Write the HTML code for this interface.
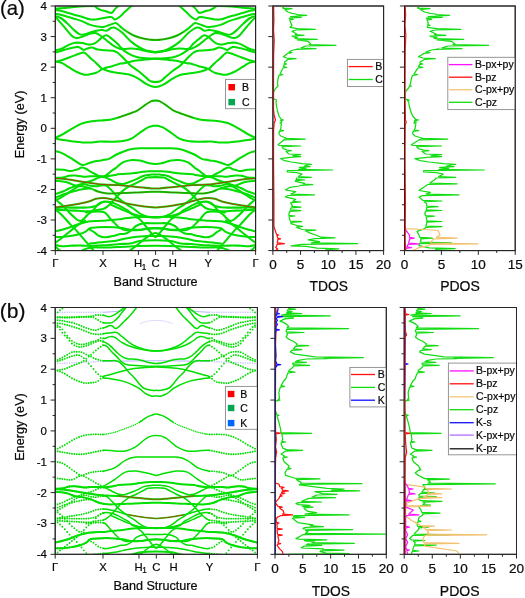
<!DOCTYPE html>
<html><head><meta charset="utf-8"><style>
html,body{margin:0;padding:0;background:#fff;width:525px;height:598px;overflow:hidden}
svg text{font-family:"Liberation Sans", sans-serif}
svg{filter:blur(0.35px)}
</style></head><body>
<svg width="525" height="598" viewBox="0 0 525 598" style="position:absolute;left:0;top:0">
<g font-family="Liberation Sans" fill="#0a0a0a">
<defs><clipPath id="cba"><rect x="55.3" y="6.0" width="200.3" height="244.6"/></clipPath></defs>
<g clip-path="url(#cba)" fill="none" stroke-linecap="round" stroke-linejoin="round">
<path d="M55.70,8.70C56.53,8.63 58.75,8.47 60.70,8.30C62.65,8.13 65.17,7.92 67.40,7.70C69.63,7.48 71.33,7.23 74.10,7.00C76.87,6.77 80.85,6.47 84.00,6.30C87.15,6.13 91.08,5.95 93.00,6.00C94.92,6.05 94.80,6.23 95.50,6.60C96.20,6.97 96.28,7.62 97.20,8.20C98.12,8.78 99.72,9.65 101.00,10.10C102.28,10.55 103.37,10.45 104.90,10.90C106.43,11.35 108.93,12.55 110.20,12.80C111.47,13.05 111.73,12.98 112.50,12.40C113.27,11.82 113.92,10.32 114.80,9.30C115.68,8.28 117.13,7.02 117.80,6.30C118.47,5.58 118.63,5.22 118.80,5.00" stroke="#00df00" stroke-width="2.05"/>
<path d="M192.10,5.00C192.27,5.22 192.43,5.58 193.10,6.30C193.77,7.02 195.22,8.28 196.10,9.30C196.98,10.32 197.63,11.82 198.40,12.40C199.17,12.98 199.43,13.05 200.70,12.80C201.97,12.55 204.47,11.35 206.00,10.90C207.53,10.45 208.62,10.55 209.90,10.10C211.18,9.65 212.78,8.78 213.70,8.20C214.62,7.62 214.70,6.97 215.40,6.60C216.10,6.23 215.98,6.05 217.90,6.00C219.82,5.95 223.75,6.13 226.90,6.30C230.05,6.47 234.03,6.77 236.80,7.00C239.57,7.23 241.27,7.48 243.50,7.70C245.73,7.92 248.25,8.13 250.20,8.30C252.15,8.47 254.37,8.63 255.20,8.70" stroke="#00df00" stroke-width="2.05"/>
<path d="M55.70,10.00C56.53,10.12 58.75,10.25 60.70,10.70C62.65,11.15 65.17,12.03 67.40,12.70C69.63,13.37 71.33,13.92 74.10,14.70C76.87,15.48 81.67,16.70 84.00,17.40C86.33,18.10 86.40,18.53 88.10,18.90C89.80,19.27 92.05,19.67 94.20,19.60C96.35,19.53 98.33,18.93 101.00,18.50C103.67,18.07 108.28,17.15 110.20,17.00C112.12,16.85 111.73,17.17 112.50,17.60C113.27,18.03 113.78,19.58 114.80,19.60C115.82,19.62 117.40,18.52 118.60,17.70C119.80,16.88 121.08,15.58 122.00,14.70C122.92,13.82 122.60,13.80 124.10,12.40C125.60,11.00 129.68,7.53 131.00,6.30C132.32,5.07 131.83,5.22 132.00,5.00" stroke="#00df00" stroke-width="2.05"/>
<path d="M178.90,5.00C179.07,5.22 178.58,5.07 179.90,6.30C181.22,7.53 185.30,11.00 186.80,12.40C188.30,13.80 187.98,13.82 188.90,14.70C189.82,15.58 191.10,16.88 192.30,17.70C193.50,18.52 195.08,19.62 196.10,19.60C197.12,19.58 197.63,18.03 198.40,17.60C199.17,17.17 198.78,16.85 200.70,17.00C202.62,17.15 207.23,18.07 209.90,18.50C212.57,18.93 214.55,19.53 216.70,19.60C218.85,19.67 221.10,19.27 222.80,18.90C224.50,18.53 224.57,18.10 226.90,17.40C229.23,16.70 234.03,15.48 236.80,14.70C239.57,13.92 241.27,13.37 243.50,12.70C245.73,12.03 248.25,11.15 250.20,10.70C252.15,10.25 254.37,10.12 255.20,10.00" stroke="#00df00" stroke-width="2.05"/>
<path d="M55.70,14.00C56.53,14.12 58.75,14.25 60.70,14.70C62.65,15.15 65.17,16.03 67.40,16.70C69.63,17.37 71.67,17.97 74.10,18.70C76.53,19.43 79.42,20.12 82.00,21.10C84.58,22.08 87.07,23.70 89.60,24.60C92.13,25.50 94.92,26.12 97.20,26.50C99.48,26.88 101.38,27.10 103.30,26.90C105.22,26.70 106.67,25.95 108.70,25.30C110.73,24.65 113.85,23.05 115.50,23.00C117.15,22.95 117.52,24.17 118.60,25.00C119.68,25.83 120.83,27.05 122.00,28.00C123.17,28.95 123.73,29.50 125.60,30.70C127.47,31.90 130.65,34.00 133.20,35.20C135.75,36.40 138.35,37.20 140.90,37.90C143.45,38.60 146.07,39.07 148.50,39.40C150.93,39.73 153.13,39.90 155.45,39.90C157.77,39.90 159.97,39.73 162.40,39.40C164.82,39.07 167.45,38.60 170.00,37.90C172.55,37.20 175.15,36.40 177.70,35.20C180.25,34.00 183.43,31.90 185.30,30.70C187.17,29.50 187.73,28.95 188.90,28.00C190.07,27.05 191.22,25.83 192.30,25.00C193.38,24.17 193.75,22.95 195.40,23.00C197.05,23.05 200.17,24.65 202.20,25.30C204.23,25.95 205.68,26.70 207.60,26.90C209.52,27.10 211.42,26.88 213.70,26.50C215.98,26.12 218.77,25.50 221.30,24.60C223.83,23.70 226.32,22.08 228.90,21.10C231.48,20.12 234.37,19.43 236.80,18.70C239.23,17.97 241.27,17.37 243.50,16.70C245.73,16.03 248.25,15.15 250.20,14.70C252.15,14.25 254.37,14.12 255.20,14.00" stroke="#00df00" stroke-width="2.05"/>
<path d="M55.70,16.40C56.53,16.67 58.75,16.83 60.70,18.00C62.65,19.17 65.17,21.38 67.40,23.40C69.63,25.42 72.10,28.32 74.10,30.10C76.10,31.88 77.75,33.35 79.40,34.10C81.05,34.85 81.67,35.05 84.00,34.60C86.33,34.15 90.57,32.18 93.40,31.40C96.23,30.62 98.83,30.02 101.00,29.90C103.17,29.78 104.73,31.02 106.40,30.70C108.07,30.38 109.73,28.52 111.00,28.00C112.27,27.48 112.83,27.35 114.00,27.60C115.17,27.85 116.67,28.68 118.00,29.50C119.33,30.32 120.73,31.42 122.00,32.50C123.27,33.58 124.03,34.43 125.60,36.00C127.17,37.57 129.22,40.07 131.40,41.90C133.58,43.73 136.25,45.58 138.70,47.00C141.15,48.42 143.63,49.60 146.10,50.40C148.57,51.20 151.94,51.55 153.50,51.80C155.06,52.05 154.80,51.90 155.45,51.90C156.10,51.90 155.84,52.05 157.40,51.80C158.96,51.55 162.33,51.20 164.80,50.40C167.27,49.60 169.75,48.42 172.20,47.00C174.65,45.58 177.32,43.73 179.50,41.90C181.68,40.07 183.73,37.57 185.30,36.00C186.87,34.43 187.63,33.58 188.90,32.50C190.17,31.42 191.57,30.32 192.90,29.50C194.23,28.68 195.73,27.85 196.90,27.60C198.07,27.35 198.63,27.48 199.90,28.00C201.17,28.52 202.83,30.38 204.50,30.70C206.17,31.02 207.73,29.78 209.90,29.90C212.07,30.02 214.67,30.62 217.50,31.40C220.33,32.18 224.57,34.15 226.90,34.60C229.23,35.05 229.85,34.85 231.50,34.10C233.15,33.35 234.80,31.88 236.80,30.10C238.80,28.32 241.27,25.42 243.50,23.40C245.73,21.38 248.25,19.17 250.20,18.00C252.15,16.83 254.37,16.67 255.20,16.40" stroke="#00df00" stroke-width="2.05"/>
<path d="M55.70,17.40C56.32,18.07 58.02,19.85 59.40,21.40C60.78,22.95 62.67,25.13 64.00,26.70C65.33,28.27 66.28,29.45 67.40,30.80C68.52,32.15 69.58,33.70 70.70,34.80C71.82,35.90 72.98,36.85 74.10,37.40C75.22,37.95 76.08,38.20 77.40,38.10C78.72,38.00 79.97,37.53 82.00,36.80C84.03,36.07 87.32,34.33 89.60,33.70C91.88,33.07 93.80,32.62 95.70,33.00C97.60,33.38 99.47,35.00 101.00,36.00C102.53,37.00 103.62,37.98 104.90,39.00C106.18,40.02 107.37,41.05 108.70,42.10C110.03,43.15 111.18,44.25 112.90,45.30C114.62,46.35 117.15,47.80 119.00,48.40C120.85,49.00 121.93,48.88 124.00,48.90C126.07,48.92 128.95,48.43 131.40,48.50C133.85,48.57 136.50,48.93 138.70,49.30C140.90,49.67 142.13,50.22 144.60,50.70C147.07,51.18 151.69,51.92 153.50,52.20C155.31,52.48 154.80,52.40 155.45,52.40C156.10,52.40 155.59,52.48 157.40,52.20C159.21,51.92 163.83,51.18 166.30,50.70C168.77,50.22 170.00,49.67 172.20,49.30C174.40,48.93 177.05,48.57 179.50,48.50C181.95,48.43 184.83,48.92 186.90,48.90C188.97,48.88 190.05,49.00 191.90,48.40C193.75,47.80 196.28,46.35 198.00,45.30C199.72,44.25 200.87,43.15 202.20,42.10C203.53,41.05 204.72,40.02 206.00,39.00C207.28,37.98 208.37,37.00 209.90,36.00C211.43,35.00 213.30,33.38 215.20,33.00C217.10,32.62 219.02,33.07 221.30,33.70C223.58,34.33 226.87,36.07 228.90,36.80C230.93,37.53 232.18,38.00 233.50,38.10C234.82,38.20 235.68,37.95 236.80,37.40C237.92,36.85 239.08,35.90 240.20,34.80C241.32,33.70 242.38,32.15 243.50,30.80C244.62,29.45 245.57,28.27 246.90,26.70C248.23,25.13 250.12,22.95 251.50,21.40C252.88,19.85 254.58,18.07 255.20,17.40" stroke="#00df00" stroke-width="2.05"/>
<path d="M55.50,50.30C56.52,50.05 59.32,49.75 61.60,48.80C63.88,47.85 66.92,45.62 69.20,44.60C71.48,43.58 73.13,42.97 75.30,42.70C77.47,42.43 80.28,42.75 82.20,43.00C84.12,43.25 85.50,43.93 86.80,44.20C88.10,44.47 88.70,44.73 90.00,44.60C91.30,44.47 93.08,44.17 94.60,43.40C96.12,42.63 97.77,41.10 99.10,40.00C100.43,38.90 101.38,37.60 102.60,36.80C103.82,36.00 105.27,35.20 106.40,35.20C107.53,35.20 108.13,35.90 109.40,36.80C110.67,37.70 112.60,39.40 114.00,40.60C115.40,41.80 116.63,42.83 117.80,44.00C118.97,45.17 119.92,46.45 121.00,47.60C122.08,48.75 122.57,49.65 124.30,50.90C126.03,52.15 129.00,54.02 131.40,55.10C133.80,56.18 135.63,56.83 138.70,57.40C141.77,57.97 147.01,58.32 149.80,58.50C152.59,58.68 153.57,58.50 155.45,58.50C157.33,58.50 158.31,58.68 161.10,58.50C163.89,58.32 169.13,57.97 172.20,57.40C175.27,56.83 177.10,56.18 179.50,55.10C181.90,54.02 184.87,52.15 186.60,50.90C188.33,49.65 188.82,48.75 189.90,47.60C190.98,46.45 191.93,45.17 193.10,44.00C194.27,42.83 195.50,41.80 196.90,40.60C198.30,39.40 200.23,37.70 201.50,36.80C202.77,35.90 203.37,35.20 204.50,35.20C205.63,35.20 207.08,36.00 208.30,36.80C209.52,37.60 210.47,38.90 211.80,40.00C213.13,41.10 214.78,42.63 216.30,43.40C217.82,44.17 219.60,44.47 220.90,44.60C222.20,44.73 222.80,44.47 224.10,44.20C225.40,43.93 226.78,43.25 228.70,43.00C230.62,42.75 233.43,42.43 235.60,42.70C237.77,42.97 239.42,43.58 241.70,44.60C243.98,45.62 247.02,47.85 249.30,48.80C251.58,49.75 254.38,50.05 255.40,50.30" stroke="#00df00" stroke-width="2.05"/>
<path d="M55.50,52.60C56.52,52.28 59.32,51.40 61.60,50.70C63.88,50.00 66.65,49.03 69.20,48.40C71.75,47.77 75.12,47.03 76.90,46.90C78.68,46.77 78.77,47.10 79.90,47.60C81.03,48.10 82.43,49.77 83.70,49.90C84.97,50.03 86.10,48.78 87.50,48.40C88.90,48.02 90.42,47.42 92.10,47.60C93.78,47.78 95.42,49.05 97.60,49.50C99.78,49.95 102.65,50.10 105.20,50.30C107.75,50.50 110.98,50.38 112.90,50.70C114.82,51.02 115.43,51.45 116.70,52.20C117.97,52.95 119.23,54.07 120.50,55.20C121.77,56.33 123.03,57.72 124.30,59.00C125.57,60.28 126.92,61.70 128.10,62.90C129.28,64.10 129.63,64.80 131.40,66.20C133.17,67.60 136.25,69.40 138.70,71.30C141.15,73.20 144.38,76.12 146.10,77.60C147.82,79.08 148.12,79.55 149.00,80.20C149.88,80.85 150.33,81.20 151.40,81.50C152.47,81.80 154.10,82.00 155.45,82.00C156.80,82.00 158.42,81.80 159.50,81.50C160.57,81.20 161.02,80.85 161.90,80.20C162.78,79.55 163.08,79.08 164.80,77.60C166.52,76.12 169.75,73.20 172.20,71.30C174.65,69.40 177.73,67.60 179.50,66.20C181.27,64.80 181.62,64.10 182.80,62.90C183.98,61.70 185.33,60.28 186.60,59.00C187.87,57.72 189.13,56.33 190.40,55.20C191.67,54.07 192.93,52.95 194.20,52.20C195.47,51.45 196.08,51.02 198.00,50.70C199.92,50.38 203.15,50.50 205.70,50.30C208.25,50.10 211.12,49.95 213.30,49.50C215.48,49.05 217.12,47.78 218.80,47.60C220.48,47.42 222.00,48.02 223.40,48.40C224.80,48.78 225.93,50.03 227.20,49.90C228.47,49.77 229.87,48.10 231.00,47.60C232.13,47.10 232.22,46.77 234.00,46.90C235.78,47.03 239.15,47.77 241.70,48.40C244.25,49.03 247.02,50.00 249.30,50.70C251.58,51.40 254.38,52.28 255.40,52.60" stroke="#00df00" stroke-width="2.05"/>
<path d="M55.50,61.70C56.52,61.45 59.32,60.90 61.60,60.20C63.88,59.50 66.65,58.45 69.20,57.50C71.75,56.55 74.60,55.32 76.90,54.50C79.20,53.68 81.48,52.73 83.00,52.60C84.52,52.47 84.73,52.75 86.00,53.70C87.27,54.65 88.92,56.77 90.60,58.30C92.28,59.83 94.30,61.25 96.10,62.90C97.90,64.55 100.25,67.18 101.40,68.20C102.55,69.22 101.73,68.50 103.00,69.00C104.27,69.50 106.72,70.57 109.00,71.20C111.28,71.83 114.20,72.37 116.70,72.80C119.20,73.23 121.55,73.40 124.00,73.80C126.45,74.20 128.95,74.37 131.40,75.20C133.85,76.03 136.32,77.40 138.70,78.80C141.08,80.20 143.58,82.35 145.70,83.60C147.82,84.85 149.78,85.73 151.40,86.30C153.03,86.87 154.10,87.00 155.45,87.00C156.80,87.00 157.87,86.87 159.50,86.30C161.12,85.73 163.08,84.85 165.20,83.60C167.32,82.35 169.82,80.20 172.20,78.80C174.58,77.40 177.05,76.03 179.50,75.20C181.95,74.37 184.45,74.20 186.90,73.80C189.35,73.40 191.70,73.23 194.20,72.80C196.70,72.37 199.62,71.83 201.90,71.20C204.18,70.57 206.63,69.50 207.90,69.00C209.17,68.50 208.35,69.22 209.50,68.20C210.65,67.18 213.00,64.55 214.80,62.90C216.60,61.25 218.62,59.83 220.30,58.30C221.98,56.77 223.63,54.65 224.90,53.70C226.17,52.75 226.38,52.47 227.90,52.60C229.42,52.73 231.70,53.68 234.00,54.50C236.30,55.32 239.15,56.55 241.70,57.50C244.25,58.45 247.02,59.50 249.30,60.20C251.58,60.90 254.38,61.45 255.40,61.70" stroke="#00df00" stroke-width="2.05"/>
<path d="M55.50,61.70C56.52,61.90 59.32,61.95 61.60,62.90C63.88,63.85 66.65,65.88 69.20,67.40C71.75,68.92 74.35,70.78 76.90,72.00C79.45,73.22 82.32,74.32 84.50,74.70C86.68,75.08 88.07,74.62 90.00,74.30C91.93,73.98 94.20,73.57 96.10,72.80C98.00,72.03 100.25,70.37 101.40,69.70C102.55,69.03 101.08,69.43 103.00,68.80C104.92,68.17 109.98,66.77 112.90,65.90C115.82,65.03 118.65,64.05 120.50,63.60C122.35,63.15 122.18,63.57 124.00,63.20C125.82,62.83 128.95,61.88 131.40,61.40C133.85,60.92 135.63,60.67 138.70,60.30C141.77,59.93 147.01,59.45 149.80,59.20C152.59,58.95 153.57,58.80 155.45,58.80C157.33,58.80 158.31,58.95 161.10,59.20C163.89,59.45 169.13,59.93 172.20,60.30C175.27,60.67 177.05,60.92 179.50,61.40C181.95,61.88 185.08,62.83 186.90,63.20C188.72,63.57 188.55,63.15 190.40,63.60C192.25,64.05 195.08,65.03 198.00,65.90C200.92,66.77 205.98,68.17 207.90,68.80C209.82,69.43 208.35,69.03 209.50,69.70C210.65,70.37 212.90,72.03 214.80,72.80C216.70,73.57 218.97,73.98 220.90,74.30C222.83,74.62 224.22,75.08 226.40,74.70C228.58,74.32 231.45,73.22 234.00,72.00C236.55,70.78 239.15,68.92 241.70,67.40C244.25,65.88 247.02,63.85 249.30,62.90C251.58,61.95 254.38,61.90 255.40,61.70" stroke="#00df00" stroke-width="2.05"/>
<path d="M55.90,137.60C57.17,136.97 60.65,135.38 63.50,133.80C66.35,132.22 69.82,129.85 73.00,128.10C76.18,126.35 79.42,124.45 82.60,123.30C85.78,122.15 89.20,121.65 92.10,121.20C95.00,120.75 96.78,120.90 100.00,120.60C103.22,120.30 107.58,120.17 111.40,119.40C115.22,118.63 119.80,116.98 122.90,116.00C126.00,115.02 127.53,114.45 130.00,113.50C132.47,112.55 135.08,111.78 137.70,110.30C140.32,108.82 143.42,106.13 145.70,104.60C147.98,103.07 149.87,101.77 151.40,101.10C152.93,100.43 154.23,100.68 154.90,100.60C155.57,100.52 155.27,100.60 155.45,100.60C155.63,100.60 155.32,100.52 156.00,100.60C156.67,100.68 157.97,100.43 159.50,101.10C161.03,101.77 162.92,103.07 165.20,104.60C167.48,106.13 170.58,108.82 173.20,110.30C175.82,111.78 178.43,112.55 180.90,113.50C183.37,114.45 184.90,115.02 188.00,116.00C191.10,116.98 195.68,118.63 199.50,119.40C203.32,120.17 207.68,120.30 210.90,120.60C214.12,120.90 215.90,120.75 218.80,121.20C221.70,121.65 225.12,122.15 228.30,123.30C231.48,124.45 234.72,126.35 237.90,128.10C241.08,129.85 244.55,132.22 247.40,133.80C250.25,135.38 253.73,136.97 255.00,137.60" stroke="#00df00" stroke-width="2.05"/>
<path d="M55.90,138.60C57.17,138.83 60.65,139.53 63.50,140.00C66.35,140.47 69.82,141.00 73.00,141.40C76.18,141.80 79.42,142.23 82.60,142.40C85.78,142.57 89.20,142.53 92.10,142.40C95.00,142.27 96.78,141.72 100.00,141.60C103.22,141.48 107.58,141.78 111.40,141.70C115.22,141.62 119.47,141.67 122.90,141.10C126.33,140.53 129.15,139.72 132.00,138.30C134.85,136.88 137.33,134.42 140.00,132.60C142.67,130.78 145.83,128.53 148.00,127.40C150.17,126.27 151.76,126.08 153.00,125.80C154.24,125.52 154.63,125.70 155.45,125.70C156.27,125.70 156.66,125.52 157.90,125.80C159.14,126.08 160.73,126.27 162.90,127.40C165.07,128.53 168.23,130.78 170.90,132.60C173.57,134.42 176.05,136.88 178.90,138.30C181.75,139.72 184.57,140.53 188.00,141.10C191.43,141.67 195.68,141.62 199.50,141.70C203.32,141.78 207.68,141.48 210.90,141.60C214.12,141.72 215.90,142.27 218.80,142.40C221.70,142.53 225.12,142.57 228.30,142.40C231.48,142.23 234.72,141.80 237.90,141.40C241.08,141.00 244.55,140.47 247.40,140.00C250.25,139.53 253.73,138.83 255.00,138.60" stroke="#00df00" stroke-width="2.05"/>
<path d="M55.90,151.20C57.17,151.63 60.65,152.42 63.50,153.80C66.35,155.18 69.98,157.67 73.00,159.50C76.02,161.33 79.22,164.08 81.60,164.80C83.98,165.52 85.23,164.37 87.30,163.80C89.37,163.23 92.10,161.90 94.00,161.40C95.90,160.90 97.03,161.07 98.70,160.80C100.37,160.53 102.27,160.12 104.00,159.80C105.73,159.48 106.92,159.82 109.10,158.90C111.28,157.98 113.85,155.83 117.10,154.30C120.35,152.77 124.78,150.70 128.60,149.70C132.42,148.70 135.53,148.53 140.00,148.30C144.47,148.07 150.30,148.30 155.45,148.30C160.60,148.30 166.42,148.07 170.90,148.30C175.37,148.53 178.48,148.70 182.30,149.70C186.12,150.70 190.55,152.77 193.80,154.30C197.05,155.83 199.62,157.98 201.80,158.90C203.98,159.82 205.17,159.48 206.90,159.80C208.63,160.12 210.53,160.53 212.20,160.80C213.87,161.07 215.00,160.90 216.90,161.40C218.80,161.90 221.53,163.23 223.60,163.80C225.67,164.37 226.92,165.52 229.30,164.80C231.68,164.08 234.88,161.33 237.90,159.50C240.92,157.67 244.55,155.18 247.40,153.80C250.25,152.42 253.73,151.63 255.00,151.20" stroke="#00df00" stroke-width="2.05"/>
<path d="M55.90,169.50C57.17,169.55 61.00,169.55 63.50,169.80C66.00,170.05 68.98,170.97 70.90,171.00C72.82,171.03 73.80,170.30 75.00,170.00C76.20,169.70 77.00,169.60 78.10,169.20C79.20,168.80 80.22,167.63 81.60,167.60C82.98,167.57 84.93,168.32 86.40,169.00C87.87,169.68 88.65,170.73 90.40,171.70C92.15,172.67 95.52,174.10 96.90,174.80C98.28,175.50 97.57,175.58 98.70,175.90C99.83,176.22 101.88,177.27 103.70,176.70C105.52,176.13 108.12,173.62 109.60,172.50C111.08,171.38 111.63,170.68 112.60,170.00C113.57,169.32 113.68,169.68 115.40,168.40C117.12,167.12 120.13,163.70 122.90,162.30C125.67,160.90 129.15,160.28 132.00,160.00C134.85,159.72 137.33,160.12 140.00,160.60C142.67,161.08 145.43,162.33 148.00,162.90C150.57,163.47 152.97,164.00 155.45,164.00C157.93,164.00 160.32,163.47 162.90,162.90C165.47,162.33 168.23,161.08 170.90,160.60C173.57,160.12 176.05,159.72 178.90,160.00C181.75,160.28 185.23,160.90 188.00,162.30C190.77,163.70 193.78,167.12 195.50,168.40C197.22,169.68 197.33,169.32 198.30,170.00C199.27,170.68 199.82,171.38 201.30,172.50C202.78,173.62 205.38,176.13 207.20,176.70C209.02,177.27 211.07,176.22 212.20,175.90C213.33,175.58 212.62,175.50 214.00,174.80C215.38,174.10 218.75,172.67 220.50,171.70C222.25,170.73 223.03,169.68 224.50,169.00C225.97,168.32 227.92,167.57 229.30,167.60C230.68,167.63 231.70,168.80 232.80,169.20C233.90,169.60 234.70,169.70 235.90,170.00C237.10,170.30 238.08,171.03 240.00,171.00C241.92,170.97 244.90,170.05 247.40,169.80C249.90,169.55 253.73,169.55 255.00,169.50" stroke="#00df00" stroke-width="2.05"/>
<path d="M55.80,177.90C57.00,177.85 60.80,177.95 63.00,177.60C65.20,177.25 66.98,176.15 69.00,175.80C71.02,175.45 72.60,175.35 75.10,175.50C77.60,175.65 81.45,176.57 84.00,176.70C86.55,176.83 87.95,176.37 90.40,176.30C92.85,176.23 95.92,176.30 98.70,176.30C101.48,176.30 104.32,176.52 107.10,176.30C109.88,176.08 113.58,175.35 115.40,175.00C117.22,174.65 116.17,174.40 118.00,174.20C119.83,174.00 123.62,174.00 126.40,173.80C129.18,173.60 131.92,173.35 134.70,173.00C137.48,172.65 140.32,171.98 143.10,171.70C145.88,171.42 149.34,171.37 151.40,171.30C153.46,171.23 154.10,171.30 155.45,171.30C156.80,171.30 157.44,171.23 159.50,171.30C161.56,171.37 165.02,171.42 167.80,171.70C170.58,171.98 173.42,172.65 176.20,173.00C178.98,173.35 181.72,173.60 184.50,173.80C187.28,174.00 191.07,174.00 192.90,174.20C194.73,174.40 193.68,174.65 195.50,175.00C197.32,175.35 201.02,176.08 203.80,176.30C206.58,176.52 209.42,176.30 212.20,176.30C214.98,176.30 218.05,176.23 220.50,176.30C222.95,176.37 224.35,176.83 226.90,176.70C229.45,176.57 233.30,175.65 235.80,175.50C238.30,175.35 239.88,175.45 241.90,175.80C243.92,176.15 245.70,177.25 247.90,177.60C250.10,177.95 253.90,177.85 255.10,177.90" stroke="#00df00" stroke-width="2.05"/>
<path d="M55.80,178.50C57.00,178.55 60.28,178.55 63.00,178.80C65.72,179.05 68.93,179.52 72.10,180.00C75.27,180.48 78.95,181.20 82.00,181.70C85.05,182.20 87.62,182.58 90.40,183.00C93.18,183.42 95.92,183.92 98.70,184.20C101.48,184.48 104.32,184.55 107.10,184.70C109.88,184.85 113.58,185.03 115.40,185.10C117.22,185.17 116.17,184.97 118.00,185.10C119.83,185.23 123.62,185.62 126.40,185.90C129.18,186.18 131.92,186.52 134.70,186.80C137.48,187.08 140.32,187.33 143.10,187.60C145.88,187.87 149.34,188.27 151.40,188.40C153.46,188.53 154.10,188.40 155.45,188.40C156.80,188.40 157.44,188.53 159.50,188.40C161.56,188.27 165.02,187.87 167.80,187.60C170.58,187.33 173.42,187.08 176.20,186.80C178.98,186.52 181.72,186.18 184.50,185.90C187.28,185.62 191.07,185.23 192.90,185.10C194.73,184.97 193.68,185.17 195.50,185.10C197.32,185.03 201.02,184.85 203.80,184.70C206.58,184.55 209.42,184.48 212.20,184.20C214.98,183.92 217.72,183.42 220.50,183.00C223.28,182.58 225.85,182.20 228.90,181.70C231.95,181.20 235.63,180.48 238.80,180.00C241.97,179.52 245.18,179.05 247.90,178.80C250.62,178.55 253.90,178.55 255.10,178.50" stroke="#00df00" stroke-width="2.05"/>
<path d="M55.80,181.00C57.00,181.10 60.80,181.25 63.00,181.60C65.20,181.95 66.98,182.45 69.00,183.10C71.02,183.75 72.93,184.97 75.10,185.50C77.27,186.03 79.45,185.82 82.00,186.30C84.55,186.78 87.62,187.48 90.40,188.40C93.18,189.32 95.92,190.97 98.70,191.80C101.48,192.63 104.32,193.13 107.10,193.40C109.88,193.67 113.58,193.43 115.40,193.40C117.22,193.37 116.17,193.28 118.00,193.20C119.83,193.12 123.62,193.00 126.40,192.90C129.18,192.80 131.92,192.72 134.70,192.60C137.48,192.48 140.32,192.33 143.10,192.20C145.88,192.07 149.34,191.87 151.40,191.80C153.46,191.73 154.10,191.80 155.45,191.80C156.80,191.80 157.44,191.73 159.50,191.80C161.56,191.87 165.02,192.07 167.80,192.20C170.58,192.33 173.42,192.48 176.20,192.60C178.98,192.72 181.72,192.80 184.50,192.90C187.28,193.00 191.07,193.12 192.90,193.20C194.73,193.28 193.68,193.37 195.50,193.40C197.32,193.43 201.02,193.67 203.80,193.40C206.58,193.13 209.42,192.63 212.20,191.80C214.98,190.97 217.72,189.32 220.50,188.40C223.28,187.48 226.35,186.78 228.90,186.30C231.45,185.82 233.63,186.03 235.80,185.50C237.97,184.97 239.88,183.75 241.90,183.10C243.92,182.45 245.70,181.95 247.90,181.60C250.10,181.25 253.90,181.10 255.10,181.00" stroke="#00df00" stroke-width="2.05"/>
<path d="M55.80,193.90C57.00,193.50 60.80,192.40 63.00,191.50C65.20,190.60 66.98,189.40 69.00,188.50C71.02,187.60 72.60,187.00 75.10,186.10C77.60,185.20 81.17,184.03 84.00,183.10C86.83,182.17 89.65,181.42 92.10,180.50C94.55,179.58 96.77,178.23 98.70,177.60C100.63,176.97 102.50,176.70 103.70,176.70C104.90,176.70 104.65,177.02 105.90,177.60C107.15,178.18 109.30,179.27 111.20,180.20C113.10,181.13 115.38,182.57 117.30,183.20C119.22,183.83 120.92,184.12 122.70,184.00C124.48,183.88 125.78,183.27 128.00,182.50C130.22,181.73 133.48,180.50 136.00,179.40C138.52,178.30 140.53,176.70 143.10,175.90C145.67,175.10 149.34,174.82 151.40,174.60C153.46,174.38 154.10,174.60 155.45,174.60C156.80,174.60 157.44,174.38 159.50,174.60C161.56,174.82 165.23,175.10 167.80,175.90C170.37,176.70 172.38,178.30 174.90,179.40C177.42,180.50 180.68,181.73 182.90,182.50C185.12,183.27 186.42,183.88 188.20,184.00C189.98,184.12 191.68,183.83 193.60,183.20C195.52,182.57 197.80,181.13 199.70,180.20C201.60,179.27 203.75,178.18 205.00,177.60C206.25,177.02 206.00,176.70 207.20,176.70C208.40,176.70 210.27,176.97 212.20,177.60C214.13,178.23 216.35,179.58 218.80,180.50C221.25,181.42 224.07,182.17 226.90,183.10C229.73,184.03 233.30,185.20 235.80,186.10C238.30,187.00 239.88,187.60 241.90,188.50C243.92,189.40 245.70,190.60 247.90,191.50C250.10,192.40 253.90,193.50 255.10,193.90" stroke="#00df00" stroke-width="2.05"/>
<path d="M55.80,197.50C57.00,197.00 60.80,195.30 63.00,194.50C65.20,193.70 66.98,193.30 69.00,192.70C71.02,192.10 72.60,191.50 75.10,190.90C77.60,190.30 81.45,189.52 84.00,189.10C86.55,188.68 89.33,188.52 90.40,188.40" stroke="#00df00" stroke-width="2.05"/>
<path d="M220.50,188.40C221.57,188.52 224.35,188.68 226.90,189.10C229.45,189.52 233.30,190.30 235.80,190.90C238.30,191.50 239.88,192.10 241.90,192.70C243.92,193.30 245.70,193.70 247.90,194.50C250.10,195.30 253.90,197.00 255.10,197.50" stroke="#00df00" stroke-width="2.05"/>
<path d="M55.80,200.50C56.50,200.10 58.30,199.10 60.00,198.10C61.70,197.10 63.98,195.80 66.00,194.50C68.02,193.20 70.08,191.60 72.10,190.30C74.12,189.00 76.12,187.70 78.10,186.70C80.08,185.70 81.95,184.45 84.00,184.30C86.05,184.15 88.40,185.47 90.40,185.80C92.40,186.13 94.30,186.35 96.00,186.30C97.70,186.25 98.95,185.63 100.60,185.50C102.25,185.37 104.38,184.98 105.90,185.50C107.42,186.02 108.43,187.45 109.70,188.60C110.97,189.75 112.35,191.13 113.50,192.40C114.65,193.67 115.70,195.18 116.60,196.20C117.50,197.22 117.88,197.62 118.90,198.50C119.92,199.38 121.18,200.37 122.70,201.50C124.22,202.63 126.35,204.22 128.00,205.30C129.65,206.38 131.27,207.13 132.60,208.00C133.93,208.87 134.77,209.58 136.00,210.50C137.23,211.42 138.67,212.67 140.00,213.50C141.33,214.33 142.67,214.95 144.00,215.50C145.33,216.05 146.09,216.52 148.00,216.80C149.91,217.08 152.97,217.20 155.45,217.20C157.93,217.20 160.99,217.08 162.90,216.80C164.81,216.52 165.57,216.05 166.90,215.50C168.23,214.95 169.57,214.33 170.90,213.50C172.23,212.67 173.67,211.42 174.90,210.50C176.13,209.58 176.97,208.87 178.30,208.00C179.63,207.13 181.25,206.38 182.90,205.30C184.55,204.22 186.68,202.63 188.20,201.50C189.72,200.37 190.98,199.38 192.00,198.50C193.02,197.62 193.40,197.22 194.30,196.20C195.20,195.18 196.25,193.67 197.40,192.40C198.55,191.13 199.93,189.75 201.20,188.60C202.47,187.45 203.48,186.02 205.00,185.50C206.52,184.98 208.65,185.37 210.30,185.50C211.95,185.63 213.20,186.25 214.90,186.30C216.60,186.35 218.50,186.13 220.50,185.80C222.50,185.47 224.85,184.15 226.90,184.30C228.95,184.45 230.82,185.70 232.80,186.70C234.78,187.70 236.78,189.00 238.80,190.30C240.82,191.60 242.88,193.20 244.90,194.50C246.92,195.80 249.20,197.10 250.90,198.10C252.60,199.10 254.40,200.10 255.10,200.50" stroke="#00df00" stroke-width="2.05"/>
<path d="M55.60,207.30C56.67,207.17 59.58,206.85 62.00,206.50C64.42,206.15 67.42,205.62 70.10,205.20C72.78,204.78 75.45,204.48 78.10,204.00C80.75,203.52 83.67,202.92 86.00,202.30C88.33,201.68 90.43,200.88 92.10,200.30C93.77,199.72 94.08,199.17 96.00,198.80C97.92,198.43 101.07,198.03 103.60,198.10C106.13,198.17 108.65,198.67 111.20,199.20C113.75,199.73 116.35,200.57 118.90,201.30C121.45,202.03 123.65,202.95 126.50,203.60C129.35,204.25 133.07,204.73 136.00,205.20C138.93,205.67 141.42,206.07 144.10,206.40C146.78,206.73 150.21,207.03 152.10,207.20C153.99,207.37 154.33,207.40 155.45,207.40C156.57,207.40 156.91,207.37 158.80,207.20C160.69,207.03 164.12,206.73 166.80,206.40C169.48,206.07 171.97,205.67 174.90,205.20C177.83,204.73 181.55,204.25 184.40,203.60C187.25,202.95 189.45,202.03 192.00,201.30C194.55,200.57 197.15,199.73 199.70,199.20C202.25,198.67 204.77,198.17 207.30,198.10C209.83,198.03 212.98,198.43 214.90,198.80C216.82,199.17 217.13,199.72 218.80,200.30C220.47,200.88 222.57,201.68 224.90,202.30C227.23,202.92 230.15,203.52 232.80,204.00C235.45,204.48 238.12,204.78 240.80,205.20C243.48,205.62 246.48,206.15 248.90,206.50C251.32,206.85 254.23,207.17 255.30,207.30" stroke="#00df00" stroke-width="2.05"/>
<path d="M55.60,208.00C56.67,207.93 59.58,207.67 62.00,207.60C64.42,207.53 67.42,207.60 70.10,207.60C72.78,207.60 75.43,207.60 78.10,207.60C80.77,207.60 84.12,207.67 86.10,207.60C88.08,207.53 88.68,207.40 90.00,207.20C91.32,207.00 92.67,206.80 94.00,206.40C95.33,206.00 96.40,205.57 98.00,204.80C99.60,204.03 101.40,202.22 103.60,201.80C105.80,201.38 108.92,201.83 111.20,202.30C113.48,202.77 115.38,203.72 117.30,204.60C119.22,205.48 120.92,206.62 122.70,207.60C124.48,208.58 126.45,209.37 128.00,210.50C129.55,211.63 129.98,213.48 132.00,214.40C134.02,215.32 137.42,215.58 140.10,216.00C142.78,216.42 145.54,216.70 148.10,216.90C150.66,217.10 153.00,217.20 155.45,217.20C157.90,217.20 160.24,217.10 162.80,216.90C165.36,216.70 168.12,216.42 170.80,216.00C173.48,215.58 176.88,215.32 178.90,214.40C180.92,213.48 181.35,211.63 182.90,210.50C184.45,209.37 186.42,208.58 188.20,207.60C189.98,206.62 191.68,205.48 193.60,204.60C195.52,203.72 197.42,202.77 199.70,202.30C201.98,201.83 205.10,201.38 207.30,201.80C209.50,202.22 211.30,204.03 212.90,204.80C214.50,205.57 215.57,206.00 216.90,206.40C218.23,206.80 219.58,207.00 220.90,207.20C222.22,207.40 222.82,207.53 224.80,207.60C226.78,207.67 230.13,207.60 232.80,207.60C235.47,207.60 238.12,207.60 240.80,207.60C243.48,207.60 246.48,207.53 248.90,207.60C251.32,207.67 254.23,207.93 255.30,208.00" stroke="#00df00" stroke-width="2.05"/>
<path d="M55.60,209.60C56.67,209.67 59.58,209.87 62.00,210.00C64.42,210.13 67.42,210.27 70.10,210.40C72.78,210.53 75.43,210.67 78.10,210.80C80.77,210.93 83.78,211.17 86.10,211.20C88.42,211.23 90.28,211.20 92.00,211.00C93.72,210.80 94.45,210.37 96.40,210.00C98.35,209.63 101.77,209.47 103.70,208.80C105.63,208.13 106.75,206.97 108.00,206.00C109.25,205.03 109.65,204.63 111.20,203.00C112.75,201.37 115.38,198.22 117.30,196.20C119.22,194.18 120.92,192.43 122.70,190.90C124.48,189.37 125.78,188.28 128.00,187.00C130.22,185.72 133.50,184.45 136.00,183.20C138.50,181.95 141.12,180.43 143.00,179.50C144.88,178.57 145.23,178.00 147.30,177.60C149.38,177.20 152.73,177.10 155.45,177.10C158.17,177.10 161.52,177.20 163.60,177.60C165.67,178.00 166.02,178.57 167.90,179.50C169.78,180.43 172.40,181.95 174.90,183.20C177.40,184.45 180.68,185.72 182.90,187.00C185.12,188.28 186.42,189.37 188.20,190.90C189.98,192.43 191.68,194.18 193.60,196.20C195.52,198.22 198.15,201.37 199.70,203.00C201.25,204.63 201.65,205.03 202.90,206.00C204.15,206.97 205.27,208.13 207.20,208.80C209.13,209.47 212.55,209.63 214.50,210.00C216.45,210.37 217.18,210.80 218.90,211.00C220.62,211.20 222.48,211.23 224.80,211.20C227.12,211.17 230.13,210.93 232.80,210.80C235.47,210.67 238.12,210.53 240.80,210.40C243.48,210.27 246.48,210.13 248.90,210.00C251.32,209.87 254.23,209.67 255.30,209.60" stroke="#00df00" stroke-width="2.05"/>
<path d="M56.40,210.40C57.33,211.20 59.72,212.92 62.00,215.20C64.28,217.48 67.95,221.82 70.10,224.10C72.25,226.38 73.17,227.03 74.90,228.90C76.63,230.77 78.63,233.15 80.50,235.30C82.37,237.45 84.35,239.78 86.10,241.80C87.85,243.82 89.77,245.97 91.00,247.40C92.23,248.83 93.08,249.90 93.50,250.40" stroke="#00df00" stroke-width="2.05"/>
<path d="M217.40,250.40C217.82,249.90 218.67,248.83 219.90,247.40C221.13,245.97 223.05,243.82 224.80,241.80C226.55,239.78 228.53,237.45 230.40,235.30C232.27,233.15 234.27,230.77 236.00,228.90C237.73,227.03 238.65,226.38 240.80,224.10C242.95,221.82 246.62,217.48 248.90,215.20C251.18,212.92 253.57,211.20 254.50,210.40" stroke="#00df00" stroke-width="2.05"/>
<path d="M55.80,199.30C56.30,199.80 57.83,201.43 58.80,202.30C59.77,203.17 60.33,203.32 61.60,204.50C62.87,205.68 64.50,207.47 66.40,209.40C68.30,211.33 70.65,214.18 73.00,216.10C75.35,218.02 78.12,221.07 80.50,220.90C82.88,220.73 85.37,216.70 87.30,215.10C89.23,213.50 90.50,212.88 92.10,211.30C93.70,209.72 95.58,206.98 96.90,205.60C98.22,204.22 98.82,203.63 100.00,203.00C101.18,202.37 103.33,202.00 104.00,201.80" stroke="#00df00" stroke-width="2.05"/>
<path d="M206.90,201.80C207.57,202.00 209.72,202.37 210.90,203.00C212.08,203.63 212.68,204.22 214.00,205.60C215.32,206.98 217.20,209.72 218.80,211.30C220.40,212.88 221.67,213.50 223.60,215.10C225.53,216.70 228.02,220.73 230.40,220.90C232.78,221.07 235.55,218.02 237.90,216.10C240.25,214.18 242.60,211.33 244.50,209.40C246.40,207.47 248.03,205.68 249.30,204.50C250.57,203.32 251.13,203.17 252.10,202.30C253.07,201.43 254.60,199.80 255.10,199.30" stroke="#00df00" stroke-width="2.05"/>
<path d="M55.60,242.60C56.67,241.78 59.58,239.58 62.00,237.70C64.42,235.82 67.95,233.03 70.10,231.30C72.25,229.57 73.17,228.63 74.90,227.30C76.63,225.97 78.82,224.43 80.50,223.30C82.18,222.17 84.25,220.97 85.00,220.50" stroke="#00df00" stroke-width="2.05"/>
<path d="M225.90,220.50C226.65,220.97 228.72,222.17 230.40,223.30C232.08,224.43 234.27,225.97 236.00,227.30C237.73,228.63 238.65,229.57 240.80,231.30C242.95,233.03 246.48,235.82 248.90,237.70C251.32,239.58 254.23,241.78 255.30,242.60" stroke="#00df00" stroke-width="2.05"/>
<path d="M55.60,231.30C56.67,231.03 59.58,230.37 62.00,229.70C64.42,229.03 67.42,228.23 70.10,227.30C72.78,226.37 75.43,224.97 78.10,224.10C80.77,223.23 84.12,222.57 86.10,222.10C88.08,221.63 88.02,221.50 90.00,221.30C91.98,221.10 95.32,221.03 98.00,220.90C100.68,220.77 103.42,220.70 106.10,220.50C108.78,220.30 111.43,219.97 114.10,219.70C116.77,219.43 119.45,219.23 122.10,218.90C124.75,218.57 127.00,218.03 130.00,217.70C133.00,217.37 137.08,217.03 140.10,216.90C143.12,216.77 145.54,216.87 148.10,216.90C150.66,216.93 153.00,217.10 155.45,217.10C157.90,217.10 160.24,216.93 162.80,216.90C165.36,216.87 167.78,216.77 170.80,216.90C173.82,217.03 177.90,217.37 180.90,217.70C183.90,218.03 186.15,218.57 188.80,218.90C191.45,219.23 194.13,219.43 196.80,219.70C199.47,219.97 202.12,220.30 204.80,220.50C207.48,220.70 210.22,220.77 212.90,220.90C215.58,221.03 218.92,221.10 220.90,221.30C222.88,221.50 222.82,221.63 224.80,222.10C226.78,222.57 230.13,223.23 232.80,224.10C235.47,224.97 238.12,226.37 240.80,227.30C243.48,228.23 246.48,229.03 248.90,229.70C251.32,230.37 254.23,231.03 255.30,231.30" stroke="#00df00" stroke-width="2.05"/>
<path d="M55.60,236.90C56.67,236.90 59.58,237.03 62.00,236.90C64.42,236.77 67.42,236.50 70.10,236.10C72.78,235.70 75.43,235.30 78.10,234.50C80.77,233.70 84.12,232.37 86.10,231.30C88.08,230.23 88.02,228.77 90.00,228.10C91.98,227.43 95.32,227.50 98.00,227.30C100.68,227.10 103.42,226.90 106.10,226.90C108.78,226.90 111.43,227.10 114.10,227.30C116.77,227.50 119.45,227.70 122.10,228.10C124.75,228.50 127.00,229.43 130.00,229.70C133.00,229.97 137.08,229.90 140.10,229.70C143.12,229.50 145.54,228.77 148.10,228.50C150.66,228.23 153.00,228.10 155.45,228.10C157.90,228.10 160.24,228.23 162.80,228.50C165.36,228.77 167.78,229.50 170.80,229.70C173.82,229.90 177.90,229.97 180.90,229.70C183.90,229.43 186.15,228.50 188.80,228.10C191.45,227.70 194.13,227.50 196.80,227.30C199.47,227.10 202.12,226.90 204.80,226.90C207.48,226.90 210.22,227.10 212.90,227.30C215.58,227.50 218.92,227.43 220.90,228.10C222.88,228.77 222.82,230.23 224.80,231.30C226.78,232.37 230.13,233.70 232.80,234.50C235.47,235.30 238.12,235.70 240.80,236.10C243.48,236.50 246.48,236.77 248.90,236.90C251.32,237.03 254.23,236.90 255.30,236.90" stroke="#00df00" stroke-width="2.05"/>
<path d="M86.00,212.50C86.67,212.42 87.05,212.08 90.00,212.00C92.95,211.92 100.35,210.92 103.70,212.00C107.05,213.08 108.37,216.75 110.10,218.50C111.83,220.25 112.63,221.03 114.10,222.50C115.57,223.97 117.30,226.10 118.90,227.30C120.50,228.50 121.85,229.20 123.70,229.70C125.55,230.20 127.28,230.27 130.00,230.30C132.72,230.33 137.00,230.18 140.00,229.90C143.00,229.62 145.43,228.87 148.00,228.60C150.57,228.33 152.97,228.30 155.45,228.30C157.93,228.30 160.32,228.33 162.90,228.60C165.47,228.87 167.90,229.62 170.90,229.90C173.90,230.18 178.18,230.33 180.90,230.30C183.62,230.27 185.35,230.20 187.20,229.70C189.05,229.20 190.40,228.50 192.00,227.30C193.60,226.10 195.33,223.97 196.80,222.50C198.27,221.03 199.07,220.25 200.80,218.50C202.53,216.75 203.85,213.08 207.20,212.00C210.55,210.92 217.95,211.92 220.90,212.00C223.85,212.08 224.23,212.42 224.90,212.50" stroke="#00df00" stroke-width="2.05"/>
<path d="M110.10,204.40C111.17,204.87 114.23,206.20 116.50,207.20C118.77,208.20 121.45,209.47 123.70,210.40C125.95,211.33 127.28,211.87 130.00,212.80C132.72,213.73 137.00,215.30 140.00,216.00C143.00,216.70 145.43,216.80 148.00,217.00C150.57,217.20 152.97,217.20 155.45,217.20C157.93,217.20 160.32,217.20 162.90,217.00C165.47,216.80 167.90,216.70 170.90,216.00C173.90,215.30 178.18,213.73 180.90,212.80C183.62,211.87 184.95,211.33 187.20,210.40C189.45,209.47 192.13,208.20 194.40,207.20C196.67,206.20 199.73,204.87 200.80,204.40" stroke="#00df00" stroke-width="2.05"/>
<path d="M90.00,229.70C90.67,230.10 92.67,231.17 94.00,232.10C95.33,233.03 96.67,234.50 98.00,235.30C99.33,236.10 100.65,236.57 102.00,236.90C103.35,237.23 104.08,237.50 106.10,237.30C108.12,237.10 111.70,236.23 114.10,235.70C116.50,235.17 118.50,234.47 120.50,234.10C122.50,233.73 124.18,234.18 126.10,233.50C128.02,232.82 130.35,231.25 132.00,230.00C133.65,228.75 133.98,227.12 136.00,226.00C138.02,224.88 141.42,223.75 144.10,223.30C146.78,222.85 150.21,223.30 152.10,223.30C153.99,223.30 154.33,223.30 155.45,223.30C156.57,223.30 156.91,223.30 158.80,223.30C160.69,223.30 164.12,222.85 166.80,223.30C169.48,223.75 172.88,224.88 174.90,226.00C176.92,227.12 177.25,228.75 178.90,230.00C180.55,231.25 182.88,232.82 184.80,233.50C186.72,234.18 188.40,233.73 190.40,234.10C192.40,234.47 194.40,235.17 196.80,235.70C199.20,236.23 202.78,237.10 204.80,237.30C206.82,237.50 207.55,237.23 208.90,236.90C210.25,236.57 211.57,236.10 212.90,235.30C214.23,234.50 215.57,233.03 216.90,232.10C218.23,231.17 220.23,230.10 220.90,229.70" stroke="#00df00" stroke-width="2.05"/>
<path d="M90.00,243.40C91.33,243.27 95.32,242.87 98.00,242.60C100.68,242.33 103.42,242.07 106.10,241.80C108.78,241.53 111.43,241.42 114.10,241.00C116.77,240.58 119.45,239.85 122.10,239.30C124.75,238.75 127.02,238.17 130.00,237.70C132.98,237.23 137.00,236.78 140.00,236.50C143.00,236.22 145.43,236.08 148.00,236.00C150.57,235.92 152.97,236.00 155.45,236.00C157.93,236.00 160.32,235.92 162.90,236.00C165.47,236.08 167.90,236.22 170.90,236.50C173.90,236.78 177.92,237.23 180.90,237.70C183.88,238.17 186.15,238.75 188.80,239.30C191.45,239.85 194.13,240.58 196.80,241.00C199.47,241.42 202.12,241.53 204.80,241.80C207.48,242.07 210.22,242.33 212.90,242.60C215.58,242.87 219.57,243.27 220.90,243.40" stroke="#00df00" stroke-width="2.05"/>
<path d="M55.60,245.00C56.67,245.20 59.58,246.07 62.00,246.20C64.42,246.33 67.42,245.93 70.10,245.80C72.78,245.67 75.43,245.40 78.10,245.40C80.77,245.40 83.45,245.73 86.10,245.80C88.75,245.87 91.68,245.85 94.00,245.80C96.32,245.75 97.33,245.63 100.00,245.50C102.67,245.37 106.67,245.25 110.00,245.00C113.33,244.75 116.67,244.25 120.00,244.00C123.33,243.75 126.67,244.00 130.00,243.50C133.33,243.00 135.76,241.55 140.00,241.00C144.24,240.45 150.30,240.20 155.45,240.20C160.60,240.20 166.66,240.45 170.90,241.00C175.14,241.55 177.57,243.00 180.90,243.50C184.23,244.00 187.57,243.75 190.90,244.00C194.23,244.25 197.57,244.75 200.90,245.00C204.23,245.25 208.23,245.37 210.90,245.50C213.57,245.63 214.58,245.75 216.90,245.80C219.22,245.85 222.15,245.87 224.80,245.80C227.45,245.73 230.13,245.40 232.80,245.40C235.47,245.40 238.12,245.67 240.80,245.80C243.48,245.93 246.48,246.33 248.90,246.20C251.32,246.07 254.23,245.20 255.30,245.00" stroke="#00df00" stroke-width="2.05"/>
<path d="M82.10,250.40C83.03,250.03 85.72,248.70 87.70,248.20C89.68,247.70 91.95,247.53 94.00,247.40C96.05,247.27 97.33,247.40 100.00,247.40C102.67,247.40 106.67,247.47 110.00,247.40C113.33,247.33 116.67,247.15 120.00,247.00C123.33,246.85 126.67,246.67 130.00,246.50C133.33,246.33 135.76,246.12 140.00,246.00C144.24,245.88 150.30,245.80 155.45,245.80C160.60,245.80 166.66,245.88 170.90,246.00C175.14,246.12 177.57,246.33 180.90,246.50C184.23,246.67 187.57,246.85 190.90,247.00C194.23,247.15 197.57,247.33 200.90,247.40C204.23,247.47 208.23,247.40 210.90,247.40C213.57,247.40 214.85,247.27 216.90,247.40C218.95,247.53 221.22,247.70 223.20,248.20C225.18,248.70 227.87,250.03 228.80,250.40" stroke="#00df00" stroke-width="2.05"/>
<path d="M136.00,217.00C136.67,217.42 138.67,218.33 140.00,219.50C141.33,220.67 142.67,222.42 144.00,224.00C145.33,225.58 146.67,227.33 148.00,229.00C149.33,230.67 150.76,232.67 152.00,234.00C153.24,235.33 154.30,237.00 155.45,237.00C156.60,237.00 157.66,235.33 158.90,234.00C160.14,232.67 161.57,230.67 162.90,229.00C164.23,227.33 165.57,225.58 166.90,224.00C168.23,222.42 169.57,220.67 170.90,219.50C172.23,218.33 174.23,217.42 174.90,217.00" stroke="#00df00" stroke-width="2.05"/>
<path d="M130.00,250.40C131.00,249.67 134.00,247.57 136.00,246.00C138.00,244.43 140.00,242.58 142.00,241.00C144.00,239.42 145.76,237.83 148.00,236.50C150.24,235.17 152.97,233.00 155.45,233.00C157.93,233.00 160.66,235.17 162.90,236.50C165.14,237.83 166.90,239.42 168.90,241.00C170.90,242.58 172.90,244.43 174.90,246.00C176.90,247.57 179.90,249.67 180.90,250.40" stroke="#00df00" stroke-width="2.05"/>
<path d="M55.60,246.60C56.13,247.13 58.07,249.17 58.80,249.80C59.53,250.43 59.80,250.30 60.00,250.40" stroke="#00df00" stroke-width="2.05"/>
<path d="M250.90,250.40C251.10,250.30 251.37,250.43 252.10,249.80C252.83,249.17 254.77,247.13 255.30,246.60" stroke="#00df00" stroke-width="2.05"/>
<clipPath id="ovcba0"><rect x="128.0" y="6.0" width="54.9" height="244.6"/></clipPath>
<path d="M55.70,14.00C56.53,14.12 58.75,14.25 60.70,14.70C62.65,15.15 65.17,16.03 67.40,16.70C69.63,17.37 71.67,17.97 74.10,18.70C76.53,19.43 79.42,20.12 82.00,21.10C84.58,22.08 87.07,23.70 89.60,24.60C92.13,25.50 94.92,26.12 97.20,26.50C99.48,26.88 101.38,27.10 103.30,26.90C105.22,26.70 106.67,25.95 108.70,25.30C110.73,24.65 113.85,23.05 115.50,23.00C117.15,22.95 117.52,24.17 118.60,25.00C119.68,25.83 120.83,27.05 122.00,28.00C123.17,28.95 123.73,29.50 125.60,30.70C127.47,31.90 130.65,34.00 133.20,35.20C135.75,36.40 138.35,37.20 140.90,37.90C143.45,38.60 146.07,39.07 148.50,39.40C150.93,39.73 153.13,39.90 155.45,39.90C157.77,39.90 159.97,39.73 162.40,39.40C164.82,39.07 167.45,38.60 170.00,37.90C172.55,37.20 175.15,36.40 177.70,35.20C180.25,34.00 183.43,31.90 185.30,30.70C187.17,29.50 187.73,28.95 188.90,28.00C190.07,27.05 191.22,25.83 192.30,25.00C193.38,24.17 193.75,22.95 195.40,23.00C197.05,23.05 200.17,24.65 202.20,25.30C204.23,25.95 205.68,26.70 207.60,26.90C209.52,27.10 211.42,26.88 213.70,26.50C215.98,26.12 218.77,25.50 221.30,24.60C223.83,23.70 226.32,22.08 228.90,21.10C231.48,20.12 234.37,19.43 236.80,18.70C239.23,17.97 241.27,17.37 243.50,16.70C245.73,16.03 248.25,15.15 250.20,14.70C252.15,14.25 254.37,14.12 255.20,14.00" stroke="#3f8500" stroke-width="1.0" clip-path="url(#ovcba0)"/>
<clipPath id="ovcba1"><rect x="118.0" y="6.0" width="74.9" height="244.6"/></clipPath>
<path d="M55.90,137.60C57.17,136.97 60.65,135.38 63.50,133.80C66.35,132.22 69.82,129.85 73.00,128.10C76.18,126.35 79.42,124.45 82.60,123.30C85.78,122.15 89.20,121.65 92.10,121.20C95.00,120.75 96.78,120.90 100.00,120.60C103.22,120.30 107.58,120.17 111.40,119.40C115.22,118.63 119.80,116.98 122.90,116.00C126.00,115.02 127.53,114.45 130.00,113.50C132.47,112.55 135.08,111.78 137.70,110.30C140.32,108.82 143.42,106.13 145.70,104.60C147.98,103.07 149.87,101.77 151.40,101.10C152.93,100.43 154.23,100.68 154.90,100.60C155.57,100.52 155.27,100.60 155.45,100.60C155.63,100.60 155.32,100.52 156.00,100.60C156.67,100.68 157.97,100.43 159.50,101.10C161.03,101.77 162.92,103.07 165.20,104.60C167.48,106.13 170.58,108.82 173.20,110.30C175.82,111.78 178.43,112.55 180.90,113.50C183.37,114.45 184.90,115.02 188.00,116.00C191.10,116.98 195.68,118.63 199.50,119.40C203.32,120.17 207.68,120.30 210.90,120.60C214.12,120.90 215.90,120.75 218.80,121.20C221.70,121.65 225.12,122.15 228.30,123.30C231.48,124.45 234.72,126.35 237.90,128.10C241.08,129.85 244.55,132.22 247.40,133.80C250.25,135.38 253.73,136.97 255.00,137.60" stroke="#3f8500" stroke-width="1.0" clip-path="url(#ovcba1)"/>
<clipPath id="ovcba2"><rect x="55.0" y="6.0" width="200.9" height="244.6"/></clipPath>
<path d="M55.80,178.50C57.00,178.55 60.28,178.55 63.00,178.80C65.72,179.05 68.93,179.52 72.10,180.00C75.27,180.48 78.95,181.20 82.00,181.70C85.05,182.20 87.62,182.58 90.40,183.00C93.18,183.42 95.92,183.92 98.70,184.20C101.48,184.48 104.32,184.55 107.10,184.70C109.88,184.85 113.58,185.03 115.40,185.10C117.22,185.17 116.17,184.97 118.00,185.10C119.83,185.23 123.62,185.62 126.40,185.90C129.18,186.18 131.92,186.52 134.70,186.80C137.48,187.08 140.32,187.33 143.10,187.60C145.88,187.87 149.34,188.27 151.40,188.40C153.46,188.53 154.10,188.40 155.45,188.40C156.80,188.40 157.44,188.53 159.50,188.40C161.56,188.27 165.02,187.87 167.80,187.60C170.58,187.33 173.42,187.08 176.20,186.80C178.98,186.52 181.72,186.18 184.50,185.90C187.28,185.62 191.07,185.23 192.90,185.10C194.73,184.97 193.68,185.17 195.50,185.10C197.32,185.03 201.02,184.85 203.80,184.70C206.58,184.55 209.42,184.48 212.20,184.20C214.98,183.92 217.72,183.42 220.50,183.00C223.28,182.58 225.85,182.20 228.90,181.70C231.95,181.20 235.63,180.48 238.80,180.00C241.97,179.52 245.18,179.05 247.90,178.80C250.62,178.55 253.90,178.55 255.10,178.50" stroke="#b03c00" stroke-width="1.0" clip-path="url(#ovcba2)"/>
<clipPath id="ovcba3"><rect x="95.0" y="6.0" width="120.9" height="244.6"/></clipPath>
<path d="M55.80,181.00C57.00,181.10 60.80,181.25 63.00,181.60C65.20,181.95 66.98,182.45 69.00,183.10C71.02,183.75 72.93,184.97 75.10,185.50C77.27,186.03 79.45,185.82 82.00,186.30C84.55,186.78 87.62,187.48 90.40,188.40C93.18,189.32 95.92,190.97 98.70,191.80C101.48,192.63 104.32,193.13 107.10,193.40C109.88,193.67 113.58,193.43 115.40,193.40C117.22,193.37 116.17,193.28 118.00,193.20C119.83,193.12 123.62,193.00 126.40,192.90C129.18,192.80 131.92,192.72 134.70,192.60C137.48,192.48 140.32,192.33 143.10,192.20C145.88,192.07 149.34,191.87 151.40,191.80C153.46,191.73 154.10,191.80 155.45,191.80C156.80,191.80 157.44,191.73 159.50,191.80C161.56,191.87 165.02,192.07 167.80,192.20C170.58,192.33 173.42,192.48 176.20,192.60C178.98,192.72 181.72,192.80 184.50,192.90C187.28,193.00 191.07,193.12 192.90,193.20C194.73,193.28 193.68,193.37 195.50,193.40C197.32,193.43 201.02,193.67 203.80,193.40C206.58,193.13 209.42,192.63 212.20,191.80C214.98,190.97 217.72,189.32 220.50,188.40C223.28,187.48 226.35,186.78 228.90,186.30C231.45,185.82 233.63,186.03 235.80,185.50C237.97,184.97 239.88,183.75 241.90,183.10C243.92,182.45 245.70,181.95 247.90,181.60C250.10,181.25 253.90,181.10 255.10,181.00" stroke="#3f8500" stroke-width="1.0" clip-path="url(#ovcba3)"/>
<clipPath id="ovcba4"><rect x="55.0" y="6.0" width="200.9" height="244.6"/></clipPath>
<path d="M55.60,207.30C56.67,207.17 59.58,206.85 62.00,206.50C64.42,206.15 67.42,205.62 70.10,205.20C72.78,204.78 75.45,204.48 78.10,204.00C80.75,203.52 83.67,202.92 86.00,202.30C88.33,201.68 90.43,200.88 92.10,200.30C93.77,199.72 94.08,199.17 96.00,198.80C97.92,198.43 101.07,198.03 103.60,198.10C106.13,198.17 108.65,198.67 111.20,199.20C113.75,199.73 116.35,200.57 118.90,201.30C121.45,202.03 123.65,202.95 126.50,203.60C129.35,204.25 133.07,204.73 136.00,205.20C138.93,205.67 141.42,206.07 144.10,206.40C146.78,206.73 150.21,207.03 152.10,207.20C153.99,207.37 154.33,207.40 155.45,207.40C156.57,207.40 156.91,207.37 158.80,207.20C160.69,207.03 164.12,206.73 166.80,206.40C169.48,206.07 171.97,205.67 174.90,205.20C177.83,204.73 181.55,204.25 184.40,203.60C187.25,202.95 189.45,202.03 192.00,201.30C194.55,200.57 197.15,199.73 199.70,199.20C202.25,198.67 204.77,198.17 207.30,198.10C209.83,198.03 212.98,198.43 214.90,198.80C216.82,199.17 217.13,199.72 218.80,200.30C220.47,200.88 222.57,201.68 224.90,202.30C227.23,202.92 230.15,203.52 232.80,204.00C235.45,204.48 238.12,204.78 240.80,205.20C243.48,205.62 246.48,206.15 248.90,206.50C251.32,206.85 254.23,207.17 255.30,207.30" stroke="#b03c00" stroke-width="1.0" clip-path="url(#ovcba4)"/>
</g>
<rect x="55.30" y="6.00" width="200.30" height="244.60" fill="none" stroke="#262626" stroke-width="1"/>
<line x1="50.70" y1="250.60" x2="55.30" y2="250.60" stroke="#262626" stroke-width="1"/>
<line x1="52.70" y1="235.31" x2="55.30" y2="235.31" stroke="#262626" stroke-width="1"/>
<line x1="50.70" y1="220.03" x2="55.30" y2="220.03" stroke="#262626" stroke-width="1"/>
<line x1="52.70" y1="204.74" x2="55.30" y2="204.74" stroke="#262626" stroke-width="1"/>
<line x1="50.70" y1="189.45" x2="55.30" y2="189.45" stroke="#262626" stroke-width="1"/>
<line x1="52.70" y1="174.16" x2="55.30" y2="174.16" stroke="#262626" stroke-width="1"/>
<line x1="50.70" y1="158.88" x2="55.30" y2="158.88" stroke="#262626" stroke-width="1"/>
<line x1="52.70" y1="143.59" x2="55.30" y2="143.59" stroke="#262626" stroke-width="1"/>
<line x1="50.70" y1="128.30" x2="55.30" y2="128.30" stroke="#262626" stroke-width="1"/>
<line x1="52.70" y1="113.01" x2="55.30" y2="113.01" stroke="#262626" stroke-width="1"/>
<line x1="50.70" y1="97.72" x2="55.30" y2="97.72" stroke="#262626" stroke-width="1"/>
<line x1="52.70" y1="82.44" x2="55.30" y2="82.44" stroke="#262626" stroke-width="1"/>
<line x1="50.70" y1="67.15" x2="55.30" y2="67.15" stroke="#262626" stroke-width="1"/>
<line x1="52.70" y1="51.86" x2="55.30" y2="51.86" stroke="#262626" stroke-width="1"/>
<line x1="50.70" y1="36.58" x2="55.30" y2="36.58" stroke="#262626" stroke-width="1"/>
<line x1="52.70" y1="21.29" x2="55.30" y2="21.29" stroke="#262626" stroke-width="1"/>
<line x1="50.70" y1="6.00" x2="55.30" y2="6.00" stroke="#262626" stroke-width="1"/>
<text x="47.00" y="254.60" font-size="11.5" text-anchor="end" stroke="#0a0a0a" stroke-width="0.22" >-4</text>
<text x="47.00" y="224.03" font-size="11.5" text-anchor="end" stroke="#0a0a0a" stroke-width="0.22" >-3</text>
<text x="47.00" y="193.45" font-size="11.5" text-anchor="end" stroke="#0a0a0a" stroke-width="0.22" >-2</text>
<text x="47.00" y="162.88" font-size="11.5" text-anchor="end" stroke="#0a0a0a" stroke-width="0.22" >-1</text>
<text x="47.00" y="132.30" font-size="11.5" text-anchor="end" stroke="#0a0a0a" stroke-width="0.22" >0</text>
<text x="47.00" y="101.72" font-size="11.5" text-anchor="end" stroke="#0a0a0a" stroke-width="0.22" >1</text>
<text x="47.00" y="71.15" font-size="11.5" text-anchor="end" stroke="#0a0a0a" stroke-width="0.22" >2</text>
<text x="47.00" y="40.58" font-size="11.5" text-anchor="end" stroke="#0a0a0a" stroke-width="0.22" >3</text>
<text x="47.00" y="10.00" font-size="11.5" text-anchor="end" stroke="#0a0a0a" stroke-width="0.22" >4</text>
<line x1="55.30" y1="250.60" x2="55.30" y2="254.90" stroke="#262626" stroke-width="1"/>
<line x1="103.00" y1="250.60" x2="103.00" y2="254.90" stroke="#262626" stroke-width="1"/>
<line x1="138.40" y1="250.60" x2="138.40" y2="254.90" stroke="#262626" stroke-width="1"/>
<line x1="155.60" y1="250.60" x2="155.60" y2="254.90" stroke="#262626" stroke-width="1"/>
<line x1="172.80" y1="250.60" x2="172.80" y2="254.90" stroke="#262626" stroke-width="1"/>
<line x1="208.20" y1="250.60" x2="208.20" y2="254.90" stroke="#262626" stroke-width="1"/>
<line x1="255.60" y1="250.60" x2="255.60" y2="254.90" stroke="#262626" stroke-width="1"/>
<text x="55.30" y="267.00" font-size="11.3" text-anchor="middle" stroke="#0a0a0a" stroke-width="0.22" >Γ</text>
<text x="103.00" y="267.00" font-size="11.3" text-anchor="middle" stroke="#0a0a0a" stroke-width="0.22" >X</text>
<text x="138.10" y="267.00" font-size="11.3" text-anchor="middle" stroke="#0a0a0a" stroke-width="0.22" >H</text>
<text x="144.00" y="269.70" font-size="8.2" text-anchor="middle" stroke="#0a0a0a" stroke-width="0.22" >1</text>
<text x="155.60" y="267.00" font-size="11.3" text-anchor="middle" stroke="#0a0a0a" stroke-width="0.22" >C</text>
<text x="172.80" y="267.00" font-size="11.3" text-anchor="middle" stroke="#0a0a0a" stroke-width="0.22" >H</text>
<text x="208.20" y="267.00" font-size="11.3" text-anchor="middle" stroke="#0a0a0a" stroke-width="0.22" >Y</text>
<text x="255.60" y="267.00" font-size="11.3" text-anchor="middle" stroke="#0a0a0a" stroke-width="0.22" >Γ</text>
<text x="155.60" y="286.40" font-size="12.6" text-anchor="middle" stroke="#0a0a0a" stroke-width="0.22" >Band Structure</text>
<rect x="272.90" y="6.00" width="110.70" height="244.60" fill="none" stroke="#262626" stroke-width="1"/>
<line x1="268.30" y1="250.60" x2="272.90" y2="250.60" stroke="#262626" stroke-width="1"/>
<line x1="268.30" y1="220.03" x2="272.90" y2="220.03" stroke="#262626" stroke-width="1"/>
<line x1="268.30" y1="189.45" x2="272.90" y2="189.45" stroke="#262626" stroke-width="1"/>
<line x1="268.30" y1="158.88" x2="272.90" y2="158.88" stroke="#262626" stroke-width="1"/>
<line x1="268.30" y1="128.30" x2="272.90" y2="128.30" stroke="#262626" stroke-width="1"/>
<line x1="268.30" y1="97.72" x2="272.90" y2="97.72" stroke="#262626" stroke-width="1"/>
<line x1="268.30" y1="67.15" x2="272.90" y2="67.15" stroke="#262626" stroke-width="1"/>
<line x1="268.30" y1="36.58" x2="272.90" y2="36.58" stroke="#262626" stroke-width="1"/>
<line x1="268.30" y1="6.00" x2="272.90" y2="6.00" stroke="#262626" stroke-width="1"/>
<line x1="272.90" y1="250.60" x2="272.90" y2="254.90" stroke="#262626" stroke-width="1"/>
<text x="272.90" y="268.70" font-size="13.5" text-anchor="middle" stroke="#0a0a0a" stroke-width="0.22" >0</text>
<line x1="300.57" y1="250.60" x2="300.57" y2="254.90" stroke="#262626" stroke-width="1"/>
<text x="300.57" y="268.70" font-size="13.5" text-anchor="middle" stroke="#0a0a0a" stroke-width="0.22" >5</text>
<line x1="328.25" y1="250.60" x2="328.25" y2="254.90" stroke="#262626" stroke-width="1"/>
<text x="328.25" y="268.70" font-size="13.5" text-anchor="middle" stroke="#0a0a0a" stroke-width="0.22" >10</text>
<line x1="355.93" y1="250.60" x2="355.93" y2="254.90" stroke="#262626" stroke-width="1"/>
<text x="355.93" y="268.70" font-size="13.5" text-anchor="middle" stroke="#0a0a0a" stroke-width="0.22" >15</text>
<line x1="383.60" y1="250.60" x2="383.60" y2="254.90" stroke="#262626" stroke-width="1"/>
<text x="383.60" y="268.70" font-size="13.5" text-anchor="middle" stroke="#0a0a0a" stroke-width="0.22" >20</text>
<line x1="286.74" y1="250.60" x2="286.74" y2="253.00" stroke="#262626" stroke-width="1"/>
<line x1="314.41" y1="250.60" x2="314.41" y2="253.00" stroke="#262626" stroke-width="1"/>
<line x1="342.09" y1="250.60" x2="342.09" y2="253.00" stroke="#262626" stroke-width="1"/>
<line x1="369.76" y1="250.60" x2="369.76" y2="253.00" stroke="#262626" stroke-width="1"/>
<text x="328.70" y="290.50" font-size="13.8" text-anchor="middle" stroke="#0a0a0a" stroke-width="0.22" >TDOS</text>
<rect x="404.50" y="6.00" width="110.70" height="244.60" fill="none" stroke="#262626" stroke-width="1"/>
<line x1="399.90" y1="250.60" x2="404.50" y2="250.60" stroke="#262626" stroke-width="1"/>
<line x1="401.90" y1="235.31" x2="404.50" y2="235.31" stroke="#262626" stroke-width="1"/>
<line x1="399.90" y1="220.03" x2="404.50" y2="220.03" stroke="#262626" stroke-width="1"/>
<line x1="401.90" y1="204.74" x2="404.50" y2="204.74" stroke="#262626" stroke-width="1"/>
<line x1="399.90" y1="189.45" x2="404.50" y2="189.45" stroke="#262626" stroke-width="1"/>
<line x1="401.90" y1="174.16" x2="404.50" y2="174.16" stroke="#262626" stroke-width="1"/>
<line x1="399.90" y1="158.88" x2="404.50" y2="158.88" stroke="#262626" stroke-width="1"/>
<line x1="401.90" y1="143.59" x2="404.50" y2="143.59" stroke="#262626" stroke-width="1"/>
<line x1="399.90" y1="128.30" x2="404.50" y2="128.30" stroke="#262626" stroke-width="1"/>
<line x1="401.90" y1="113.01" x2="404.50" y2="113.01" stroke="#262626" stroke-width="1"/>
<line x1="399.90" y1="97.72" x2="404.50" y2="97.72" stroke="#262626" stroke-width="1"/>
<line x1="401.90" y1="82.44" x2="404.50" y2="82.44" stroke="#262626" stroke-width="1"/>
<line x1="399.90" y1="67.15" x2="404.50" y2="67.15" stroke="#262626" stroke-width="1"/>
<line x1="401.90" y1="51.86" x2="404.50" y2="51.86" stroke="#262626" stroke-width="1"/>
<line x1="399.90" y1="36.58" x2="404.50" y2="36.58" stroke="#262626" stroke-width="1"/>
<line x1="401.90" y1="21.29" x2="404.50" y2="21.29" stroke="#262626" stroke-width="1"/>
<line x1="399.90" y1="6.00" x2="404.50" y2="6.00" stroke="#262626" stroke-width="1"/>
<line x1="404.50" y1="250.60" x2="404.50" y2="254.90" stroke="#262626" stroke-width="1"/>
<text x="404.50" y="268.70" font-size="13.5" text-anchor="middle" stroke="#0a0a0a" stroke-width="0.22" >0</text>
<line x1="441.40" y1="250.60" x2="441.40" y2="254.90" stroke="#262626" stroke-width="1"/>
<text x="441.40" y="268.70" font-size="13.5" text-anchor="middle" stroke="#0a0a0a" stroke-width="0.22" >5</text>
<line x1="478.30" y1="250.60" x2="478.30" y2="254.90" stroke="#262626" stroke-width="1"/>
<text x="478.30" y="268.70" font-size="13.5" text-anchor="middle" stroke="#0a0a0a" stroke-width="0.22" >10</text>
<line x1="515.20" y1="250.60" x2="515.20" y2="254.90" stroke="#262626" stroke-width="1"/>
<text x="515.20" y="268.70" font-size="13.5" text-anchor="middle" stroke="#0a0a0a" stroke-width="0.22" >15</text>
<line x1="422.95" y1="250.60" x2="422.95" y2="253.00" stroke="#262626" stroke-width="1"/>
<line x1="459.85" y1="250.60" x2="459.85" y2="253.00" stroke="#262626" stroke-width="1"/>
<line x1="496.75" y1="250.60" x2="496.75" y2="253.00" stroke="#262626" stroke-width="1"/>
<text x="460.00" y="291.00" font-size="14.0" text-anchor="middle" stroke="#0a0a0a" stroke-width="0.22" >PDOS</text>
<text x="0" y="0" font-size="12.7" text-anchor="middle" stroke="#0a0a0a" stroke-width="0.22" transform="translate(24.0,124.40) rotate(-90)">Energy (eV)</text>
<defs><clipPath id="cbb"><rect x="55.2" y="307.5" width="202.2" height="246.79999999999995"/></clipPath></defs>
<defs><clipPath id="midcbb"><rect x="103.0" y="307.5" width="106.5" height="246.79999999999995"/></clipPath></defs>
<defs><clipPath id="innercbb"><rect x="139.0" y="307.5" width="34.5" height="246.79999999999995"/></clipPath></defs>
<g clip-path="url(#cbb)" fill="none">
<path d="M55.90,312.40C59.92,312.37 71.98,312.23 80.00,312.20C88.02,312.17 98.17,312.32 104.00,312.20C109.83,312.08 111.50,311.78 115.00,311.50C118.50,311.22 123.33,310.67 125.00,310.50" stroke="#b8b8ff" stroke-width="1.1" clip-path="url(#midcbb)"/>
<path d="M187.60,310.50C189.27,310.67 194.10,311.22 197.60,311.50C201.10,311.78 202.77,312.08 208.60,312.20C214.43,312.32 224.58,312.17 232.60,312.20C240.62,312.23 252.68,312.37 256.70,312.40" stroke="#b8b8ff" stroke-width="1.1" clip-path="url(#midcbb)"/>
<path d="M55.90,363.50C59.92,363.33 71.98,362.83 80.00,362.50C88.02,362.17 95.67,361.75 104.00,361.50C112.33,361.25 121.28,361.12 130.00,361.00C138.72,360.88 147.53,360.80 156.30,360.80C165.07,360.80 173.88,360.88 182.60,361.00C191.32,361.12 200.27,361.25 208.60,361.50C216.93,361.75 224.58,362.17 232.60,362.50C240.62,362.83 252.68,363.33 256.70,363.50" stroke="#b8b8ff" stroke-width="1.1" clip-path="url(#midcbb)"/>
</g>
<g fill="#c4c4ff"><circle cx="57.59" cy="312.38" r="0.8"/><circle cx="59.98" cy="312.36" r="0.8"/><circle cx="62.37" cy="312.34" r="0.8"/><circle cx="64.76" cy="312.32" r="0.8"/><circle cx="67.15" cy="312.29" r="0.8"/><circle cx="69.54" cy="312.27" r="0.8"/><circle cx="71.93" cy="312.25" r="0.8"/><circle cx="74.32" cy="312.23" r="0.8"/><circle cx="76.71" cy="312.22" r="0.8"/><circle cx="79.10" cy="312.20" r="0.8"/><circle cx="81.49" cy="312.20" r="0.8"/><circle cx="83.88" cy="312.20" r="0.8"/><circle cx="86.27" cy="312.20" r="0.8"/><circle cx="88.66" cy="312.21" r="0.8"/><circle cx="91.05" cy="312.22" r="0.8"/><circle cx="93.44" cy="312.23" r="0.8"/><circle cx="95.83" cy="312.24" r="0.8"/><circle cx="98.22" cy="312.25" r="0.8"/><circle cx="100.61" cy="312.24" r="0.8"/><circle cx="103.00" cy="312.22" r="0.8"/><circle cx="255.01" cy="312.38" r="0.8"/><circle cx="252.62" cy="312.36" r="0.8"/><circle cx="250.23" cy="312.34" r="0.8"/><circle cx="247.84" cy="312.32" r="0.8"/><circle cx="245.45" cy="312.29" r="0.8"/><circle cx="243.06" cy="312.27" r="0.8"/><circle cx="240.67" cy="312.25" r="0.8"/><circle cx="238.28" cy="312.23" r="0.8"/><circle cx="235.89" cy="312.22" r="0.8"/><circle cx="233.50" cy="312.20" r="0.8"/><circle cx="231.11" cy="312.20" r="0.8"/><circle cx="228.72" cy="312.20" r="0.8"/><circle cx="226.33" cy="312.20" r="0.8"/><circle cx="223.94" cy="312.21" r="0.8"/><circle cx="221.55" cy="312.22" r="0.8"/><circle cx="219.16" cy="312.23" r="0.8"/><circle cx="216.77" cy="312.24" r="0.8"/><circle cx="214.38" cy="312.25" r="0.8"/><circle cx="211.99" cy="312.24" r="0.8"/><circle cx="209.60" cy="312.22" r="0.8"/><circle cx="57.59" cy="363.43" r="0.8"/><circle cx="59.98" cy="363.33" r="0.8"/><circle cx="62.37" cy="363.23" r="0.8"/><circle cx="64.76" cy="363.13" r="0.8"/><circle cx="67.15" cy="363.03" r="0.8"/><circle cx="69.54" cy="362.93" r="0.8"/><circle cx="71.93" cy="362.84" r="0.8"/><circle cx="74.32" cy="362.74" r="0.8"/><circle cx="76.71" cy="362.64" r="0.8"/><circle cx="79.10" cy="362.54" r="0.8"/><circle cx="81.49" cy="362.44" r="0.8"/><circle cx="83.88" cy="362.33" r="0.8"/><circle cx="86.27" cy="362.22" r="0.8"/><circle cx="88.66" cy="362.11" r="0.8"/><circle cx="91.05" cy="362.01" r="0.8"/><circle cx="93.44" cy="361.90" r="0.8"/><circle cx="95.83" cy="361.80" r="0.8"/><circle cx="98.22" cy="361.70" r="0.8"/><circle cx="100.61" cy="361.61" r="0.8"/><circle cx="103.00" cy="361.53" r="0.8"/><circle cx="255.01" cy="363.43" r="0.8"/><circle cx="252.62" cy="363.33" r="0.8"/><circle cx="250.23" cy="363.23" r="0.8"/><circle cx="247.84" cy="363.13" r="0.8"/><circle cx="245.45" cy="363.03" r="0.8"/><circle cx="243.06" cy="362.93" r="0.8"/><circle cx="240.67" cy="362.84" r="0.8"/><circle cx="238.28" cy="362.74" r="0.8"/><circle cx="235.89" cy="362.64" r="0.8"/><circle cx="233.50" cy="362.54" r="0.8"/><circle cx="231.11" cy="362.44" r="0.8"/><circle cx="228.72" cy="362.33" r="0.8"/><circle cx="226.33" cy="362.22" r="0.8"/><circle cx="223.94" cy="362.11" r="0.8"/><circle cx="221.55" cy="362.01" r="0.8"/><circle cx="219.16" cy="361.90" r="0.8"/><circle cx="216.77" cy="361.80" r="0.8"/><circle cx="214.38" cy="361.70" r="0.8"/><circle cx="211.99" cy="361.61" r="0.8"/><circle cx="209.60" cy="361.53" r="0.8"/></g>
<g clip-path="url(#cbb)" fill="none" stroke-linecap="round" stroke-linejoin="round">
<path d="M55.80,314.50C56.07,314.18 56.43,313.52 57.40,312.60C58.37,311.68 60.33,309.93 61.60,309.00C62.87,308.07 64.43,307.33 65.00,307.00" stroke="#00df00" stroke-width="1.5" clip-path="url(#midcbb)"/>
<path d="M247.60,307.00C248.17,307.33 249.73,308.07 251.00,309.00C252.27,309.93 254.23,311.68 255.20,312.60C256.17,313.52 256.53,314.18 256.80,314.50" stroke="#00df00" stroke-width="1.5" clip-path="url(#midcbb)"/>
<path d="M55.80,316.80C56.77,316.87 59.37,317.13 61.60,317.20C63.83,317.27 66.65,317.25 69.20,317.20C71.75,317.15 74.35,317.00 76.90,316.90C79.45,316.80 81.83,316.75 84.50,316.60C87.17,316.45 90.98,316.27 92.90,316.00C94.82,315.73 94.75,315.15 96.00,315.00C97.25,314.85 98.97,315.02 100.40,315.10C101.83,315.18 103.20,315.23 104.60,315.50C106.00,315.77 107.55,316.63 108.80,316.70C110.05,316.77 110.98,316.32 112.10,315.90C113.22,315.48 114.38,314.90 115.50,314.20C116.62,313.50 117.68,312.53 118.80,311.70C119.92,310.87 121.22,309.83 122.20,309.20C123.18,308.57 123.98,308.35 124.70,307.90C125.42,307.45 126.20,306.73 126.50,306.50" stroke="#00df00" stroke-width="1.5" clip-path="url(#midcbb)"/>
<path d="M186.10,306.50C186.40,306.73 187.18,307.45 187.90,307.90C188.62,308.35 189.42,308.57 190.40,309.20C191.38,309.83 192.68,310.87 193.80,311.70C194.92,312.53 195.98,313.50 197.10,314.20C198.22,314.90 199.38,315.48 200.50,315.90C201.62,316.32 202.55,316.77 203.80,316.70C205.05,316.63 206.60,315.77 208.00,315.50C209.40,315.23 210.77,315.18 212.20,315.10C213.63,315.02 215.35,314.85 216.60,315.00C217.85,315.15 217.78,315.73 219.70,316.00C221.62,316.27 225.43,316.45 228.10,316.60C230.77,316.75 233.15,316.80 235.70,316.90C238.25,317.00 240.85,317.15 243.40,317.20C245.95,317.25 248.77,317.27 251.00,317.20C253.23,317.13 255.83,316.87 256.80,316.80" stroke="#00df00" stroke-width="1.5" clip-path="url(#midcbb)"/>
<path d="M55.80,317.40C56.77,317.43 59.37,317.57 61.60,317.60C63.83,317.63 66.65,317.65 69.20,317.60C71.75,317.55 74.35,317.38 76.90,317.30C79.45,317.22 81.83,317.12 84.50,317.10C87.17,317.08 91.03,316.95 92.90,317.20C94.77,317.45 94.75,318.08 95.70,318.60C96.65,319.12 97.73,319.77 98.60,320.30C99.47,320.83 99.90,321.35 100.90,321.80C101.90,322.25 103.28,322.80 104.60,323.00C105.92,323.20 107.55,323.07 108.80,323.00C110.05,322.93 110.98,323.08 112.10,322.60C113.22,322.12 114.38,321.08 115.50,320.10C116.62,319.12 117.83,317.82 118.80,316.70C119.77,315.58 120.45,314.52 121.30,313.40C122.15,312.28 123.12,310.98 123.90,310.00C124.68,309.02 125.48,308.08 126.00,307.50C126.52,306.92 126.83,306.67 127.00,306.50" stroke="#00df00" stroke-width="1.5" clip-path="url(#midcbb)"/>
<path d="M185.60,306.50C185.77,306.67 186.08,306.92 186.60,307.50C187.12,308.08 187.92,309.02 188.70,310.00C189.48,310.98 190.45,312.28 191.30,313.40C192.15,314.52 192.83,315.58 193.80,316.70C194.77,317.82 195.98,319.12 197.10,320.10C198.22,321.08 199.38,322.12 200.50,322.60C201.62,323.08 202.55,322.93 203.80,323.00C205.05,323.07 206.68,323.20 208.00,323.00C209.32,322.80 210.70,322.25 211.70,321.80C212.70,321.35 213.13,320.83 214.00,320.30C214.87,319.77 215.95,319.12 216.90,318.60C217.85,318.08 217.83,317.45 219.70,317.20C221.57,316.95 225.43,317.08 228.10,317.10C230.77,317.12 233.15,317.22 235.70,317.30C238.25,317.38 240.85,317.55 243.40,317.60C245.95,317.65 248.77,317.63 251.00,317.60C253.23,317.57 255.83,317.43 256.80,317.40" stroke="#00df00" stroke-width="1.5" clip-path="url(#midcbb)"/>
<path d="M55.80,320.20C56.77,320.27 59.37,320.28 61.60,320.60C63.83,320.92 67.13,321.68 69.20,322.10C71.27,322.52 71.97,322.45 74.00,323.10C76.03,323.75 78.92,325.03 81.40,326.00C83.88,326.97 86.98,328.23 88.90,328.90C90.82,329.57 91.57,329.82 92.90,330.00C94.23,330.18 95.57,330.28 96.90,330.00C98.23,329.72 99.62,328.70 100.90,328.30C102.18,327.90 103.02,328.07 104.60,327.60C106.18,327.13 109.00,325.68 110.40,325.50C111.80,325.32 112.15,326.00 113.00,326.50C113.85,327.00 114.53,328.45 115.50,328.50C116.47,328.55 117.68,327.65 118.80,326.80C119.92,325.95 121.08,324.52 122.20,323.40C123.32,322.28 124.25,321.35 125.50,320.10C126.75,318.85 128.30,317.43 129.70,315.90C131.10,314.37 132.60,312.47 133.90,310.90C135.20,309.33 136.90,307.23 137.50,306.50" stroke="#00df00" stroke-width="1.5" clip-path="url(#midcbb)"/>
<path d="M175.10,306.50C175.70,307.23 177.40,309.33 178.70,310.90C180.00,312.47 181.50,314.37 182.90,315.90C184.30,317.43 185.85,318.85 187.10,320.10C188.35,321.35 189.28,322.28 190.40,323.40C191.52,324.52 192.68,325.95 193.80,326.80C194.92,327.65 196.13,328.55 197.10,328.50C198.07,328.45 198.75,327.00 199.60,326.50C200.45,326.00 200.80,325.32 202.20,325.50C203.60,325.68 206.42,327.13 208.00,327.60C209.58,328.07 210.42,327.90 211.70,328.30C212.98,328.70 214.37,329.72 215.70,330.00C217.03,330.28 218.37,330.18 219.70,330.00C221.03,329.82 221.78,329.57 223.70,328.90C225.62,328.23 228.72,326.97 231.20,326.00C233.68,325.03 236.57,323.75 238.60,323.10C240.63,322.45 241.33,322.52 243.40,322.10C245.47,321.68 248.77,320.92 251.00,320.60C253.23,320.28 255.83,320.27 256.80,320.20" stroke="#00df00" stroke-width="1.5" clip-path="url(#midcbb)"/>
<path d="M55.80,322.90C56.77,323.03 59.37,323.25 61.60,323.70C63.83,324.15 67.13,325.03 69.20,325.60C71.27,326.17 72.25,326.55 74.00,327.10C75.75,327.65 77.80,328.23 79.70,328.90C81.60,329.57 83.50,330.35 85.40,331.10C87.30,331.85 89.18,332.87 91.10,333.40C93.02,333.93 95.35,334.15 96.90,334.30C98.45,334.45 99.12,334.43 100.40,334.30C101.68,334.17 103.20,333.70 104.60,333.50C106.00,333.30 107.13,333.32 108.80,333.10C110.47,332.88 113.22,332.27 114.60,332.20C115.98,332.13 115.98,332.07 117.10,332.70C118.22,333.33 119.90,334.88 121.30,336.00C122.70,337.12 124.38,338.48 125.50,339.40C126.62,340.32 126.42,340.40 128.00,341.50C129.58,342.60 132.17,344.67 135.00,346.00C137.83,347.33 142.33,348.73 145.00,349.50C147.67,350.27 149.12,350.37 151.00,350.60C152.88,350.83 154.53,350.90 156.30,350.90C158.07,350.90 159.72,350.83 161.60,350.60C163.48,350.37 164.93,350.27 167.60,349.50C170.27,348.73 174.77,347.33 177.60,346.00C180.43,344.67 183.02,342.60 184.60,341.50C186.18,340.40 185.98,340.32 187.10,339.40C188.22,338.48 189.90,337.12 191.30,336.00C192.70,334.88 194.38,333.33 195.50,332.70C196.62,332.07 196.62,332.13 198.00,332.20C199.38,332.27 202.13,332.88 203.80,333.10C205.47,333.32 206.60,333.30 208.00,333.50C209.40,333.70 210.92,334.17 212.20,334.30C213.48,334.43 214.15,334.45 215.70,334.30C217.25,334.15 219.58,333.93 221.50,333.40C223.42,332.87 225.30,331.85 227.20,331.10C229.10,330.35 231.00,329.57 232.90,328.90C234.80,328.23 236.85,327.65 238.60,327.10C240.35,326.55 241.33,326.17 243.40,325.60C245.47,325.03 248.77,324.15 251.00,323.70C253.23,323.25 255.83,323.03 256.80,322.90" stroke="#00df00" stroke-width="1.5" clip-path="url(#midcbb)"/>
<path d="M55.80,324.00C56.52,324.52 59.00,326.20 60.10,327.10C61.20,328.00 61.63,328.52 62.40,329.40C63.17,330.28 63.93,331.38 64.70,332.40C65.47,333.42 66.25,334.58 67.00,335.50C67.75,336.42 68.35,336.98 69.20,337.90C70.05,338.82 70.82,340.05 72.10,341.00C73.38,341.95 75.47,343.02 76.90,343.60C78.33,344.18 79.28,344.43 80.70,344.50C82.12,344.57 83.50,344.47 85.40,344.00C87.30,343.53 90.18,342.25 92.10,341.70C94.02,341.15 95.52,341.30 96.90,340.70C98.28,340.10 99.12,338.47 100.40,338.10C101.68,337.73 103.20,338.70 104.60,338.50C106.00,338.30 107.55,337.25 108.80,336.90C110.05,336.55 110.98,336.27 112.10,336.40C113.22,336.53 114.47,337.10 115.50,337.70C116.53,338.30 117.05,339.12 118.30,340.00C119.55,340.88 121.28,342.05 123.00,343.00C124.72,343.95 125.77,344.68 128.60,345.70C131.43,346.72 136.20,348.23 140.00,349.10C143.80,349.97 148.68,350.58 151.40,350.90C154.12,351.22 154.67,351.00 156.30,351.00C157.93,351.00 158.48,351.22 161.20,350.90C163.92,350.58 168.80,349.97 172.60,349.10C176.40,348.23 181.17,346.72 184.00,345.70C186.83,344.68 187.88,343.95 189.60,343.00C191.32,342.05 193.05,340.88 194.30,340.00C195.55,339.12 196.07,338.30 197.10,337.70C198.13,337.10 199.38,336.53 200.50,336.40C201.62,336.27 202.55,336.55 203.80,336.90C205.05,337.25 206.60,338.30 208.00,338.50C209.40,338.70 210.92,337.73 212.20,338.10C213.48,338.47 214.32,340.10 215.70,340.70C217.08,341.30 218.58,341.15 220.50,341.70C222.42,342.25 225.30,343.53 227.20,344.00C229.10,344.47 230.48,344.57 231.90,344.50C233.32,344.43 234.27,344.18 235.70,343.60C237.13,343.02 239.22,341.95 240.50,341.00C241.78,340.05 242.55,338.82 243.40,337.90C244.25,336.98 244.85,336.42 245.60,335.50C246.35,334.58 247.13,333.42 247.90,332.40C248.67,331.38 249.43,330.28 250.20,329.40C250.97,328.52 251.40,328.00 252.50,327.10C253.60,326.20 256.08,324.52 256.80,324.00" stroke="#00df00" stroke-width="1.5" clip-path="url(#midcbb)"/>
<path d="M56.50,326.00C56.85,326.32 57.75,326.95 58.60,327.90C59.45,328.85 60.58,330.43 61.60,331.70C62.62,332.97 63.75,334.47 64.70,335.50C65.65,336.53 66.07,336.55 67.30,337.90C68.53,339.25 70.50,342.18 72.10,343.60C73.70,345.02 75.32,345.85 76.90,346.40C78.48,346.95 79.87,347.05 81.60,346.90C83.33,346.75 85.23,346.22 87.30,345.50C89.37,344.78 91.93,343.40 94.00,342.60C96.07,341.80 98.20,340.88 99.70,340.70C101.20,340.52 101.80,341.05 103.00,341.50C104.20,341.95 105.50,342.50 106.90,343.40C108.30,344.30 109.70,345.37 111.40,346.90C113.10,348.43 115.18,350.90 117.10,352.60C119.02,354.30 120.98,356.05 122.90,357.10C124.82,358.15 126.13,358.52 128.60,358.90C131.07,359.28 134.85,358.93 137.70,359.40C140.55,359.87 143.42,361.12 145.70,361.70C147.98,362.28 149.63,362.62 151.40,362.90C153.17,363.18 154.67,363.40 156.30,363.40C157.93,363.40 159.43,363.18 161.20,362.90C162.97,362.62 164.62,362.28 166.90,361.70C169.18,361.12 172.05,359.87 174.90,359.40C177.75,358.93 181.53,359.28 184.00,358.90C186.47,358.52 187.78,358.15 189.70,357.10C191.62,356.05 193.58,354.30 195.50,352.60C197.42,350.90 199.50,348.43 201.20,346.90C202.90,345.37 204.30,344.30 205.70,343.40C207.10,342.50 208.40,341.95 209.60,341.50C210.80,341.05 211.40,340.52 212.90,340.70C214.40,340.88 216.53,341.80 218.60,342.60C220.67,343.40 223.23,344.78 225.30,345.50C227.37,346.22 229.27,346.75 231.00,346.90C232.73,347.05 234.12,346.95 235.70,346.40C237.28,345.85 238.90,345.02 240.50,343.60C242.10,342.18 244.07,339.25 245.30,337.90C246.53,336.55 246.95,336.53 247.90,335.50C248.85,334.47 249.98,332.97 251.00,331.70C252.02,330.43 253.15,328.85 254.00,327.90C254.85,326.95 255.75,326.32 256.10,326.00" stroke="#00df00" stroke-width="1.5" clip-path="url(#midcbb)"/>
<path d="M55.90,370.20C57.17,370.05 60.65,370.08 63.50,369.30C66.35,368.52 69.82,366.77 73.00,365.50C76.18,364.23 80.05,363.13 82.60,361.70C85.15,360.27 86.40,358.50 88.30,356.90C90.20,355.30 92.10,353.68 94.00,352.10C95.90,350.52 98.13,348.55 99.70,347.40C101.27,346.25 102.18,345.35 103.40,345.20C104.62,345.05 105.67,345.47 107.00,346.50C108.33,347.53 109.72,349.63 111.40,351.40C113.08,353.17 115.18,355.18 117.10,357.10C119.02,359.02 120.98,361.57 122.90,362.90C124.82,364.23 125.75,364.63 128.60,365.10C131.45,365.57 136.20,365.50 140.00,365.70C143.80,365.90 148.68,366.20 151.40,366.30C154.12,366.40 154.67,366.30 156.30,366.30C157.93,366.30 158.48,366.40 161.20,366.30C163.92,366.20 168.80,365.90 172.60,365.70C176.40,365.50 181.15,365.57 184.00,365.10C186.85,364.63 187.78,364.23 189.70,362.90C191.62,361.57 193.58,359.02 195.50,357.10C197.42,355.18 199.52,353.17 201.20,351.40C202.88,349.63 204.27,347.53 205.60,346.50C206.93,345.47 207.98,345.05 209.20,345.20C210.42,345.35 211.33,346.25 212.90,347.40C214.47,348.55 216.70,350.52 218.60,352.10C220.50,353.68 222.40,355.30 224.30,356.90C226.20,358.50 227.45,360.27 230.00,361.70C232.55,363.13 236.42,364.23 239.60,365.50C242.78,366.77 246.25,368.52 249.10,369.30C251.95,370.08 255.43,370.05 256.70,370.20" stroke="#00df00" stroke-width="1.5" clip-path="url(#midcbb)"/>
<path d="M55.90,360.70C57.17,360.07 60.97,358.25 63.50,356.90C66.03,355.55 68.87,353.47 71.10,352.60C73.33,351.73 74.98,351.70 76.90,351.70C78.82,351.70 80.87,352.05 82.60,352.60C84.33,353.15 86.03,354.43 87.30,355.00C88.57,355.57 89.08,355.45 90.20,356.00C91.32,356.55 92.42,357.60 94.00,358.30C95.58,359.00 98.03,359.80 99.70,360.20C101.37,360.60 102.28,360.62 104.00,360.70C105.72,360.78 107.82,360.65 110.00,360.70C112.18,360.75 114.95,360.27 117.10,361.00C119.25,361.73 120.98,363.27 122.90,365.10C124.82,366.93 126.70,369.90 128.60,372.00C130.50,374.10 132.58,375.80 134.30,377.70C136.02,379.60 137.38,381.68 138.90,383.40C140.42,385.12 141.32,386.85 143.40,388.00C145.48,389.15 149.25,389.92 151.40,390.30C153.55,390.68 154.67,390.30 156.30,390.30C157.93,390.30 159.05,390.68 161.20,390.30C163.35,389.92 167.12,389.15 169.20,388.00C171.28,386.85 172.18,385.12 173.70,383.40C175.22,381.68 176.58,379.60 178.30,377.70C180.02,375.80 182.10,374.10 184.00,372.00C185.90,369.90 187.78,366.93 189.70,365.10C191.62,363.27 193.35,361.73 195.50,361.00C197.65,360.27 200.42,360.75 202.60,360.70C204.78,360.65 206.88,360.78 208.60,360.70C210.32,360.62 211.23,360.60 212.90,360.20C214.57,359.80 217.02,359.00 218.60,358.30C220.18,357.60 221.28,356.55 222.40,356.00C223.52,355.45 224.03,355.57 225.30,355.00C226.57,354.43 228.27,353.15 230.00,352.60C231.73,352.05 233.78,351.70 235.70,351.70C237.62,351.70 239.27,351.73 241.50,352.60C243.73,353.47 246.57,355.55 249.10,356.90C251.63,358.25 255.43,360.07 256.70,360.70" stroke="#00df00" stroke-width="1.5" clip-path="url(#midcbb)"/>
<path d="M55.90,361.70C57.17,361.30 60.97,360.18 63.50,359.30C66.03,358.42 68.72,357.12 71.10,356.40C73.48,355.68 76.05,355.00 77.80,355.00C79.55,355.00 80.48,355.77 81.60,356.40C82.72,357.03 83.55,357.85 84.50,358.80C85.45,359.75 86.03,360.67 87.30,362.10C88.57,363.53 90.50,365.57 92.10,367.40C93.70,369.23 95.32,371.52 96.90,373.10C98.48,374.68 100.42,376.10 101.60,376.90C102.78,377.70 102.37,377.57 104.00,377.90C105.63,378.23 108.25,378.37 111.40,378.90C114.55,379.43 119.08,379.97 122.90,381.10C126.72,382.23 131.45,384.37 134.30,385.70C137.15,387.03 138.10,387.77 140.00,389.10C141.90,390.43 143.80,392.55 145.70,393.70C147.60,394.85 149.63,395.62 151.40,396.00C153.17,396.38 154.67,396.00 156.30,396.00C157.93,396.00 159.43,396.38 161.20,396.00C162.97,395.62 165.00,394.85 166.90,393.70C168.80,392.55 170.70,390.43 172.60,389.10C174.50,387.77 175.45,387.03 178.30,385.70C181.15,384.37 185.88,382.23 189.70,381.10C193.52,379.97 198.05,379.43 201.20,378.90C204.35,378.37 206.97,378.23 208.60,377.90C210.23,377.57 209.82,377.70 211.00,376.90C212.18,376.10 214.12,374.68 215.70,373.10C217.28,371.52 218.90,369.23 220.50,367.40C222.10,365.57 224.03,363.53 225.30,362.10C226.57,360.67 227.15,359.75 228.10,358.80C229.05,357.85 229.88,357.03 231.00,356.40C232.12,355.77 233.05,355.00 234.80,355.00C236.55,355.00 239.12,355.68 241.50,356.40C243.88,357.12 246.57,358.42 249.10,359.30C251.63,360.18 255.43,361.30 256.70,361.70" stroke="#00df00" stroke-width="1.5" clip-path="url(#midcbb)"/>
<path d="M55.90,370.20C57.17,370.68 60.65,371.67 63.50,373.10C66.35,374.53 69.82,377.22 73.00,378.80C76.18,380.38 80.22,381.88 82.60,382.60C84.98,383.32 85.72,383.10 87.30,383.10C88.88,383.10 90.50,382.83 92.10,382.60C93.70,382.37 95.32,382.48 96.90,381.70C98.48,380.92 100.42,378.82 101.60,377.90C102.78,376.98 102.37,376.80 104.00,376.20C105.63,375.60 108.25,375.18 111.40,374.30C114.55,373.42 119.08,371.85 122.90,370.90C126.72,369.95 130.50,369.18 134.30,368.60C138.10,368.02 142.03,367.68 145.70,367.40C149.37,367.12 152.77,366.90 156.30,366.90C159.83,366.90 163.23,367.12 166.90,367.40C170.57,367.68 174.50,368.02 178.30,368.60C182.10,369.18 185.88,369.95 189.70,370.90C193.52,371.85 198.05,373.42 201.20,374.30C204.35,375.18 206.97,375.60 208.60,376.20C210.23,376.80 209.82,376.98 211.00,377.90C212.18,378.82 214.12,380.92 215.70,381.70C217.28,382.48 218.90,382.37 220.50,382.60C222.10,382.83 223.72,383.10 225.30,383.10C226.88,383.10 227.62,383.32 230.00,382.60C232.38,381.88 236.42,380.38 239.60,378.80C242.78,377.22 246.25,374.53 249.10,373.10C251.95,371.67 255.43,370.68 256.70,370.20" stroke="#00df00" stroke-width="1.5" clip-path="url(#midcbb)"/>
<path d="M56.00,449.40C57.35,448.73 61.07,447.08 64.10,445.40C67.13,443.72 70.83,440.98 74.20,439.30C77.57,437.62 80.93,436.13 84.30,435.30C87.67,434.47 91.12,434.47 94.40,434.30C97.68,434.13 100.62,434.65 104.00,434.30C107.38,433.95 111.15,433.17 114.70,432.20C118.25,431.23 121.75,429.83 125.30,428.50C128.85,427.17 133.33,425.45 136.00,424.20C138.67,422.95 139.52,422.15 141.30,421.00C143.08,419.85 144.92,418.28 146.70,417.30C148.48,416.32 150.40,415.63 152.00,415.10C153.60,414.57 154.87,414.10 156.30,414.10C157.73,414.10 159.00,414.57 160.60,415.10C162.20,415.63 164.12,416.32 165.90,417.30C167.68,418.28 169.52,419.85 171.30,421.00C173.08,422.15 173.93,422.95 176.60,424.20C179.27,425.45 183.75,427.17 187.30,428.50C190.85,429.83 194.35,431.23 197.90,432.20C201.45,433.17 205.22,433.95 208.60,434.30C211.98,434.65 214.92,434.13 218.20,434.30C221.48,434.47 224.93,434.47 228.30,435.30C231.67,436.13 235.03,437.62 238.40,439.30C241.77,440.98 245.47,443.72 248.50,445.40C251.53,447.08 255.25,448.73 256.60,449.40" stroke="#00df00" stroke-width="1.5" clip-path="url(#innercbb)"/>
<g fill="#00df00" stroke="none"><circle cx="103.00" cy="434.38" r="0.75"/><circle cx="104.80" cy="434.21" r="0.75"/><circle cx="106.60" cy="433.96" r="0.75"/><circle cx="108.40" cy="433.65" r="0.75"/><circle cx="110.20" cy="433.29" r="0.75"/><circle cx="112.00" cy="432.89" r="0.75"/><circle cx="113.80" cy="432.44" r="0.75"/><circle cx="115.60" cy="431.95" r="0.75"/><circle cx="117.40" cy="431.39" r="0.75"/><circle cx="119.20" cy="430.77" r="0.75"/><circle cx="121.00" cy="430.12" r="0.75"/><circle cx="122.80" cy="429.45" r="0.75"/><circle cx="124.60" cy="428.76" r="0.75"/><circle cx="126.40" cy="428.09" r="0.75"/><circle cx="128.20" cy="427.40" r="0.75"/><circle cx="130.00" cy="426.70" r="0.75"/><circle cx="131.80" cy="425.99" r="0.75"/><circle cx="133.60" cy="425.25" r="0.75"/><circle cx="135.40" cy="424.48" r="0.75"/><circle cx="137.20" cy="423.61" r="0.75"/><circle cx="139.00" cy="422.55" r="0.75"/><circle cx="209.60" cy="434.38" r="0.75"/><circle cx="207.80" cy="434.21" r="0.75"/><circle cx="206.00" cy="433.96" r="0.75"/><circle cx="206.00" cy="433.96" r="0.75"/><circle cx="204.20" cy="433.65" r="0.75"/><circle cx="202.40" cy="433.29" r="0.75"/><circle cx="200.60" cy="432.89" r="0.75"/><circle cx="198.80" cy="432.44" r="0.75"/><circle cx="197.00" cy="431.95" r="0.75"/><circle cx="195.20" cy="431.39" r="0.75"/><circle cx="193.40" cy="430.77" r="0.75"/><circle cx="191.60" cy="430.12" r="0.75"/><circle cx="189.80" cy="429.45" r="0.75"/><circle cx="188.00" cy="428.76" r="0.75"/><circle cx="186.20" cy="428.09" r="0.75"/><circle cx="184.40" cy="427.40" r="0.75"/><circle cx="182.60" cy="426.70" r="0.75"/><circle cx="180.80" cy="425.99" r="0.75"/><circle cx="179.00" cy="425.25" r="0.75"/><circle cx="177.20" cy="424.48" r="0.75"/><circle cx="175.40" cy="423.61" r="0.75"/><circle cx="173.60" cy="422.55" r="0.75"/></g>
<path d="M56.00,451.00C57.35,451.25 61.07,452.00 64.10,452.50C67.13,453.00 70.83,453.75 74.20,454.00C77.57,454.25 80.93,454.33 84.30,454.00C87.67,453.67 91.12,452.62 94.40,452.00C97.68,451.38 100.62,450.48 104.00,450.30C107.38,450.12 111.15,450.77 114.70,450.90C118.25,451.03 121.75,451.82 125.30,451.10C128.85,450.38 133.33,448.07 136.00,446.60C138.67,445.13 139.52,443.72 141.30,442.30C143.08,440.88 144.92,439.17 146.70,438.10C148.48,437.03 150.40,436.35 152.00,435.90C153.60,435.45 154.87,435.40 156.30,435.40C157.73,435.40 159.00,435.45 160.60,435.90C162.20,436.35 164.12,437.03 165.90,438.10C167.68,439.17 169.52,440.88 171.30,442.30C173.08,443.72 173.93,445.13 176.60,446.60C179.27,448.07 183.75,450.38 187.30,451.10C190.85,451.82 194.35,451.03 197.90,450.90C201.45,450.77 205.22,450.12 208.60,450.30C211.98,450.48 214.92,451.38 218.20,452.00C221.48,452.62 224.93,453.67 228.30,454.00C231.67,454.33 235.03,454.25 238.40,454.00C241.77,453.75 245.47,453.00 248.50,452.50C251.53,452.00 255.25,451.25 256.60,451.00" stroke="#00df00" stroke-width="1.5" clip-path="url(#midcbb)"/>
<path d="M56.00,461.60C57.35,462.02 61.07,462.50 64.10,464.10C67.13,465.70 71.33,469.32 74.20,471.20C77.07,473.08 78.77,475.15 81.30,475.40C83.83,475.65 86.37,473.40 89.40,472.70C92.43,472.00 97.07,471.48 99.50,471.20C101.93,470.92 101.47,471.57 104.00,471.00C106.53,470.43 111.15,469.58 114.70,467.80C118.25,466.02 121.75,462.08 125.30,460.30C128.85,458.52 130.83,457.63 136.00,457.10C141.17,456.57 149.53,457.10 156.30,457.10C163.07,457.10 171.43,456.57 176.60,457.10C181.77,457.63 183.75,458.52 187.30,460.30C190.85,462.08 194.35,466.02 197.90,467.80C201.45,469.58 206.07,470.43 208.60,471.00C211.13,471.57 210.67,470.92 213.10,471.20C215.53,471.48 220.17,472.00 223.20,472.70C226.23,473.40 228.77,475.65 231.30,475.40C233.83,475.15 235.53,473.08 238.40,471.20C241.27,469.32 245.47,465.70 248.50,464.10C251.53,462.50 255.25,462.02 256.60,461.60" stroke="#00df00" stroke-width="1.5" clip-path="url(#midcbb)"/>
<path d="M56.00,478.20C57.35,478.37 61.40,478.95 64.10,479.20C66.80,479.45 69.33,480.30 72.20,479.70C75.07,479.10 78.43,475.68 81.30,475.60C84.17,475.52 86.88,477.92 89.40,479.20C91.92,480.48 94.55,482.28 96.40,483.30C98.25,484.32 99.23,484.87 100.50,485.30C101.77,485.73 101.63,486.87 104.00,485.90C106.37,484.93 111.15,481.80 114.70,479.50C118.25,477.20 121.75,473.52 125.30,472.10C128.85,470.68 132.43,470.83 136.00,471.00C139.57,471.17 143.50,472.38 146.70,473.10C149.90,473.82 153.60,474.93 155.20,475.30C156.80,475.67 155.93,475.30 156.30,475.30C156.67,475.30 155.80,475.67 157.40,475.30C159.00,474.93 162.70,473.82 165.90,473.10C169.10,472.38 173.03,471.17 176.60,471.00C180.17,470.83 183.75,470.68 187.30,472.10C190.85,473.52 194.35,477.20 197.90,479.50C201.45,481.80 206.23,484.93 208.60,485.90C210.97,486.87 210.83,485.73 212.10,485.30C213.37,484.87 214.35,484.32 216.20,483.30C218.05,482.28 220.68,480.48 223.20,479.20C225.72,477.92 228.43,475.52 231.30,475.60C234.17,475.68 237.53,479.10 240.40,479.70C243.27,480.30 245.80,479.45 248.50,479.20C251.20,478.95 255.25,478.37 256.60,478.20" stroke="#00df00" stroke-width="1.5" clip-path="url(#midcbb)"/>
<path d="M55.70,488.66C56.92,488.61 60.75,488.71 62.97,488.36C65.19,488.00 66.99,486.89 69.03,486.54C71.07,486.19 72.66,486.09 75.19,486.24C77.71,486.39 81.60,487.31 84.17,487.45C86.75,487.58 88.16,487.11 90.63,487.04C93.11,486.98 96.20,487.04 99.01,487.04C101.82,487.04 104.68,487.26 107.49,487.04C110.30,486.83 114.04,486.09 115.87,485.73C117.70,485.38 116.64,485.13 118.49,484.93C120.35,484.72 124.16,484.72 126.97,484.52C129.78,484.32 132.54,484.07 135.35,483.71C138.16,483.36 141.02,482.69 143.83,482.40C146.64,482.12 150.13,482.07 152.21,482.00C154.29,481.93 154.94,482.00 156.30,482.00C157.66,482.00 158.31,481.93 160.39,482.00C162.47,482.07 165.96,482.12 168.77,482.40C171.58,482.69 174.44,483.36 177.25,483.71C180.06,484.07 182.82,484.32 185.63,484.52C188.44,484.72 192.25,484.72 194.11,484.93C195.96,485.13 194.90,485.38 196.73,485.73C198.56,486.09 202.30,486.83 205.11,487.04C207.92,487.26 210.78,487.04 213.59,487.04C216.40,487.04 219.49,486.98 221.97,487.04C224.44,487.11 225.85,487.58 228.43,487.45C231.00,487.31 234.89,486.39 237.41,486.24C239.94,486.09 241.53,486.19 243.57,486.54C245.61,486.89 247.41,488.00 249.63,488.36C251.85,488.71 255.68,488.61 256.90,488.66" stroke="#00df00" stroke-width="2.0"/>
<path d="M55.70,489.26C56.92,489.31 60.23,489.31 62.97,489.57C65.72,489.82 68.96,490.29 72.16,490.78C75.36,491.27 79.07,491.99 82.15,492.49C85.23,493.00 87.82,493.38 90.63,493.80C93.44,494.22 96.20,494.73 99.01,495.02C101.82,495.30 104.68,495.37 107.49,495.52C110.30,495.67 114.04,495.86 115.87,495.92C117.70,495.99 116.64,495.79 118.49,495.92C120.35,496.06 124.16,496.44 126.97,496.73C129.78,497.02 132.54,497.35 135.35,497.64C138.16,497.92 141.02,498.18 143.83,498.45C146.64,498.71 150.13,499.12 152.21,499.25C154.29,499.39 154.94,499.25 156.30,499.25C157.66,499.25 158.31,499.39 160.39,499.25C162.47,499.12 165.96,498.71 168.77,498.45C171.58,498.18 174.44,497.92 177.25,497.64C180.06,497.35 182.82,497.02 185.63,496.73C188.44,496.44 192.25,496.06 194.11,495.92C195.96,495.79 194.90,495.99 196.73,495.92C198.56,495.86 202.30,495.67 205.11,495.52C207.92,495.37 210.78,495.30 213.59,495.02C216.40,494.73 219.16,494.22 221.97,493.80C224.78,493.38 227.37,493.00 230.45,492.49C233.53,491.99 237.24,491.27 240.44,490.78C243.64,490.29 246.88,489.82 249.63,489.57C252.37,489.31 255.68,489.31 256.90,489.26" stroke="#00df00" stroke-width="2.0"/>
<path d="M55.70,491.79C56.92,491.89 60.75,492.04 62.97,492.39C65.19,492.75 66.99,493.25 69.03,493.91C71.07,494.56 73.00,495.79 75.19,496.33C77.38,496.87 79.58,496.65 82.15,497.13C84.73,497.62 87.82,498.33 90.63,499.25C93.44,500.18 96.20,501.84 99.01,502.68C101.82,503.52 104.68,504.03 107.49,504.30C110.30,504.57 114.04,504.33 115.87,504.30C117.70,504.26 116.64,504.18 118.49,504.10C120.35,504.01 124.16,503.89 126.97,503.79C129.78,503.69 132.54,503.61 135.35,503.49C138.16,503.37 141.02,503.22 143.83,503.09C146.64,502.95 150.13,502.75 152.21,502.68C154.29,502.62 154.94,502.68 156.30,502.68C157.66,502.68 158.31,502.62 160.39,502.68C162.47,502.75 165.96,502.95 168.77,503.09C171.58,503.22 174.44,503.37 177.25,503.49C180.06,503.61 182.82,503.69 185.63,503.79C188.44,503.89 192.25,504.01 194.11,504.10C195.96,504.18 194.90,504.26 196.73,504.30C198.56,504.33 202.30,504.57 205.11,504.30C207.92,504.03 210.78,503.52 213.59,502.68C216.40,501.84 219.16,500.18 221.97,499.25C224.78,498.33 227.87,497.62 230.45,497.13C233.02,496.65 235.22,496.87 237.41,496.33C239.60,495.79 241.53,494.56 243.57,493.91C245.61,493.25 247.41,492.75 249.63,492.39C251.85,492.04 255.68,491.89 256.90,491.79" stroke="#00df00" stroke-width="2.0"/>
<path d="M55.70,504.80C56.92,504.40 60.75,503.29 62.97,502.38C65.19,501.47 66.99,500.26 69.03,499.35C71.07,498.45 72.66,497.84 75.19,496.93C77.71,496.02 81.31,494.85 84.17,493.91C87.03,492.96 89.88,492.21 92.35,491.28C94.82,490.36 97.06,488.99 99.01,488.36C100.96,487.72 102.85,487.45 104.06,487.45C105.27,487.45 105.02,487.77 106.28,488.36C107.54,488.94 109.71,490.04 111.63,490.98C113.55,491.92 115.85,493.37 117.79,494.01C119.72,494.65 121.44,494.93 123.24,494.81C125.04,494.70 126.35,494.07 128.59,493.30C130.83,492.53 134.12,491.28 136.67,490.17C139.21,489.06 141.24,487.45 143.83,486.64C146.42,485.83 150.13,485.55 152.21,485.33C154.29,485.11 154.94,485.33 156.30,485.33C157.66,485.33 158.31,485.11 160.39,485.33C162.47,485.55 166.18,485.83 168.77,486.64C171.36,487.45 173.39,489.06 175.93,490.17C178.48,491.28 181.77,492.53 184.01,493.30C186.25,494.07 187.56,494.70 189.36,494.81C191.16,494.93 192.88,494.65 194.81,494.01C196.75,493.37 199.05,491.92 200.97,490.98C202.89,490.04 205.06,488.94 206.32,488.36C207.58,487.77 207.33,487.45 208.54,487.45C209.75,487.45 211.64,487.72 213.59,488.36C215.54,488.99 217.78,490.36 220.25,491.28C222.72,492.21 225.57,492.96 228.43,493.91C231.29,494.85 234.89,496.02 237.41,496.93C239.94,497.84 241.53,498.45 243.57,499.35C245.61,500.26 247.41,501.47 249.63,502.38C251.85,503.29 255.68,504.40 256.90,504.80" stroke="#00df00" stroke-width="1.5" clip-path="url(#midcbb)"/>
<path d="M55.70,508.43C56.92,507.93 60.75,506.22 62.97,505.41C65.19,504.60 66.99,504.20 69.03,503.59C71.07,502.99 72.66,502.38 75.19,501.78C77.71,501.17 81.60,500.38 84.17,499.96C86.75,499.54 89.56,499.37 90.63,499.25" stroke="#00df00" stroke-width="1.5" clip-path="url(#midcbb)"/>
<path d="M221.97,499.25C223.04,499.37 225.85,499.54 228.43,499.96C231.00,500.38 234.89,501.17 237.41,501.78C239.94,502.38 241.53,502.99 243.57,503.59C245.61,504.20 247.41,504.60 249.63,505.41C251.85,506.22 255.68,507.93 256.90,508.43" stroke="#00df00" stroke-width="1.5" clip-path="url(#midcbb)"/>
<path d="M55.70,511.46C56.41,511.06 58.23,510.05 59.94,509.04C61.66,508.03 63.97,506.72 66.00,505.41C68.04,504.10 70.12,502.48 72.16,501.17C74.20,499.86 76.21,498.55 78.22,497.54C80.22,496.53 82.10,495.27 84.17,495.12C86.24,494.96 88.61,496.29 90.63,496.63C92.65,496.97 94.57,497.18 96.29,497.13C98.00,497.08 99.26,496.46 100.93,496.33C102.60,496.19 104.75,495.81 106.28,496.33C107.81,496.85 108.84,498.29 110.12,499.45C111.39,500.62 112.79,502.01 113.95,503.29C115.11,504.57 116.17,506.10 117.08,507.12C117.99,508.15 118.38,508.55 119.40,509.44C120.43,510.34 121.71,511.33 123.24,512.47C124.77,513.61 126.92,515.21 128.59,516.31C130.26,517.40 131.89,518.15 133.23,519.03C134.58,519.90 135.42,520.63 136.67,521.55C137.91,522.48 139.36,523.74 140.70,524.58C142.05,525.42 143.40,526.04 144.74,526.60C146.09,527.15 146.85,527.62 148.78,527.91C150.71,528.19 153.79,528.31 156.30,528.31C158.81,528.31 161.89,528.19 163.82,527.91C165.75,527.62 166.51,527.15 167.86,526.60C169.20,526.04 170.55,525.42 171.90,524.58C173.24,523.74 174.69,522.48 175.93,521.55C177.18,520.63 178.02,519.90 179.37,519.03C180.71,518.15 182.34,517.40 184.01,516.31C185.68,515.21 187.83,513.61 189.36,512.47C190.89,511.33 192.17,510.34 193.20,509.44C194.22,508.55 194.61,508.15 195.52,507.12C196.43,506.10 197.49,504.57 198.65,503.29C199.81,502.01 201.21,500.62 202.48,499.45C203.76,498.29 204.79,496.85 206.32,496.33C207.85,495.81 210.00,496.19 211.67,496.33C213.34,496.46 214.60,497.08 216.31,497.13C218.03,497.18 219.95,496.97 221.97,496.63C223.99,496.29 226.36,494.96 228.43,495.12C230.50,495.27 232.38,496.53 234.38,497.54C236.39,498.55 238.40,499.86 240.44,501.17C242.48,502.48 244.56,504.10 246.60,505.41C248.63,506.72 250.94,508.03 252.66,509.04C254.37,510.05 256.19,511.06 256.90,511.46" stroke="#00df00" stroke-width="1.5" clip-path="url(#midcbb)"/>
<path d="M55.50,518.32C56.58,518.19 59.52,517.87 61.96,517.52C64.40,517.16 67.43,516.62 70.14,516.20C72.85,515.78 75.54,515.48 78.22,514.99C80.89,514.51 83.84,513.90 86.19,513.28C88.55,512.66 90.67,511.85 92.35,511.26C94.03,510.67 94.35,510.12 96.29,509.75C98.22,509.38 101.40,508.97 103.96,509.04C106.52,509.11 109.06,509.61 111.63,510.15C114.20,510.69 116.83,511.53 119.40,512.27C121.98,513.01 124.20,513.93 127.08,514.59C129.95,515.25 133.70,515.73 136.67,516.20C139.63,516.68 142.13,517.08 144.84,517.41C147.55,517.75 151.01,518.05 152.92,518.22C154.83,518.39 155.17,518.42 156.30,518.42C157.43,518.42 157.77,518.39 159.68,518.22C161.59,518.05 165.05,517.75 167.76,517.41C170.47,517.08 172.97,516.68 175.93,516.20C178.90,515.73 182.65,515.25 185.52,514.59C188.40,513.93 190.62,513.01 193.20,512.27C195.77,511.53 198.40,510.69 200.97,510.15C203.54,509.61 206.08,509.11 208.64,509.04C211.20,508.97 214.38,509.38 216.31,509.75C218.25,510.12 218.57,510.67 220.25,511.26C221.93,511.85 224.05,512.66 226.41,513.28C228.76,513.90 231.71,514.51 234.38,514.99C237.06,515.48 239.75,515.78 242.46,516.20C245.17,516.62 248.20,517.16 250.64,517.52C253.08,517.87 256.02,518.19 257.10,518.32" stroke="#00df00" stroke-width="1.5" clip-path="url(#midcbb)"/>
<path d="M55.50,519.03C56.58,518.96 59.52,518.69 61.96,518.63C64.40,518.56 67.43,518.63 70.14,518.63C72.85,518.63 75.52,518.63 78.22,518.63C80.91,518.63 84.29,518.69 86.29,518.63C88.29,518.56 88.90,518.42 90.23,518.22C91.56,518.02 92.92,517.82 94.27,517.41C95.61,517.01 96.69,516.57 98.31,515.80C99.92,515.03 101.74,513.19 103.96,512.77C106.18,512.35 109.33,512.81 111.63,513.28C113.94,513.75 115.85,514.71 117.79,515.60C119.72,516.49 121.44,517.63 123.24,518.63C125.04,519.62 127.02,520.41 128.59,521.55C130.15,522.70 130.59,524.56 132.63,525.49C134.66,526.41 138.10,526.68 140.80,527.10C143.51,527.52 146.30,527.81 148.88,528.01C151.46,528.21 153.83,528.31 156.30,528.31C158.77,528.31 161.14,528.21 163.72,528.01C166.30,527.81 169.09,527.52 171.80,527.10C174.50,526.68 177.94,526.41 179.97,525.49C182.01,524.56 182.45,522.70 184.01,521.55C185.58,520.41 187.56,519.62 189.36,518.63C191.16,517.63 192.88,516.49 194.81,515.60C196.75,514.71 198.66,513.75 200.97,513.28C203.27,512.81 206.42,512.35 208.64,512.77C210.86,513.19 212.68,515.03 214.29,515.80C215.91,516.57 216.99,517.01 218.33,517.41C219.68,517.82 221.04,518.02 222.37,518.22C223.70,518.42 224.31,518.56 226.31,518.63C228.31,518.69 231.69,518.63 234.38,518.63C237.08,518.63 239.75,518.63 242.46,518.63C245.17,518.63 248.20,518.56 250.64,518.63C253.08,518.69 256.02,518.96 257.10,519.03" stroke="#00df00" stroke-width="1.5" clip-path="url(#midcbb)"/>
<path d="M55.50,520.64C56.58,520.71 59.52,520.91 61.96,521.05C64.40,521.18 67.43,521.32 70.14,521.45C72.85,521.59 75.52,521.72 78.22,521.85C80.91,521.99 83.95,522.22 86.29,522.26C88.63,522.29 90.52,522.26 92.25,522.06C93.98,521.85 94.72,521.42 96.69,521.05C98.66,520.68 102.11,520.51 104.06,519.84C106.01,519.16 107.14,517.99 108.40,517.01C109.66,516.04 110.07,515.63 111.63,513.98C113.19,512.34 115.85,509.16 117.79,507.12C119.72,505.09 121.44,503.32 123.24,501.78C125.04,500.23 126.35,499.14 128.59,497.84C130.83,496.55 134.14,495.27 136.67,494.01C139.19,492.75 141.83,491.21 143.73,490.27C145.63,489.33 145.98,488.76 148.07,488.36C150.17,487.95 153.56,487.85 156.30,487.85C159.04,487.85 162.43,487.95 164.53,488.36C166.62,488.76 166.97,489.33 168.87,490.27C170.77,491.21 173.41,492.75 175.93,494.01C178.46,495.27 181.77,496.55 184.01,497.84C186.25,499.14 187.56,500.23 189.36,501.78C191.16,503.32 192.88,505.09 194.81,507.12C196.75,509.16 199.41,512.34 200.97,513.98C202.53,515.63 202.94,516.04 204.20,517.01C205.46,517.99 206.59,519.16 208.54,519.84C210.49,520.51 213.94,520.68 215.91,521.05C217.88,521.42 218.62,521.85 220.35,522.06C222.08,522.26 223.97,522.29 226.31,522.26C228.65,522.22 231.69,521.99 234.38,521.85C237.08,521.72 239.75,521.59 242.46,521.45C245.17,521.32 248.20,521.18 250.64,521.05C253.08,520.91 256.02,520.71 257.10,520.64" stroke="#00df00" stroke-width="1.5" clip-path="url(#midcbb)"/>
<path d="M56.31,521.45C57.25,522.26 59.66,523.99 61.96,526.29C64.27,528.60 67.97,532.97 70.14,535.27C72.31,537.58 73.24,538.23 74.99,540.12C76.74,542.00 78.75,544.41 80.64,546.57C82.52,548.74 84.53,551.10 86.29,553.13C88.06,555.17 89.99,557.34 91.24,558.78C92.48,560.23 93.34,561.31 93.76,561.81" stroke="#00df00" stroke-width="1.5" clip-path="url(#midcbb)"/>
<path d="M218.84,561.81C219.26,561.31 220.12,560.23 221.36,558.78C222.61,557.34 224.54,555.17 226.31,553.13C228.07,551.10 230.08,548.74 231.96,546.57C233.85,544.41 235.86,542.00 237.61,540.12C239.36,538.23 240.29,537.58 242.46,535.27C244.63,532.97 248.33,528.60 250.64,526.29C252.94,523.99 255.35,522.26 256.29,521.45" stroke="#00df00" stroke-width="1.5" clip-path="url(#midcbb)"/>
<path d="M55.70,510.25C56.21,510.76 57.76,512.40 58.73,513.28C59.71,514.15 60.28,514.30 61.56,515.50C62.84,516.69 64.49,518.49 66.41,520.44C68.32,522.39 70.70,525.27 73.07,527.20C75.44,529.14 78.23,532.21 80.64,532.05C83.04,531.88 85.55,527.81 87.50,526.19C89.46,524.58 90.73,523.96 92.35,522.36C93.96,520.76 95.87,518.00 97.19,516.61C98.52,515.21 99.13,514.62 100.32,513.98C101.52,513.35 103.69,512.98 104.36,512.77" stroke="#00df00" stroke-width="1.5" clip-path="url(#midcbb)"/>
<path d="M208.24,512.77C208.91,512.98 211.08,513.35 212.28,513.98C213.47,514.62 214.08,515.21 215.41,516.61C216.73,518.00 218.64,520.76 220.25,522.36C221.87,523.96 223.14,524.58 225.10,526.19C227.05,527.81 229.56,531.88 231.96,532.05C234.37,532.21 237.16,529.14 239.53,527.20C241.90,525.27 244.28,522.39 246.19,520.44C248.11,518.49 249.76,516.69 251.04,515.50C252.32,514.30 252.89,514.15 253.87,513.28C254.84,512.40 256.39,510.76 256.90,510.25" stroke="#00df00" stroke-width="1.5" clip-path="url(#midcbb)"/>
<path d="M55.50,553.94C56.58,553.12 59.52,550.90 61.96,549.00C64.40,547.10 67.97,544.29 70.14,542.54C72.31,540.79 73.24,539.85 74.99,538.50C76.74,537.16 78.94,535.61 80.64,534.47C82.34,533.32 84.42,532.11 85.18,531.64" stroke="#00df00" stroke-width="1.5" clip-path="url(#midcbb)"/>
<path d="M227.42,531.64C228.18,532.11 230.26,533.32 231.96,534.47C233.66,535.61 235.86,537.16 237.61,538.50C239.36,539.85 240.29,540.79 242.46,542.54C244.63,544.29 248.20,547.10 250.64,549.00C253.08,550.90 256.02,553.12 257.10,553.94" stroke="#00df00" stroke-width="1.5" clip-path="url(#midcbb)"/>
<path d="M55.50,542.54C56.58,542.27 59.52,541.60 61.96,540.92C64.40,540.25 67.43,539.44 70.14,538.50C72.85,537.56 75.52,536.15 78.22,535.27C80.91,534.40 84.29,533.73 86.29,533.26C88.29,532.79 88.23,532.65 90.23,532.45C92.23,532.25 95.60,532.18 98.31,532.05C101.01,531.91 103.77,531.84 106.48,531.64C109.19,531.44 111.87,531.10 114.56,530.83C117.25,530.57 119.96,530.36 122.63,530.03C125.31,529.69 127.58,529.15 130.61,528.82C133.64,528.48 137.76,528.14 140.80,528.01C143.85,527.87 146.30,527.98 148.88,528.01C151.46,528.04 153.83,528.21 156.30,528.21C158.77,528.21 161.14,528.04 163.72,528.01C166.30,527.98 168.75,527.87 171.80,528.01C174.84,528.14 178.96,528.48 181.99,528.82C185.02,529.15 187.29,529.69 189.97,530.03C192.64,530.36 195.35,530.57 198.04,530.83C200.73,531.10 203.41,531.44 206.12,531.64C208.83,531.84 211.59,531.91 214.29,532.05C217.00,532.18 220.37,532.25 222.37,532.45C224.37,532.65 224.31,532.79 226.31,533.26C228.31,533.73 231.69,534.40 234.38,535.27C237.08,536.15 239.75,537.56 242.46,538.50C245.17,539.44 248.20,540.25 250.64,540.92C253.08,541.60 256.02,542.27 257.10,542.54" stroke="#00df00" stroke-width="2.0"/>
<path d="M55.50,548.19C56.58,548.19 59.52,548.32 61.96,548.19C64.40,548.05 67.43,547.79 70.14,547.38C72.85,546.98 75.52,546.57 78.22,545.77C80.91,544.96 84.29,543.62 86.29,542.54C88.29,541.46 88.23,539.98 90.23,539.31C92.23,538.64 95.60,538.70 98.31,538.50C101.01,538.30 103.77,538.10 106.48,538.10C109.19,538.10 111.87,538.30 114.56,538.50C117.25,538.70 119.96,538.91 122.63,539.31C125.31,539.71 127.58,540.66 130.61,540.92C133.64,541.19 137.76,541.13 140.80,540.92C143.85,540.72 146.30,539.98 148.88,539.71C151.46,539.44 153.83,539.31 156.30,539.31C158.77,539.31 161.14,539.44 163.72,539.71C166.30,539.98 168.75,540.72 171.80,540.92C174.84,541.13 178.96,541.19 181.99,540.92C185.02,540.66 187.29,539.71 189.97,539.31C192.64,538.91 195.35,538.70 198.04,538.50C200.73,538.30 203.41,538.10 206.12,538.10C208.83,538.10 211.59,538.30 214.29,538.50C217.00,538.70 220.37,538.64 222.37,539.31C224.37,539.98 224.31,541.46 226.31,542.54C228.31,543.62 231.69,544.96 234.38,545.77C237.08,546.57 239.75,546.98 242.46,547.38C245.17,547.79 248.20,548.05 250.64,548.19C253.08,548.32 256.02,548.19 257.10,548.19" stroke="#00df00" stroke-width="2.0"/>
<path d="M86.19,523.57C86.86,523.49 87.25,523.15 90.23,523.07C93.21,522.98 100.68,521.97 104.06,523.07C107.44,524.16 108.77,527.86 110.52,529.62C112.27,531.39 113.08,532.18 114.56,533.66C116.04,535.14 117.79,537.29 119.40,538.50C121.02,539.71 122.38,540.42 124.25,540.92C126.12,541.43 127.87,541.50 130.61,541.53C133.35,541.56 137.67,541.41 140.70,541.13C143.73,540.84 146.18,540.08 148.78,539.81C151.38,539.55 153.79,539.51 156.30,539.51C158.81,539.51 161.22,539.55 163.82,539.81C166.42,540.08 168.87,540.84 171.90,541.13C174.93,541.41 179.25,541.56 181.99,541.53C184.73,541.50 186.48,541.43 188.35,540.92C190.22,540.42 191.58,539.71 193.20,538.50C194.81,537.29 196.56,535.14 198.04,533.66C199.52,532.18 200.33,531.39 202.08,529.62C203.83,527.86 205.16,524.16 208.54,523.07C211.92,521.97 219.39,522.98 222.37,523.07C225.35,523.15 225.74,523.49 226.41,523.57" stroke="#00df00" stroke-width="1.5" clip-path="url(#midcbb)"/>
<path d="M110.52,515.40C111.60,515.87 114.69,517.21 116.98,518.22C119.27,519.23 121.98,520.51 124.25,521.45C126.52,522.39 127.87,522.93 130.61,523.87C133.35,524.81 137.67,526.40 140.70,527.10C143.73,527.81 146.18,527.91 148.78,528.11C151.38,528.31 153.79,528.31 156.30,528.31C158.81,528.31 161.22,528.31 163.82,528.11C166.42,527.91 168.87,527.81 171.90,527.10C174.93,526.40 179.25,524.81 181.99,523.87C184.73,522.93 186.08,522.39 188.35,521.45C190.62,520.51 193.33,519.23 195.62,518.22C197.91,517.21 201.00,515.87 202.08,515.40" stroke="#00df00" stroke-width="1.5" clip-path="url(#midcbb)"/>
<path d="M90.23,540.92C90.90,541.33 92.92,542.40 94.27,543.35C95.61,544.29 96.96,545.77 98.31,546.57C99.65,547.38 100.98,547.85 102.34,548.19C103.71,548.53 104.45,548.79 106.48,548.59C108.52,548.39 112.13,547.52 114.56,546.98C116.98,546.44 119.00,545.73 121.02,545.36C123.04,544.99 124.74,545.45 126.67,544.76C128.61,544.07 130.96,542.49 132.63,541.23C134.29,539.97 134.63,538.32 136.67,537.19C138.70,536.06 142.13,534.92 144.84,534.47C147.55,534.01 151.01,534.47 152.92,534.47C154.83,534.47 155.17,534.47 156.30,534.47C157.43,534.47 157.77,534.47 159.68,534.47C161.59,534.47 165.05,534.01 167.76,534.47C170.47,534.92 173.90,536.06 175.93,537.19C177.97,538.32 178.31,539.97 179.97,541.23C181.64,542.49 183.99,544.07 185.93,544.76C187.86,545.45 189.56,544.99 191.58,545.36C193.60,545.73 195.62,546.44 198.04,546.98C200.47,547.52 204.08,548.39 206.12,548.59C208.15,548.79 208.89,548.53 210.26,548.19C211.62,547.85 212.95,547.38 214.29,546.57C215.64,545.77 216.99,544.29 218.33,543.35C219.68,542.40 221.70,541.33 222.37,540.92" stroke="#00df00" stroke-width="1.5" clip-path="url(#midcbb)"/>
<path d="M90.23,554.75C91.58,554.61 95.60,554.21 98.31,553.94C101.01,553.67 103.77,553.40 106.48,553.13C109.19,552.86 111.87,552.75 114.56,552.33C117.25,551.91 119.96,551.17 122.63,550.61C125.31,550.06 127.60,549.47 130.61,549.00C133.62,548.53 137.67,548.07 140.70,547.79C143.73,547.50 146.18,547.37 148.78,547.28C151.38,547.20 153.79,547.28 156.30,547.28C158.81,547.28 161.22,547.20 163.82,547.28C166.42,547.37 168.87,547.50 171.90,547.79C174.93,548.07 178.98,548.53 181.99,549.00C185.00,549.47 187.29,550.06 189.97,550.61C192.64,551.17 195.35,551.91 198.04,552.33C200.73,552.75 203.41,552.86 206.12,553.13C208.83,553.40 211.59,553.67 214.29,553.94C217.00,554.21 221.02,554.61 222.37,554.75" stroke="#00df00" stroke-width="1.5" clip-path="url(#midcbb)"/>
<path d="M55.50,556.36C56.58,556.56 59.52,557.44 61.96,557.57C64.40,557.71 67.43,557.30 70.14,557.17C72.85,557.03 75.52,556.77 78.22,556.77C80.91,556.77 83.62,557.10 86.29,557.17C88.97,557.24 91.93,557.22 94.27,557.17C96.61,557.12 97.63,557.00 100.32,556.87C103.02,556.73 107.05,556.61 110.42,556.36C113.78,556.11 117.15,555.61 120.51,555.35C123.88,555.10 127.24,555.35 130.61,554.85C133.97,554.34 136.42,552.88 140.70,552.33C144.99,551.77 151.10,551.52 156.30,551.52C161.50,551.52 167.61,551.77 171.90,552.33C176.18,552.88 178.63,554.34 181.99,554.85C185.36,555.35 188.72,555.10 192.09,555.35C195.45,555.61 198.82,556.11 202.18,556.36C205.55,556.61 209.58,556.73 212.28,556.87C214.97,557.00 215.99,557.12 218.33,557.17C220.67,557.22 223.63,557.24 226.31,557.17C228.98,557.10 231.69,556.77 234.38,556.77C237.08,556.77 239.75,557.03 242.46,557.17C245.17,557.30 248.20,557.71 250.64,557.57C253.08,557.44 256.02,556.56 257.10,556.36" stroke="#00df00" stroke-width="2.0"/>
<path d="M82.25,561.81C83.20,561.44 85.91,560.10 87.91,559.59C89.91,559.09 92.20,558.92 94.27,558.78C96.34,558.65 97.63,558.78 100.32,558.78C103.02,558.78 107.05,558.85 110.42,558.78C113.78,558.72 117.15,558.53 120.51,558.38C123.88,558.23 127.24,558.04 130.61,557.88C133.97,557.71 136.42,557.49 140.70,557.37C144.99,557.25 151.10,557.17 156.30,557.17C161.50,557.17 167.61,557.25 171.90,557.37C176.18,557.49 178.63,557.71 181.99,557.88C185.36,558.04 188.72,558.23 192.09,558.38C195.45,558.53 198.82,558.72 202.18,558.78C205.55,558.85 209.58,558.78 212.28,558.78C214.97,558.78 216.26,558.65 218.33,558.78C220.40,558.92 222.69,559.09 224.69,559.59C226.69,560.10 229.40,561.44 230.35,561.81" stroke="#00df00" stroke-width="1.5" clip-path="url(#midcbb)"/>
<path d="M136.67,528.11C137.34,528.53 139.36,529.46 140.70,530.63C142.05,531.81 143.40,533.58 144.74,535.17C146.09,536.77 147.43,538.54 148.78,540.22C150.13,541.90 151.56,543.92 152.82,545.26C154.07,546.61 155.14,548.29 156.30,548.29C157.46,548.29 158.53,546.61 159.78,545.26C161.04,543.92 162.47,541.90 163.82,540.22C165.17,538.54 166.51,536.77 167.86,535.17C169.20,533.58 170.55,531.81 171.90,530.63C173.24,529.46 175.26,528.53 175.93,528.11" stroke="#00df00" stroke-width="1.5" clip-path="url(#midcbb)"/>
<path d="M130.61,561.81C131.62,561.07 134.65,558.95 136.67,557.37C138.68,555.79 140.70,553.92 142.72,552.33C144.74,550.73 146.52,549.13 148.78,547.79C151.04,546.44 153.79,544.25 156.30,544.25C158.81,544.25 161.56,546.44 163.82,547.79C166.08,549.13 167.86,550.73 169.88,552.33C171.90,553.92 173.92,555.79 175.93,557.37C177.95,558.95 180.98,561.07 181.99,561.81" stroke="#00df00" stroke-width="1.5" clip-path="url(#midcbb)"/>
<path d="M55.50,557.98C56.04,558.51 57.99,560.57 58.73,561.21C59.47,561.84 59.74,561.71 59.94,561.81" stroke="#00df00" stroke-width="1.5" clip-path="url(#midcbb)"/>
<path d="M252.66,561.81C252.86,561.71 253.13,561.84 253.87,561.21C254.61,560.57 256.56,558.51 257.10,557.98" stroke="#00df00" stroke-width="1.5" clip-path="url(#midcbb)"/>
<clipPath id="ovb0"><rect x="156.3" y="307.5" width="0.0" height="246.79999999999995"/></clipPath>
<path d="M56.00,449.40C57.35,448.73 61.07,447.08 64.10,445.40C67.13,443.72 70.83,440.98 74.20,439.30C77.57,437.62 80.93,436.13 84.30,435.30C87.67,434.47 91.12,434.47 94.40,434.30C97.68,434.13 100.62,434.65 104.00,434.30C107.38,433.95 111.15,433.17 114.70,432.20C118.25,431.23 121.75,429.83 125.30,428.50C128.85,427.17 133.33,425.45 136.00,424.20C138.67,422.95 139.52,422.15 141.30,421.00C143.08,419.85 144.92,418.28 146.70,417.30C148.48,416.32 150.40,415.63 152.00,415.10C153.60,414.57 154.87,414.10 156.30,414.10C157.73,414.10 159.00,414.57 160.60,415.10C162.20,415.63 164.12,416.32 165.90,417.30C167.68,418.28 169.52,419.85 171.30,421.00C173.08,422.15 173.93,422.95 176.60,424.20C179.27,425.45 183.75,427.17 187.30,428.50C190.85,429.83 194.35,431.23 197.90,432.20C201.45,433.17 205.22,433.95 208.60,434.30C211.98,434.65 214.92,434.13 218.20,434.30C221.48,434.47 224.93,434.47 228.30,435.30C231.67,436.13 235.03,437.62 238.40,439.30C241.77,440.98 245.47,443.72 248.50,445.40C251.53,447.08 255.25,448.73 256.60,449.40" stroke="#3f8500" stroke-width="0.9" clip-path="url(#ovb0)"/>
<clipPath id="ovb1"><rect x="118.3" y="307.5" width="76.0" height="246.79999999999995"/></clipPath>
<path d="M55.70,489.26C56.92,489.31 60.23,489.31 62.97,489.57C65.72,489.82 68.96,490.29 72.16,490.78C75.36,491.27 79.07,491.99 82.15,492.49C85.23,493.00 87.82,493.38 90.63,493.80C93.44,494.22 96.20,494.73 99.01,495.02C101.82,495.30 104.68,495.37 107.49,495.52C110.30,495.67 114.04,495.86 115.87,495.92C117.70,495.99 116.64,495.79 118.49,495.92C120.35,496.06 124.16,496.44 126.97,496.73C129.78,497.02 132.54,497.35 135.35,497.64C138.16,497.92 141.02,498.18 143.83,498.45C146.64,498.71 150.13,499.12 152.21,499.25C154.29,499.39 154.94,499.25 156.30,499.25C157.66,499.25 158.31,499.39 160.39,499.25C162.47,499.12 165.96,498.71 168.77,498.45C171.58,498.18 174.44,497.92 177.25,497.64C180.06,497.35 182.82,497.02 185.63,496.73C188.44,496.44 192.25,496.06 194.11,495.92C195.96,495.79 194.90,495.99 196.73,495.92C198.56,495.86 202.30,495.67 205.11,495.52C207.92,495.37 210.78,495.30 213.59,495.02C216.40,494.73 219.16,494.22 221.97,493.80C224.78,493.38 227.37,493.00 230.45,492.49C233.53,491.99 237.24,491.27 240.44,490.78C243.64,490.29 246.88,489.82 249.63,489.57C252.37,489.31 255.68,489.31 256.90,489.26" stroke="#b03c00" stroke-width="0.9" clip-path="url(#ovb1)"/>
<clipPath id="ovb2"><rect x="156.3" y="307.5" width="0.0" height="246.79999999999995"/></clipPath>
<path d="M55.70,491.79C56.92,491.89 60.75,492.04 62.97,492.39C65.19,492.75 66.99,493.25 69.03,493.91C71.07,494.56 73.00,495.79 75.19,496.33C77.38,496.87 79.58,496.65 82.15,497.13C84.73,497.62 87.82,498.33 90.63,499.25C93.44,500.18 96.20,501.84 99.01,502.68C101.82,503.52 104.68,504.03 107.49,504.30C110.30,504.57 114.04,504.33 115.87,504.30C117.70,504.26 116.64,504.18 118.49,504.10C120.35,504.01 124.16,503.89 126.97,503.79C129.78,503.69 132.54,503.61 135.35,503.49C138.16,503.37 141.02,503.22 143.83,503.09C146.64,502.95 150.13,502.75 152.21,502.68C154.29,502.62 154.94,502.68 156.30,502.68C157.66,502.68 158.31,502.62 160.39,502.68C162.47,502.75 165.96,502.95 168.77,503.09C171.58,503.22 174.44,503.37 177.25,503.49C180.06,503.61 182.82,503.69 185.63,503.79C188.44,503.89 192.25,504.01 194.11,504.10C195.96,504.18 194.90,504.26 196.73,504.30C198.56,504.33 202.30,504.57 205.11,504.30C207.92,504.03 210.78,503.52 213.59,502.68C216.40,501.84 219.16,500.18 221.97,499.25C224.78,498.33 227.87,497.62 230.45,497.13C233.02,496.65 235.22,496.87 237.41,496.33C239.60,495.79 241.53,494.56 243.57,493.91C245.61,493.25 247.41,492.75 249.63,492.39C251.85,492.04 255.68,491.89 256.90,491.79" stroke="#3f8500" stroke-width="0.9" clip-path="url(#ovb2)"/>
<clipPath id="ovb3"><rect x="128.3" y="307.5" width="56.0" height="246.79999999999995"/></clipPath>
<path d="M55.50,518.32C56.58,518.19 59.52,517.87 61.96,517.52C64.40,517.16 67.43,516.62 70.14,516.20C72.85,515.78 75.54,515.48 78.22,514.99C80.89,514.51 83.84,513.90 86.19,513.28C88.55,512.66 90.67,511.85 92.35,511.26C94.03,510.67 94.35,510.12 96.29,509.75C98.22,509.38 101.40,508.97 103.96,509.04C106.52,509.11 109.06,509.61 111.63,510.15C114.20,510.69 116.83,511.53 119.40,512.27C121.98,513.01 124.20,513.93 127.08,514.59C129.95,515.25 133.70,515.73 136.67,516.20C139.63,516.68 142.13,517.08 144.84,517.41C147.55,517.75 151.01,518.05 152.92,518.22C154.83,518.39 155.17,518.42 156.30,518.42C157.43,518.42 157.77,518.39 159.68,518.22C161.59,518.05 165.05,517.75 167.76,517.41C170.47,517.08 172.97,516.68 175.93,516.20C178.90,515.73 182.65,515.25 185.52,514.59C188.40,513.93 190.62,513.01 193.20,512.27C195.77,511.53 198.40,510.69 200.97,510.15C203.54,509.61 206.08,509.11 208.64,509.04C211.20,508.97 214.38,509.38 216.31,509.75C218.25,510.12 218.57,510.67 220.25,511.26C221.93,511.85 224.05,512.66 226.41,513.28C228.76,513.90 231.71,514.51 234.38,514.99C237.06,515.48 239.75,515.78 242.46,516.20C245.17,516.62 248.20,517.16 250.64,517.52C253.08,517.87 256.02,518.19 257.10,518.32" stroke="#b03c00" stroke-width="0.9" clip-path="url(#ovb3)"/>
</g>
<g clip-path="url(#cbb)" fill="#00df00">
<circle cx="57.59" cy="312.42" r="0.95"/><circle cx="59.98" cy="310.30" r="0.95"/><circle cx="62.37" cy="308.48" r="0.95"/><circle cx="64.76" cy="307.13" r="0.95"/><circle cx="255.01" cy="312.42" r="0.95"/><circle cx="252.62" cy="310.30" r="0.95"/><circle cx="250.23" cy="308.48" r="0.95"/><circle cx="247.84" cy="307.13" r="0.95"/><circle cx="57.59" cy="316.95" r="0.95"/><circle cx="59.98" cy="317.12" r="0.95"/><circle cx="62.37" cy="317.22" r="0.95"/><circle cx="64.76" cy="317.24" r="0.95"/><circle cx="67.15" cy="317.23" r="0.95"/><circle cx="69.54" cy="317.19" r="0.95"/><circle cx="71.93" cy="317.12" r="0.95"/><circle cx="74.32" cy="317.01" r="0.95"/><circle cx="76.71" cy="316.91" r="0.95"/><circle cx="79.10" cy="316.82" r="0.95"/><circle cx="81.49" cy="316.74" r="0.95"/><circle cx="83.88" cy="316.63" r="0.95"/><circle cx="86.27" cy="316.50" r="0.95"/><circle cx="88.66" cy="316.36" r="0.95"/><circle cx="91.05" cy="316.19" r="0.95"/><circle cx="93.44" cy="315.91" r="0.95"/><circle cx="95.83" cy="315.02" r="0.95"/><circle cx="98.22" cy="314.97" r="0.95"/><circle cx="100.61" cy="315.11" r="0.95"/><circle cx="103.00" cy="315.27" r="0.95"/><circle cx="255.01" cy="316.95" r="0.95"/><circle cx="252.62" cy="317.12" r="0.95"/><circle cx="250.23" cy="317.22" r="0.95"/><circle cx="247.84" cy="317.24" r="0.95"/><circle cx="245.45" cy="317.23" r="0.95"/><circle cx="243.06" cy="317.19" r="0.95"/><circle cx="240.67" cy="317.12" r="0.95"/><circle cx="238.28" cy="317.01" r="0.95"/><circle cx="235.89" cy="316.91" r="0.95"/><circle cx="233.50" cy="316.82" r="0.95"/><circle cx="231.11" cy="316.74" r="0.95"/><circle cx="228.72" cy="316.63" r="0.95"/><circle cx="226.33" cy="316.50" r="0.95"/><circle cx="223.94" cy="316.36" r="0.95"/><circle cx="221.55" cy="316.19" r="0.95"/><circle cx="219.16" cy="315.91" r="0.95"/><circle cx="216.77" cy="315.02" r="0.95"/><circle cx="214.38" cy="314.97" r="0.95"/><circle cx="211.99" cy="315.11" r="0.95"/><circle cx="209.60" cy="315.27" r="0.95"/><circle cx="57.59" cy="317.47" r="0.95"/><circle cx="59.98" cy="317.56" r="0.95"/><circle cx="62.37" cy="317.61" r="0.95"/><circle cx="64.76" cy="317.63" r="0.95"/><circle cx="67.15" cy="317.63" r="0.95"/><circle cx="69.54" cy="317.59" r="0.95"/><circle cx="71.93" cy="317.51" r="0.95"/><circle cx="74.32" cy="317.40" r="0.95"/><circle cx="76.71" cy="317.31" r="0.95"/><circle cx="79.10" cy="317.23" r="0.95"/><circle cx="81.49" cy="317.15" r="0.95"/><circle cx="83.88" cy="317.11" r="0.95"/><circle cx="86.27" cy="317.08" r="0.95"/><circle cx="88.66" cy="317.05" r="0.95"/><circle cx="91.05" cy="317.07" r="0.95"/><circle cx="93.44" cy="317.29" r="0.95"/><circle cx="95.83" cy="318.67" r="0.95"/><circle cx="98.22" cy="320.07" r="0.95"/><circle cx="100.61" cy="321.66" r="0.95"/><circle cx="103.00" cy="322.62" r="0.95"/><circle cx="255.01" cy="317.47" r="0.95"/><circle cx="252.62" cy="317.56" r="0.95"/><circle cx="250.23" cy="317.61" r="0.95"/><circle cx="247.84" cy="317.63" r="0.95"/><circle cx="245.45" cy="317.63" r="0.95"/><circle cx="243.06" cy="317.59" r="0.95"/><circle cx="240.67" cy="317.51" r="0.95"/><circle cx="238.28" cy="317.40" r="0.95"/><circle cx="235.89" cy="317.31" r="0.95"/><circle cx="233.50" cy="317.23" r="0.95"/><circle cx="231.11" cy="317.15" r="0.95"/><circle cx="228.72" cy="317.11" r="0.95"/><circle cx="226.33" cy="317.08" r="0.95"/><circle cx="223.94" cy="317.05" r="0.95"/><circle cx="221.55" cy="317.07" r="0.95"/><circle cx="219.16" cy="317.29" r="0.95"/><circle cx="216.77" cy="318.67" r="0.95"/><circle cx="214.38" cy="320.07" r="0.95"/><circle cx="211.99" cy="321.66" r="0.95"/><circle cx="209.60" cy="322.62" r="0.95"/><circle cx="57.59" cy="320.28" r="0.95"/><circle cx="59.98" cy="320.42" r="0.95"/><circle cx="62.37" cy="320.72" r="0.95"/><circle cx="64.76" cy="321.17" r="0.95"/><circle cx="67.15" cy="321.67" r="0.95"/><circle cx="69.54" cy="322.17" r="0.95"/><circle cx="71.93" cy="322.57" r="0.95"/><circle cx="74.32" cy="323.21" r="0.95"/><circle cx="76.71" cy="324.10" r="0.95"/><circle cx="79.10" cy="325.07" r="0.95"/><circle cx="81.49" cy="326.04" r="0.95"/><circle cx="83.88" cy="326.98" r="0.95"/><circle cx="86.27" cy="327.92" r="0.95"/><circle cx="88.66" cy="328.82" r="0.95"/><circle cx="91.05" cy="329.61" r="0.95"/><circle cx="93.44" cy="330.07" r="0.95"/><circle cx="95.83" cy="330.15" r="0.95"/><circle cx="98.22" cy="329.53" r="0.95"/><circle cx="100.61" cy="328.40" r="0.95"/><circle cx="103.00" cy="327.93" r="0.95"/><circle cx="255.01" cy="320.28" r="0.95"/><circle cx="252.62" cy="320.42" r="0.95"/><circle cx="250.23" cy="320.72" r="0.95"/><circle cx="247.84" cy="321.17" r="0.95"/><circle cx="245.45" cy="321.67" r="0.95"/><circle cx="243.06" cy="322.17" r="0.95"/><circle cx="240.67" cy="322.57" r="0.95"/><circle cx="238.28" cy="323.21" r="0.95"/><circle cx="235.89" cy="324.10" r="0.95"/><circle cx="233.50" cy="325.07" r="0.95"/><circle cx="231.11" cy="326.04" r="0.95"/><circle cx="228.72" cy="326.98" r="0.95"/><circle cx="226.33" cy="327.92" r="0.95"/><circle cx="223.94" cy="328.82" r="0.95"/><circle cx="221.55" cy="329.61" r="0.95"/><circle cx="219.16" cy="330.07" r="0.95"/><circle cx="216.77" cy="330.15" r="0.95"/><circle cx="214.38" cy="329.53" r="0.95"/><circle cx="211.99" cy="328.40" r="0.95"/><circle cx="209.60" cy="327.93" r="0.95"/><circle cx="57.59" cy="323.11" r="0.95"/><circle cx="59.98" cy="323.42" r="0.95"/><circle cx="62.37" cy="323.86" r="0.95"/><circle cx="64.76" cy="324.43" r="0.95"/><circle cx="67.15" cy="325.05" r="0.95"/><circle cx="69.54" cy="325.69" r="0.95"/><circle cx="71.93" cy="326.43" r="0.95"/><circle cx="74.32" cy="327.20" r="0.95"/><circle cx="76.71" cy="327.93" r="0.95"/><circle cx="79.10" cy="328.69" r="0.95"/><circle cx="81.49" cy="329.56" r="0.95"/><circle cx="83.88" cy="330.50" r="0.95"/><circle cx="86.27" cy="331.46" r="0.95"/><circle cx="88.66" cy="332.51" r="0.95"/><circle cx="91.05" cy="333.39" r="0.95"/><circle cx="93.44" cy="333.89" r="0.95"/><circle cx="95.83" cy="334.19" r="0.95"/><circle cx="98.22" cy="334.40" r="0.95"/><circle cx="100.61" cy="334.28" r="0.95"/><circle cx="103.00" cy="333.80" r="0.95"/><circle cx="255.01" cy="323.11" r="0.95"/><circle cx="252.62" cy="323.42" r="0.95"/><circle cx="250.23" cy="323.86" r="0.95"/><circle cx="247.84" cy="324.43" r="0.95"/><circle cx="245.45" cy="325.05" r="0.95"/><circle cx="243.06" cy="325.69" r="0.95"/><circle cx="240.67" cy="326.43" r="0.95"/><circle cx="238.28" cy="327.20" r="0.95"/><circle cx="235.89" cy="327.93" r="0.95"/><circle cx="233.50" cy="328.69" r="0.95"/><circle cx="231.11" cy="329.56" r="0.95"/><circle cx="228.72" cy="330.50" r="0.95"/><circle cx="226.33" cy="331.46" r="0.95"/><circle cx="223.94" cy="332.51" r="0.95"/><circle cx="221.55" cy="333.39" r="0.95"/><circle cx="219.16" cy="333.89" r="0.95"/><circle cx="216.77" cy="334.19" r="0.95"/><circle cx="214.38" cy="334.40" r="0.95"/><circle cx="211.99" cy="334.28" r="0.95"/><circle cx="209.60" cy="333.80" r="0.95"/><circle cx="57.59" cy="325.25" r="0.95"/><circle cx="59.98" cy="327.00" r="0.95"/><circle cx="62.37" cy="329.37" r="0.95"/><circle cx="64.76" cy="332.48" r="0.95"/><circle cx="67.15" cy="335.68" r="0.95"/><circle cx="69.54" cy="338.29" r="0.95"/><circle cx="71.93" cy="340.87" r="0.95"/><circle cx="74.32" cy="342.37" r="0.95"/><circle cx="76.71" cy="343.52" r="0.95"/><circle cx="79.10" cy="344.31" r="0.95"/><circle cx="81.49" cy="344.52" r="0.95"/><circle cx="83.88" cy="344.32" r="0.95"/><circle cx="86.27" cy="343.75" r="0.95"/><circle cx="88.66" cy="342.91" r="0.95"/><circle cx="91.05" cy="342.04" r="0.95"/><circle cx="93.44" cy="341.40" r="0.95"/><circle cx="95.83" cy="341.03" r="0.95"/><circle cx="98.22" cy="339.76" r="0.95"/><circle cx="100.61" cy="338.05" r="0.95"/><circle cx="103.00" cy="338.37" r="0.95"/><circle cx="255.01" cy="325.25" r="0.95"/><circle cx="252.62" cy="327.00" r="0.95"/><circle cx="250.23" cy="329.37" r="0.95"/><circle cx="247.84" cy="332.48" r="0.95"/><circle cx="245.45" cy="335.68" r="0.95"/><circle cx="243.06" cy="338.29" r="0.95"/><circle cx="240.67" cy="340.87" r="0.95"/><circle cx="238.28" cy="342.37" r="0.95"/><circle cx="235.89" cy="343.52" r="0.95"/><circle cx="233.50" cy="344.31" r="0.95"/><circle cx="231.11" cy="344.52" r="0.95"/><circle cx="228.72" cy="344.32" r="0.95"/><circle cx="226.33" cy="343.75" r="0.95"/><circle cx="223.94" cy="342.91" r="0.95"/><circle cx="221.55" cy="342.04" r="0.95"/><circle cx="219.16" cy="341.40" r="0.95"/><circle cx="216.77" cy="341.03" r="0.95"/><circle cx="214.38" cy="339.76" r="0.95"/><circle cx="211.99" cy="338.05" r="0.95"/><circle cx="209.60" cy="338.37" r="0.95"/><circle cx="57.59" cy="326.91" r="0.95"/><circle cx="59.98" cy="329.61" r="0.95"/><circle cx="62.37" cy="332.67" r="0.95"/><circle cx="64.76" cy="335.56" r="0.95"/><circle cx="67.15" cy="337.74" r="0.95"/><circle cx="69.54" cy="340.70" r="0.95"/><circle cx="71.93" cy="343.44" r="0.95"/><circle cx="74.32" cy="345.22" r="0.95"/><circle cx="76.71" cy="346.33" r="0.95"/><circle cx="79.10" cy="346.90" r="0.95"/><circle cx="81.49" cy="346.91" r="0.95"/><circle cx="83.88" cy="346.52" r="0.95"/><circle cx="86.27" cy="345.85" r="0.95"/><circle cx="88.66" cy="344.97" r="0.95"/><circle cx="91.05" cy="343.90" r="0.95"/><circle cx="93.44" cy="342.83" r="0.95"/><circle cx="95.83" cy="341.88" r="0.95"/><circle cx="98.22" cy="341.03" r="0.95"/><circle cx="100.61" cy="340.68" r="0.95"/><circle cx="103.00" cy="341.50" r="0.95"/><circle cx="103.00" cy="341.50" r="0.95"/><circle cx="255.01" cy="326.91" r="0.95"/><circle cx="252.62" cy="329.61" r="0.95"/><circle cx="250.23" cy="332.67" r="0.95"/><circle cx="247.84" cy="335.56" r="0.95"/><circle cx="245.45" cy="337.74" r="0.95"/><circle cx="243.06" cy="340.70" r="0.95"/><circle cx="240.67" cy="343.44" r="0.95"/><circle cx="238.28" cy="345.22" r="0.95"/><circle cx="235.89" cy="346.33" r="0.95"/><circle cx="233.50" cy="346.90" r="0.95"/><circle cx="231.11" cy="346.91" r="0.95"/><circle cx="228.72" cy="346.52" r="0.95"/><circle cx="226.33" cy="345.85" r="0.95"/><circle cx="223.94" cy="344.97" r="0.95"/><circle cx="221.55" cy="343.90" r="0.95"/><circle cx="219.16" cy="342.83" r="0.95"/><circle cx="216.77" cy="341.88" r="0.95"/><circle cx="214.38" cy="341.03" r="0.95"/><circle cx="211.99" cy="340.68" r="0.95"/><circle cx="209.60" cy="341.50" r="0.95"/><circle cx="209.60" cy="341.50" r="0.95"/><circle cx="57.59" cy="370.09" r="0.95"/><circle cx="59.98" cy="369.91" r="0.95"/><circle cx="62.37" cy="369.56" r="0.95"/><circle cx="64.76" cy="368.91" r="0.95"/><circle cx="67.15" cy="367.99" r="0.95"/><circle cx="69.54" cy="366.97" r="0.95"/><circle cx="71.93" cy="365.94" r="0.95"/><circle cx="74.32" cy="365.00" r="0.95"/><circle cx="76.71" cy="364.14" r="0.95"/><circle cx="79.10" cy="363.27" r="0.95"/><circle cx="81.49" cy="362.27" r="0.95"/><circle cx="83.88" cy="360.88" r="0.95"/><circle cx="86.27" cy="358.81" r="0.95"/><circle cx="88.66" cy="356.60" r="0.95"/><circle cx="91.05" cy="354.58" r="0.95"/><circle cx="93.44" cy="352.57" r="0.95"/><circle cx="95.83" cy="350.56" r="0.95"/><circle cx="98.22" cy="348.56" r="0.95"/><circle cx="100.61" cy="346.71" r="0.95"/><circle cx="103.00" cy="345.28" r="0.95"/><circle cx="255.01" cy="370.09" r="0.95"/><circle cx="252.62" cy="369.91" r="0.95"/><circle cx="250.23" cy="369.56" r="0.95"/><circle cx="247.84" cy="368.91" r="0.95"/><circle cx="245.45" cy="367.99" r="0.95"/><circle cx="243.06" cy="366.97" r="0.95"/><circle cx="240.67" cy="365.94" r="0.95"/><circle cx="238.28" cy="365.00" r="0.95"/><circle cx="235.89" cy="364.14" r="0.95"/><circle cx="233.50" cy="363.27" r="0.95"/><circle cx="231.11" cy="362.27" r="0.95"/><circle cx="228.72" cy="360.88" r="0.95"/><circle cx="226.33" cy="358.81" r="0.95"/><circle cx="223.94" cy="356.60" r="0.95"/><circle cx="221.55" cy="354.58" r="0.95"/><circle cx="219.16" cy="352.57" r="0.95"/><circle cx="216.77" cy="350.56" r="0.95"/><circle cx="214.38" cy="348.56" r="0.95"/><circle cx="211.99" cy="346.71" r="0.95"/><circle cx="209.60" cy="345.28" r="0.95"/><circle cx="57.59" cy="359.87" r="0.95"/><circle cx="59.98" cy="358.70" r="0.95"/><circle cx="62.37" cy="357.49" r="0.95"/><circle cx="64.76" cy="356.19" r="0.95"/><circle cx="67.15" cy="354.73" r="0.95"/><circle cx="69.54" cy="353.33" r="0.95"/><circle cx="71.93" cy="352.31" r="0.95"/><circle cx="74.32" cy="351.80" r="0.95"/><circle cx="76.71" cy="351.70" r="0.95"/><circle cx="79.10" cy="351.84" r="0.95"/><circle cx="81.49" cy="352.29" r="0.95"/><circle cx="83.88" cy="353.12" r="0.95"/><circle cx="86.27" cy="354.46" r="0.95"/><circle cx="88.66" cy="355.47" r="0.95"/><circle cx="91.05" cy="356.50" r="0.95"/><circle cx="93.44" cy="358.03" r="0.95"/><circle cx="95.83" cy="359.02" r="0.95"/><circle cx="98.22" cy="359.80" r="0.95"/><circle cx="100.61" cy="360.40" r="0.95"/><circle cx="103.00" cy="360.65" r="0.95"/><circle cx="255.01" cy="359.87" r="0.95"/><circle cx="252.62" cy="358.70" r="0.95"/><circle cx="250.23" cy="357.49" r="0.95"/><circle cx="247.84" cy="356.19" r="0.95"/><circle cx="245.45" cy="354.73" r="0.95"/><circle cx="243.06" cy="353.33" r="0.95"/><circle cx="240.67" cy="352.31" r="0.95"/><circle cx="238.28" cy="351.80" r="0.95"/><circle cx="235.89" cy="351.70" r="0.95"/><circle cx="233.50" cy="351.84" r="0.95"/><circle cx="231.11" cy="352.29" r="0.95"/><circle cx="228.72" cy="353.12" r="0.95"/><circle cx="226.33" cy="354.46" r="0.95"/><circle cx="223.94" cy="355.47" r="0.95"/><circle cx="221.55" cy="356.50" r="0.95"/><circle cx="219.16" cy="358.03" r="0.95"/><circle cx="216.77" cy="359.02" r="0.95"/><circle cx="214.38" cy="359.80" r="0.95"/><circle cx="211.99" cy="360.40" r="0.95"/><circle cx="209.60" cy="360.65" r="0.95"/><circle cx="57.59" cy="361.18" r="0.95"/><circle cx="59.98" cy="360.45" r="0.95"/><circle cx="62.37" cy="359.68" r="0.95"/><circle cx="64.76" cy="358.83" r="0.95"/><circle cx="67.15" cy="357.87" r="0.95"/><circle cx="69.54" cy="356.93" r="0.95"/><circle cx="71.93" cy="356.15" r="0.95"/><circle cx="74.32" cy="355.52" r="0.95"/><circle cx="76.71" cy="355.07" r="0.95"/><circle cx="79.10" cy="355.16" r="0.95"/><circle cx="81.49" cy="356.34" r="0.95"/><circle cx="83.88" cy="358.19" r="0.95"/><circle cx="86.27" cy="360.88" r="0.95"/><circle cx="88.66" cy="363.60" r="0.95"/><circle cx="91.05" cy="366.22" r="0.95"/><circle cx="93.44" cy="369.01" r="0.95"/><circle cx="95.83" cy="371.94" r="0.95"/><circle cx="98.22" cy="374.32" r="0.95"/><circle cx="100.61" cy="376.21" r="0.95"/><circle cx="103.00" cy="377.69" r="0.95"/><circle cx="255.01" cy="361.18" r="0.95"/><circle cx="252.62" cy="360.45" r="0.95"/><circle cx="250.23" cy="359.68" r="0.95"/><circle cx="247.84" cy="358.83" r="0.95"/><circle cx="245.45" cy="357.87" r="0.95"/><circle cx="243.06" cy="356.93" r="0.95"/><circle cx="240.67" cy="356.15" r="0.95"/><circle cx="238.28" cy="355.52" r="0.95"/><circle cx="235.89" cy="355.07" r="0.95"/><circle cx="233.50" cy="355.16" r="0.95"/><circle cx="231.11" cy="356.34" r="0.95"/><circle cx="228.72" cy="358.19" r="0.95"/><circle cx="226.33" cy="360.88" r="0.95"/><circle cx="223.94" cy="363.60" r="0.95"/><circle cx="221.55" cy="366.22" r="0.95"/><circle cx="219.16" cy="369.01" r="0.95"/><circle cx="216.77" cy="371.94" r="0.95"/><circle cx="214.38" cy="374.32" r="0.95"/><circle cx="211.99" cy="376.21" r="0.95"/><circle cx="209.60" cy="377.69" r="0.95"/><circle cx="57.59" cy="370.78" r="0.95"/><circle cx="59.98" cy="371.61" r="0.95"/><circle cx="62.37" cy="372.57" r="0.95"/><circle cx="64.76" cy="373.79" r="0.95"/><circle cx="67.15" cy="375.26" r="0.95"/><circle cx="69.54" cy="376.80" r="0.95"/><circle cx="71.93" cy="378.23" r="0.95"/><circle cx="74.32" cy="379.43" r="0.95"/><circle cx="76.71" cy="380.47" r="0.95"/><circle cx="79.10" cy="381.41" r="0.95"/><circle cx="81.49" cy="382.25" r="0.95"/><circle cx="83.88" cy="382.93" r="0.95"/><circle cx="86.27" cy="383.12" r="0.95"/><circle cx="88.66" cy="383.04" r="0.95"/><circle cx="91.05" cy="382.75" r="0.95"/><circle cx="93.44" cy="382.46" r="0.95"/><circle cx="95.83" cy="382.10" r="0.95"/><circle cx="98.22" cy="380.84" r="0.95"/><circle cx="100.61" cy="378.75" r="0.95"/><circle cx="103.00" cy="376.65" r="0.95"/><circle cx="255.01" cy="370.78" r="0.95"/><circle cx="252.62" cy="371.61" r="0.95"/><circle cx="250.23" cy="372.57" r="0.95"/><circle cx="247.84" cy="373.79" r="0.95"/><circle cx="245.45" cy="375.26" r="0.95"/><circle cx="243.06" cy="376.80" r="0.95"/><circle cx="240.67" cy="378.23" r="0.95"/><circle cx="238.28" cy="379.43" r="0.95"/><circle cx="235.89" cy="380.47" r="0.95"/><circle cx="233.50" cy="381.41" r="0.95"/><circle cx="231.11" cy="382.25" r="0.95"/><circle cx="228.72" cy="382.93" r="0.95"/><circle cx="226.33" cy="383.12" r="0.95"/><circle cx="223.94" cy="383.04" r="0.95"/><circle cx="221.55" cy="382.75" r="0.95"/><circle cx="219.16" cy="382.46" r="0.95"/><circle cx="216.77" cy="382.10" r="0.95"/><circle cx="214.38" cy="380.84" r="0.95"/><circle cx="211.99" cy="378.75" r="0.95"/><circle cx="209.60" cy="376.65" r="0.95"/><circle cx="57.59" cy="448.65" r="0.95"/><circle cx="59.98" cy="447.51" r="0.95"/><circle cx="62.37" cy="446.32" r="0.95"/><circle cx="64.76" cy="445.02" r="0.95"/><circle cx="67.15" cy="443.55" r="0.95"/><circle cx="69.54" cy="442.02" r="0.95"/><circle cx="71.93" cy="440.55" r="0.95"/><circle cx="74.32" cy="439.24" r="0.95"/><circle cx="76.71" cy="438.09" r="0.95"/><circle cx="79.10" cy="437.04" r="0.95"/><circle cx="81.49" cy="436.14" r="0.95"/><circle cx="83.88" cy="435.41" r="0.95"/><circle cx="86.27" cy="434.90" r="0.95"/><circle cx="88.66" cy="434.61" r="0.95"/><circle cx="91.05" cy="434.45" r="0.95"/><circle cx="93.44" cy="434.34" r="0.95"/><circle cx="95.83" cy="434.27" r="0.95"/><circle cx="98.22" cy="434.33" r="0.95"/><circle cx="100.61" cy="434.42" r="0.95"/><circle cx="103.00" cy="434.38" r="0.95"/><circle cx="255.01" cy="448.65" r="0.95"/><circle cx="252.62" cy="447.51" r="0.95"/><circle cx="250.23" cy="446.32" r="0.95"/><circle cx="247.84" cy="445.02" r="0.95"/><circle cx="245.45" cy="443.55" r="0.95"/><circle cx="243.06" cy="442.02" r="0.95"/><circle cx="240.67" cy="440.55" r="0.95"/><circle cx="238.28" cy="439.24" r="0.95"/><circle cx="235.89" cy="438.09" r="0.95"/><circle cx="233.50" cy="437.04" r="0.95"/><circle cx="231.11" cy="436.14" r="0.95"/><circle cx="228.72" cy="435.41" r="0.95"/><circle cx="226.33" cy="434.90" r="0.95"/><circle cx="223.94" cy="434.61" r="0.95"/><circle cx="221.55" cy="434.45" r="0.95"/><circle cx="219.16" cy="434.34" r="0.95"/><circle cx="216.77" cy="434.27" r="0.95"/><circle cx="214.38" cy="434.33" r="0.95"/><circle cx="211.99" cy="434.42" r="0.95"/><circle cx="209.60" cy="434.38" r="0.95"/><circle cx="57.59" cy="451.30" r="0.95"/><circle cx="59.98" cy="451.76" r="0.95"/><circle cx="62.37" cy="452.20" r="0.95"/><circle cx="64.76" cy="452.61" r="0.95"/><circle cx="67.15" cy="453.03" r="0.95"/><circle cx="69.54" cy="453.43" r="0.95"/><circle cx="71.93" cy="453.77" r="0.95"/><circle cx="74.32" cy="454.01" r="0.95"/><circle cx="76.71" cy="454.15" r="0.95"/><circle cx="79.10" cy="454.22" r="0.95"/><circle cx="81.49" cy="454.19" r="0.95"/><circle cx="83.88" cy="454.04" r="0.95"/><circle cx="86.27" cy="453.73" r="0.95"/><circle cx="88.66" cy="453.27" r="0.95"/><circle cx="91.05" cy="452.72" r="0.95"/><circle cx="93.44" cy="452.19" r="0.95"/><circle cx="95.83" cy="451.71" r="0.95"/><circle cx="98.22" cy="451.19" r="0.95"/><circle cx="100.61" cy="450.71" r="0.95"/><circle cx="103.00" cy="450.38" r="0.95"/><circle cx="255.01" cy="451.30" r="0.95"/><circle cx="252.62" cy="451.76" r="0.95"/><circle cx="250.23" cy="452.20" r="0.95"/><circle cx="247.84" cy="452.61" r="0.95"/><circle cx="245.45" cy="453.03" r="0.95"/><circle cx="243.06" cy="453.43" r="0.95"/><circle cx="240.67" cy="453.77" r="0.95"/><circle cx="238.28" cy="454.01" r="0.95"/><circle cx="235.89" cy="454.15" r="0.95"/><circle cx="233.50" cy="454.22" r="0.95"/><circle cx="231.11" cy="454.19" r="0.95"/><circle cx="228.72" cy="454.04" r="0.95"/><circle cx="226.33" cy="453.73" r="0.95"/><circle cx="223.94" cy="453.27" r="0.95"/><circle cx="221.55" cy="452.72" r="0.95"/><circle cx="219.16" cy="452.19" r="0.95"/><circle cx="216.77" cy="451.71" r="0.95"/><circle cx="214.38" cy="451.19" r="0.95"/><circle cx="211.99" cy="450.71" r="0.95"/><circle cx="209.60" cy="450.38" r="0.95"/><circle cx="57.59" cy="461.98" r="0.95"/><circle cx="59.98" cy="462.55" r="0.95"/><circle cx="62.37" cy="463.32" r="0.95"/><circle cx="64.76" cy="464.47" r="0.95"/><circle cx="67.15" cy="466.04" r="0.95"/><circle cx="69.54" cy="467.79" r="0.95"/><circle cx="71.93" cy="469.59" r="0.95"/><circle cx="74.32" cy="471.28" r="0.95"/><circle cx="76.71" cy="473.04" r="0.95"/><circle cx="79.10" cy="474.69" r="0.95"/><circle cx="81.49" cy="475.41" r="0.95"/><circle cx="83.88" cy="474.96" r="0.95"/><circle cx="86.27" cy="473.88" r="0.95"/><circle cx="88.66" cy="472.90" r="0.95"/><circle cx="91.05" cy="472.36" r="0.95"/><circle cx="93.44" cy="471.97" r="0.95"/><circle cx="95.83" cy="471.64" r="0.95"/><circle cx="98.22" cy="471.35" r="0.95"/><circle cx="100.61" cy="471.13" r="0.95"/><circle cx="103.00" cy="471.19" r="0.95"/><circle cx="255.01" cy="461.98" r="0.95"/><circle cx="252.62" cy="462.55" r="0.95"/><circle cx="250.23" cy="463.32" r="0.95"/><circle cx="247.84" cy="464.47" r="0.95"/><circle cx="245.45" cy="466.04" r="0.95"/><circle cx="243.06" cy="467.79" r="0.95"/><circle cx="240.67" cy="469.59" r="0.95"/><circle cx="238.28" cy="471.28" r="0.95"/><circle cx="235.89" cy="473.04" r="0.95"/><circle cx="233.50" cy="474.69" r="0.95"/><circle cx="231.11" cy="475.41" r="0.95"/><circle cx="228.72" cy="474.96" r="0.95"/><circle cx="226.33" cy="473.88" r="0.95"/><circle cx="223.94" cy="472.90" r="0.95"/><circle cx="221.55" cy="472.36" r="0.95"/><circle cx="219.16" cy="471.97" r="0.95"/><circle cx="216.77" cy="471.64" r="0.95"/><circle cx="214.38" cy="471.35" r="0.95"/><circle cx="211.99" cy="471.13" r="0.95"/><circle cx="209.60" cy="471.19" r="0.95"/><circle cx="57.59" cy="478.41" r="0.95"/><circle cx="59.98" cy="478.73" r="0.95"/><circle cx="62.37" cy="479.02" r="0.95"/><circle cx="64.76" cy="479.27" r="0.95"/><circle cx="67.15" cy="479.63" r="0.95"/><circle cx="69.54" cy="479.90" r="0.95"/><circle cx="71.93" cy="479.75" r="0.95"/><circle cx="74.32" cy="478.87" r="0.95"/><circle cx="76.71" cy="477.48" r="0.95"/><circle cx="79.10" cy="476.18" r="0.95"/><circle cx="81.49" cy="475.60" r="0.95"/><circle cx="83.88" cy="476.12" r="0.95"/><circle cx="86.27" cy="477.34" r="0.95"/><circle cx="88.66" cy="478.80" r="0.95"/><circle cx="91.05" cy="480.10" r="0.95"/><circle cx="93.44" cy="481.53" r="0.95"/><circle cx="95.83" cy="482.98" r="0.95"/><circle cx="98.22" cy="484.29" r="0.95"/><circle cx="100.61" cy="485.34" r="0.95"/><circle cx="103.00" cy="486.22" r="0.95"/><circle cx="255.01" cy="478.41" r="0.95"/><circle cx="252.62" cy="478.73" r="0.95"/><circle cx="250.23" cy="479.02" r="0.95"/><circle cx="247.84" cy="479.27" r="0.95"/><circle cx="245.45" cy="479.63" r="0.95"/><circle cx="243.06" cy="479.90" r="0.95"/><circle cx="240.67" cy="479.75" r="0.95"/><circle cx="238.28" cy="478.87" r="0.95"/><circle cx="235.89" cy="477.48" r="0.95"/><circle cx="233.50" cy="476.18" r="0.95"/><circle cx="231.11" cy="475.60" r="0.95"/><circle cx="228.72" cy="476.12" r="0.95"/><circle cx="226.33" cy="477.34" r="0.95"/><circle cx="223.94" cy="478.80" r="0.95"/><circle cx="221.55" cy="480.10" r="0.95"/><circle cx="219.16" cy="481.53" r="0.95"/><circle cx="216.77" cy="482.98" r="0.95"/><circle cx="214.38" cy="484.29" r="0.95"/><circle cx="211.99" cy="485.34" r="0.95"/><circle cx="209.60" cy="486.22" r="0.95"/><circle cx="57.59" cy="488.64" r="0.95"/><circle cx="59.98" cy="488.59" r="0.95"/><circle cx="62.37" cy="488.44" r="0.95"/><circle cx="64.76" cy="487.91" r="0.95"/><circle cx="67.15" cy="487.05" r="0.95"/><circle cx="69.54" cy="486.46" r="0.95"/><circle cx="71.93" cy="486.20" r="0.95"/><circle cx="74.32" cy="486.19" r="0.95"/><circle cx="76.71" cy="486.39" r="0.95"/><circle cx="79.10" cy="486.76" r="0.95"/><circle cx="81.49" cy="487.14" r="0.95"/><circle cx="83.88" cy="487.43" r="0.95"/><circle cx="86.27" cy="487.43" r="0.95"/><circle cx="88.66" cy="487.18" r="0.95"/><circle cx="91.05" cy="487.03" r="0.95"/><circle cx="93.44" cy="487.01" r="0.95"/><circle cx="95.83" cy="487.03" r="0.95"/><circle cx="98.22" cy="487.04" r="0.95"/><circle cx="100.61" cy="487.06" r="0.95"/><circle cx="103.00" cy="487.12" r="0.95"/><circle cx="255.01" cy="488.64" r="0.95"/><circle cx="252.62" cy="488.59" r="0.95"/><circle cx="250.23" cy="488.44" r="0.95"/><circle cx="247.84" cy="487.91" r="0.95"/><circle cx="245.45" cy="487.05" r="0.95"/><circle cx="243.06" cy="486.46" r="0.95"/><circle cx="240.67" cy="486.20" r="0.95"/><circle cx="238.28" cy="486.19" r="0.95"/><circle cx="235.89" cy="486.39" r="0.95"/><circle cx="233.50" cy="486.76" r="0.95"/><circle cx="231.11" cy="487.14" r="0.95"/><circle cx="228.72" cy="487.43" r="0.95"/><circle cx="226.33" cy="487.43" r="0.95"/><circle cx="223.94" cy="487.18" r="0.95"/><circle cx="221.55" cy="487.03" r="0.95"/><circle cx="219.16" cy="487.01" r="0.95"/><circle cx="216.77" cy="487.03" r="0.95"/><circle cx="214.38" cy="487.04" r="0.95"/><circle cx="211.99" cy="487.06" r="0.95"/><circle cx="209.60" cy="487.12" r="0.95"/><circle cx="57.59" cy="489.31" r="0.95"/><circle cx="59.98" cy="489.38" r="0.95"/><circle cx="62.37" cy="489.52" r="0.95"/><circle cx="64.76" cy="489.75" r="0.95"/><circle cx="67.15" cy="490.05" r="0.95"/><circle cx="69.54" cy="490.39" r="0.95"/><circle cx="71.93" cy="490.74" r="0.95"/><circle cx="74.32" cy="491.13" r="0.95"/><circle cx="76.71" cy="491.54" r="0.95"/><circle cx="79.10" cy="491.97" r="0.95"/><circle cx="81.49" cy="492.38" r="0.95"/><circle cx="83.88" cy="492.77" r="0.95"/><circle cx="86.27" cy="493.15" r="0.95"/><circle cx="88.66" cy="493.51" r="0.95"/><circle cx="91.05" cy="493.87" r="0.95"/><circle cx="93.44" cy="494.24" r="0.95"/><circle cx="95.83" cy="494.61" r="0.95"/><circle cx="98.22" cy="494.93" r="0.95"/><circle cx="100.61" cy="495.16" r="0.95"/><circle cx="103.00" cy="495.31" r="0.95"/><circle cx="255.01" cy="489.31" r="0.95"/><circle cx="252.62" cy="489.38" r="0.95"/><circle cx="250.23" cy="489.52" r="0.95"/><circle cx="247.84" cy="489.75" r="0.95"/><circle cx="245.45" cy="490.05" r="0.95"/><circle cx="243.06" cy="490.39" r="0.95"/><circle cx="240.67" cy="490.74" r="0.95"/><circle cx="238.28" cy="491.13" r="0.95"/><circle cx="235.89" cy="491.54" r="0.95"/><circle cx="233.50" cy="491.97" r="0.95"/><circle cx="231.11" cy="492.38" r="0.95"/><circle cx="228.72" cy="492.77" r="0.95"/><circle cx="226.33" cy="493.15" r="0.95"/><circle cx="223.94" cy="493.51" r="0.95"/><circle cx="221.55" cy="493.87" r="0.95"/><circle cx="219.16" cy="494.24" r="0.95"/><circle cx="216.77" cy="494.61" r="0.95"/><circle cx="214.38" cy="494.93" r="0.95"/><circle cx="211.99" cy="495.16" r="0.95"/><circle cx="209.60" cy="495.31" r="0.95"/><circle cx="57.59" cy="491.91" r="0.95"/><circle cx="59.98" cy="492.07" r="0.95"/><circle cx="62.37" cy="492.31" r="0.95"/><circle cx="64.76" cy="492.73" r="0.95"/><circle cx="67.15" cy="493.33" r="0.95"/><circle cx="69.54" cy="494.08" r="0.95"/><circle cx="71.93" cy="495.11" r="0.95"/><circle cx="74.32" cy="496.08" r="0.95"/><circle cx="76.71" cy="496.60" r="0.95"/><circle cx="79.10" cy="496.79" r="0.95"/><circle cx="81.49" cy="497.02" r="0.95"/><circle cx="83.88" cy="497.48" r="0.95"/><circle cx="86.27" cy="498.02" r="0.95"/><circle cx="88.66" cy="498.65" r="0.95"/><circle cx="91.05" cy="499.40" r="0.95"/><circle cx="93.44" cy="500.37" r="0.95"/><circle cx="95.83" cy="501.46" r="0.95"/><circle cx="98.22" cy="502.43" r="0.95"/><circle cx="100.61" cy="503.12" r="0.95"/><circle cx="103.00" cy="503.66" r="0.95"/><circle cx="255.01" cy="491.91" r="0.95"/><circle cx="252.62" cy="492.07" r="0.95"/><circle cx="250.23" cy="492.31" r="0.95"/><circle cx="247.84" cy="492.73" r="0.95"/><circle cx="245.45" cy="493.33" r="0.95"/><circle cx="243.06" cy="494.08" r="0.95"/><circle cx="240.67" cy="495.11" r="0.95"/><circle cx="238.28" cy="496.08" r="0.95"/><circle cx="235.89" cy="496.60" r="0.95"/><circle cx="233.50" cy="496.79" r="0.95"/><circle cx="231.11" cy="497.02" r="0.95"/><circle cx="228.72" cy="497.48" r="0.95"/><circle cx="226.33" cy="498.02" r="0.95"/><circle cx="223.94" cy="498.65" r="0.95"/><circle cx="221.55" cy="499.40" r="0.95"/><circle cx="219.16" cy="500.37" r="0.95"/><circle cx="216.77" cy="501.46" r="0.95"/><circle cx="214.38" cy="502.43" r="0.95"/><circle cx="211.99" cy="503.12" r="0.95"/><circle cx="209.60" cy="503.66" r="0.95"/><circle cx="57.59" cy="504.21" r="0.95"/><circle cx="59.98" cy="503.45" r="0.95"/><circle cx="62.37" cy="502.62" r="0.95"/><circle cx="64.76" cy="501.56" r="0.95"/><circle cx="67.15" cy="500.29" r="0.95"/><circle cx="69.54" cy="499.13" r="0.95"/><circle cx="71.93" cy="498.14" r="0.95"/><circle cx="74.32" cy="497.25" r="0.95"/><circle cx="76.71" cy="496.40" r="0.95"/><circle cx="79.10" cy="495.58" r="0.95"/><circle cx="81.49" cy="494.79" r="0.95"/><circle cx="83.88" cy="494.00" r="0.95"/><circle cx="86.27" cy="493.24" r="0.95"/><circle cx="88.66" cy="492.51" r="0.95"/><circle cx="91.05" cy="491.74" r="0.95"/><circle cx="93.44" cy="490.84" r="0.95"/><circle cx="95.83" cy="489.73" r="0.95"/><circle cx="98.22" cy="488.65" r="0.95"/><circle cx="100.61" cy="487.91" r="0.95"/><circle cx="103.00" cy="487.50" r="0.95"/><circle cx="255.01" cy="504.21" r="0.95"/><circle cx="252.62" cy="503.45" r="0.95"/><circle cx="250.23" cy="502.62" r="0.95"/><circle cx="247.84" cy="501.56" r="0.95"/><circle cx="245.45" cy="500.29" r="0.95"/><circle cx="243.06" cy="499.13" r="0.95"/><circle cx="240.67" cy="498.14" r="0.95"/><circle cx="238.28" cy="497.25" r="0.95"/><circle cx="235.89" cy="496.40" r="0.95"/><circle cx="233.50" cy="495.58" r="0.95"/><circle cx="231.11" cy="494.79" r="0.95"/><circle cx="228.72" cy="494.00" r="0.95"/><circle cx="226.33" cy="493.24" r="0.95"/><circle cx="223.94" cy="492.51" r="0.95"/><circle cx="221.55" cy="491.74" r="0.95"/><circle cx="219.16" cy="490.84" r="0.95"/><circle cx="216.77" cy="489.73" r="0.95"/><circle cx="214.38" cy="488.65" r="0.95"/><circle cx="211.99" cy="487.91" r="0.95"/><circle cx="209.60" cy="487.50" r="0.95"/><circle cx="57.59" cy="507.62" r="0.95"/><circle cx="59.98" cy="506.60" r="0.95"/><circle cx="62.37" cy="505.63" r="0.95"/><circle cx="64.76" cy="504.81" r="0.95"/><circle cx="67.15" cy="504.12" r="0.95"/><circle cx="69.54" cy="503.44" r="0.95"/><circle cx="71.93" cy="502.68" r="0.95"/><circle cx="74.32" cy="501.99" r="0.95"/><circle cx="76.71" cy="501.42" r="0.95"/><circle cx="79.10" cy="500.91" r="0.95"/><circle cx="81.49" cy="500.44" r="0.95"/><circle cx="83.88" cy="500.01" r="0.95"/><circle cx="86.27" cy="499.67" r="0.95"/><circle cx="88.66" cy="499.43" r="0.95"/><circle cx="255.01" cy="507.62" r="0.95"/><circle cx="252.62" cy="506.60" r="0.95"/><circle cx="250.23" cy="505.63" r="0.95"/><circle cx="247.84" cy="504.81" r="0.95"/><circle cx="245.45" cy="504.12" r="0.95"/><circle cx="243.06" cy="503.44" r="0.95"/><circle cx="240.67" cy="502.68" r="0.95"/><circle cx="238.28" cy="501.99" r="0.95"/><circle cx="235.89" cy="501.42" r="0.95"/><circle cx="233.50" cy="500.91" r="0.95"/><circle cx="231.11" cy="500.44" r="0.95"/><circle cx="228.72" cy="500.01" r="0.95"/><circle cx="226.33" cy="499.67" r="0.95"/><circle cx="223.94" cy="499.43" r="0.95"/><circle cx="57.59" cy="510.40" r="0.95"/><circle cx="59.98" cy="509.02" r="0.95"/><circle cx="62.37" cy="507.62" r="0.95"/><circle cx="64.76" cy="506.19" r="0.95"/><circle cx="67.15" cy="504.64" r="0.95"/><circle cx="69.54" cy="502.96" r="0.95"/><circle cx="71.93" cy="501.32" r="0.95"/><circle cx="74.32" cy="499.79" r="0.95"/><circle cx="76.71" cy="498.35" r="0.95"/><circle cx="79.10" cy="497.08" r="0.95"/><circle cx="81.49" cy="495.86" r="0.95"/><circle cx="83.88" cy="495.15" r="0.95"/><circle cx="86.27" cy="495.35" r="0.95"/><circle cx="88.66" cy="496.10" r="0.95"/><circle cx="91.05" cy="496.70" r="0.95"/><circle cx="93.44" cy="497.01" r="0.95"/><circle cx="95.83" cy="497.14" r="0.95"/><circle cx="98.22" cy="496.86" r="0.95"/><circle cx="100.61" cy="496.36" r="0.95"/><circle cx="103.00" cy="496.13" r="0.95"/><circle cx="255.01" cy="510.40" r="0.95"/><circle cx="252.62" cy="509.02" r="0.95"/><circle cx="250.23" cy="507.62" r="0.95"/><circle cx="247.84" cy="506.19" r="0.95"/><circle cx="245.45" cy="504.64" r="0.95"/><circle cx="243.06" cy="502.96" r="0.95"/><circle cx="240.67" cy="501.32" r="0.95"/><circle cx="238.28" cy="499.79" r="0.95"/><circle cx="235.89" cy="498.35" r="0.95"/><circle cx="233.50" cy="497.08" r="0.95"/><circle cx="231.11" cy="495.86" r="0.95"/><circle cx="228.72" cy="495.15" r="0.95"/><circle cx="226.33" cy="495.35" r="0.95"/><circle cx="223.94" cy="496.10" r="0.95"/><circle cx="221.55" cy="496.70" r="0.95"/><circle cx="219.16" cy="497.01" r="0.95"/><circle cx="216.77" cy="497.14" r="0.95"/><circle cx="214.38" cy="496.86" r="0.95"/><circle cx="211.99" cy="496.36" r="0.95"/><circle cx="209.60" cy="496.13" r="0.95"/><circle cx="57.59" cy="518.08" r="0.95"/><circle cx="59.98" cy="517.78" r="0.95"/><circle cx="62.37" cy="517.46" r="0.95"/><circle cx="64.76" cy="517.08" r="0.95"/><circle cx="67.15" cy="516.69" r="0.95"/><circle cx="69.54" cy="516.30" r="0.95"/><circle cx="71.93" cy="515.94" r="0.95"/><circle cx="74.32" cy="515.61" r="0.95"/><circle cx="76.71" cy="515.25" r="0.95"/><circle cx="79.10" cy="514.83" r="0.95"/><circle cx="81.49" cy="514.36" r="0.95"/><circle cx="83.88" cy="513.84" r="0.95"/><circle cx="86.27" cy="513.26" r="0.95"/><circle cx="88.66" cy="512.54" r="0.95"/><circle cx="91.05" cy="511.72" r="0.95"/><circle cx="93.44" cy="510.81" r="0.95"/><circle cx="95.83" cy="509.84" r="0.95"/><circle cx="98.22" cy="509.43" r="0.95"/><circle cx="100.61" cy="509.16" r="0.95"/><circle cx="103.00" cy="509.04" r="0.95"/><circle cx="255.01" cy="518.08" r="0.95"/><circle cx="252.62" cy="517.78" r="0.95"/><circle cx="250.23" cy="517.46" r="0.95"/><circle cx="247.84" cy="517.08" r="0.95"/><circle cx="245.45" cy="516.69" r="0.95"/><circle cx="243.06" cy="516.30" r="0.95"/><circle cx="240.67" cy="515.94" r="0.95"/><circle cx="238.28" cy="515.61" r="0.95"/><circle cx="235.89" cy="515.25" r="0.95"/><circle cx="233.50" cy="514.83" r="0.95"/><circle cx="231.11" cy="514.36" r="0.95"/><circle cx="228.72" cy="513.84" r="0.95"/><circle cx="226.33" cy="513.26" r="0.95"/><circle cx="223.94" cy="512.54" r="0.95"/><circle cx="221.55" cy="511.72" r="0.95"/><circle cx="219.16" cy="510.81" r="0.95"/><circle cx="216.77" cy="509.84" r="0.95"/><circle cx="214.38" cy="509.43" r="0.95"/><circle cx="211.99" cy="509.16" r="0.95"/><circle cx="209.60" cy="509.04" r="0.95"/><circle cx="57.59" cy="518.87" r="0.95"/><circle cx="59.98" cy="518.71" r="0.95"/><circle cx="62.37" cy="518.62" r="0.95"/><circle cx="64.76" cy="518.60" r="0.95"/><circle cx="67.15" cy="518.61" r="0.95"/><circle cx="69.54" cy="518.62" r="0.95"/><circle cx="71.93" cy="518.63" r="0.95"/><circle cx="74.32" cy="518.63" r="0.95"/><circle cx="76.71" cy="518.63" r="0.95"/><circle cx="79.10" cy="518.63" r="0.95"/><circle cx="81.49" cy="518.64" r="0.95"/><circle cx="83.88" cy="518.66" r="0.95"/><circle cx="86.27" cy="518.63" r="0.95"/><circle cx="88.66" cy="518.46" r="0.95"/><circle cx="91.05" cy="518.10" r="0.95"/><circle cx="93.44" cy="517.64" r="0.95"/><circle cx="95.83" cy="516.89" r="0.95"/><circle cx="98.22" cy="515.84" r="0.95"/><circle cx="100.61" cy="514.35" r="0.95"/><circle cx="103.00" cy="513.05" r="0.95"/><circle cx="255.01" cy="518.87" r="0.95"/><circle cx="252.62" cy="518.71" r="0.95"/><circle cx="250.23" cy="518.62" r="0.95"/><circle cx="247.84" cy="518.60" r="0.95"/><circle cx="245.45" cy="518.61" r="0.95"/><circle cx="243.06" cy="518.62" r="0.95"/><circle cx="240.67" cy="518.63" r="0.95"/><circle cx="238.28" cy="518.63" r="0.95"/><circle cx="235.89" cy="518.63" r="0.95"/><circle cx="233.50" cy="518.63" r="0.95"/><circle cx="231.11" cy="518.64" r="0.95"/><circle cx="228.72" cy="518.66" r="0.95"/><circle cx="226.33" cy="518.63" r="0.95"/><circle cx="223.94" cy="518.46" r="0.95"/><circle cx="221.55" cy="518.10" r="0.95"/><circle cx="219.16" cy="517.64" r="0.95"/><circle cx="216.77" cy="516.89" r="0.95"/><circle cx="214.38" cy="515.84" r="0.95"/><circle cx="211.99" cy="514.35" r="0.95"/><circle cx="209.60" cy="513.05" r="0.95"/><circle cx="57.59" cy="520.78" r="0.95"/><circle cx="59.98" cy="520.93" r="0.95"/><circle cx="62.37" cy="521.07" r="0.95"/><circle cx="64.76" cy="521.19" r="0.95"/><circle cx="67.15" cy="521.31" r="0.95"/><circle cx="69.54" cy="521.42" r="0.95"/><circle cx="71.93" cy="521.54" r="0.95"/><circle cx="74.32" cy="521.66" r="0.95"/><circle cx="76.71" cy="521.78" r="0.95"/><circle cx="79.10" cy="521.90" r="0.95"/><circle cx="81.49" cy="522.04" r="0.95"/><circle cx="83.88" cy="522.17" r="0.95"/><circle cx="86.27" cy="522.26" r="0.95"/><circle cx="88.66" cy="522.26" r="0.95"/><circle cx="91.05" cy="522.17" r="0.95"/><circle cx="93.44" cy="521.86" r="0.95"/><circle cx="95.83" cy="521.23" r="0.95"/><circle cx="98.22" cy="520.82" r="0.95"/><circle cx="100.61" cy="520.53" r="0.95"/><circle cx="103.00" cy="520.13" r="0.95"/><circle cx="255.01" cy="520.78" r="0.95"/><circle cx="252.62" cy="520.93" r="0.95"/><circle cx="250.23" cy="521.07" r="0.95"/><circle cx="247.84" cy="521.19" r="0.95"/><circle cx="245.45" cy="521.31" r="0.95"/><circle cx="243.06" cy="521.42" r="0.95"/><circle cx="240.67" cy="521.54" r="0.95"/><circle cx="238.28" cy="521.66" r="0.95"/><circle cx="235.89" cy="521.78" r="0.95"/><circle cx="233.50" cy="521.90" r="0.95"/><circle cx="231.11" cy="522.04" r="0.95"/><circle cx="228.72" cy="522.17" r="0.95"/><circle cx="226.33" cy="522.26" r="0.95"/><circle cx="223.94" cy="522.26" r="0.95"/><circle cx="221.55" cy="522.17" r="0.95"/><circle cx="219.16" cy="521.86" r="0.95"/><circle cx="216.77" cy="521.23" r="0.95"/><circle cx="214.38" cy="520.82" r="0.95"/><circle cx="211.99" cy="520.53" r="0.95"/><circle cx="209.60" cy="520.13" r="0.95"/><circle cx="57.59" cy="522.48" r="0.95"/><circle cx="59.98" cy="524.45" r="0.95"/><circle cx="62.37" cy="526.71" r="0.95"/><circle cx="64.76" cy="529.28" r="0.95"/><circle cx="67.15" cy="531.96" r="0.95"/><circle cx="69.54" cy="534.63" r="0.95"/><circle cx="71.93" cy="537.09" r="0.95"/><circle cx="74.32" cy="539.42" r="0.95"/><circle cx="76.71" cy="542.03" r="0.95"/><circle cx="79.10" cy="544.79" r="0.95"/><circle cx="81.49" cy="547.56" r="0.95"/><circle cx="83.88" cy="550.34" r="0.95"/><circle cx="86.27" cy="553.11" r="0.95"/><circle cx="88.66" cy="555.84" r="0.95"/><circle cx="91.05" cy="558.57" r="0.95"/><circle cx="93.44" cy="561.42" r="0.95"/><circle cx="255.01" cy="522.48" r="0.95"/><circle cx="252.62" cy="524.45" r="0.95"/><circle cx="250.23" cy="526.71" r="0.95"/><circle cx="247.84" cy="529.28" r="0.95"/><circle cx="245.45" cy="531.96" r="0.95"/><circle cx="243.06" cy="534.63" r="0.95"/><circle cx="240.67" cy="537.09" r="0.95"/><circle cx="238.28" cy="539.42" r="0.95"/><circle cx="235.89" cy="542.03" r="0.95"/><circle cx="233.50" cy="544.79" r="0.95"/><circle cx="231.11" cy="547.56" r="0.95"/><circle cx="228.72" cy="550.34" r="0.95"/><circle cx="226.33" cy="553.11" r="0.95"/><circle cx="223.94" cy="555.84" r="0.95"/><circle cx="221.55" cy="558.57" r="0.95"/><circle cx="219.16" cy="561.42" r="0.95"/><circle cx="57.59" cy="512.18" r="0.95"/><circle cx="59.98" cy="514.23" r="0.95"/><circle cx="62.37" cy="516.28" r="0.95"/><circle cx="64.76" cy="518.75" r="0.95"/><circle cx="67.15" cy="521.22" r="0.95"/><circle cx="69.54" cy="523.80" r="0.95"/><circle cx="71.93" cy="526.21" r="0.95"/><circle cx="74.32" cy="528.27" r="0.95"/><circle cx="76.71" cy="530.31" r="0.95"/><circle cx="79.10" cy="531.77" r="0.95"/><circle cx="81.49" cy="531.83" r="0.95"/><circle cx="83.88" cy="530.03" r="0.95"/><circle cx="86.27" cy="527.41" r="0.95"/><circle cx="88.66" cy="525.28" r="0.95"/><circle cx="91.05" cy="523.51" r="0.95"/><circle cx="93.44" cy="521.17" r="0.95"/><circle cx="95.83" cy="518.21" r="0.95"/><circle cx="98.22" cy="515.56" r="0.95"/><circle cx="100.61" cy="513.84" r="0.95"/><circle cx="103.00" cy="513.10" r="0.95"/><circle cx="255.01" cy="512.18" r="0.95"/><circle cx="252.62" cy="514.23" r="0.95"/><circle cx="250.23" cy="516.28" r="0.95"/><circle cx="247.84" cy="518.75" r="0.95"/><circle cx="245.45" cy="521.22" r="0.95"/><circle cx="243.06" cy="523.80" r="0.95"/><circle cx="240.67" cy="526.21" r="0.95"/><circle cx="238.28" cy="528.27" r="0.95"/><circle cx="235.89" cy="530.31" r="0.95"/><circle cx="233.50" cy="531.77" r="0.95"/><circle cx="231.11" cy="531.83" r="0.95"/><circle cx="228.72" cy="530.03" r="0.95"/><circle cx="226.33" cy="527.41" r="0.95"/><circle cx="223.94" cy="525.28" r="0.95"/><circle cx="221.55" cy="523.51" r="0.95"/><circle cx="219.16" cy="521.17" r="0.95"/><circle cx="216.77" cy="518.21" r="0.95"/><circle cx="214.38" cy="515.56" r="0.95"/><circle cx="211.99" cy="513.84" r="0.95"/><circle cx="209.60" cy="513.10" r="0.95"/><circle cx="57.59" cy="552.35" r="0.95"/><circle cx="59.98" cy="550.53" r="0.95"/><circle cx="62.37" cy="548.68" r="0.95"/><circle cx="64.76" cy="546.81" r="0.95"/><circle cx="67.15" cy="544.92" r="0.95"/><circle cx="69.54" cy="543.02" r="0.95"/><circle cx="71.93" cy="541.05" r="0.95"/><circle cx="74.32" cy="539.03" r="0.95"/><circle cx="76.71" cy="537.22" r="0.95"/><circle cx="79.10" cy="535.52" r="0.95"/><circle cx="81.49" cy="533.91" r="0.95"/><circle cx="83.88" cy="532.43" r="0.95"/><circle cx="255.01" cy="552.35" r="0.95"/><circle cx="252.62" cy="550.53" r="0.95"/><circle cx="250.23" cy="548.68" r="0.95"/><circle cx="247.84" cy="546.81" r="0.95"/><circle cx="245.45" cy="544.92" r="0.95"/><circle cx="243.06" cy="543.02" r="0.95"/><circle cx="240.67" cy="541.05" r="0.95"/><circle cx="238.28" cy="539.03" r="0.95"/><circle cx="235.89" cy="537.22" r="0.95"/><circle cx="233.50" cy="535.52" r="0.95"/><circle cx="231.11" cy="533.91" r="0.95"/><circle cx="228.72" cy="532.43" r="0.95"/><circle cx="57.59" cy="542.04" r="0.95"/><circle cx="59.98" cy="541.45" r="0.95"/><circle cx="62.37" cy="540.81" r="0.95"/><circle cx="64.76" cy="540.15" r="0.95"/><circle cx="67.15" cy="539.46" r="0.95"/><circle cx="69.54" cy="538.71" r="0.95"/><circle cx="71.93" cy="537.82" r="0.95"/><circle cx="74.32" cy="536.80" r="0.95"/><circle cx="76.71" cy="535.81" r="0.95"/><circle cx="79.10" cy="535.00" r="0.95"/><circle cx="81.49" cy="534.36" r="0.95"/><circle cx="83.88" cy="533.80" r="0.95"/><circle cx="86.27" cy="533.26" r="0.95"/><circle cx="88.66" cy="532.66" r="0.95"/><circle cx="91.05" cy="532.38" r="0.95"/><circle cx="93.44" cy="532.25" r="0.95"/><circle cx="95.83" cy="532.15" r="0.95"/><circle cx="98.22" cy="532.05" r="0.95"/><circle cx="100.61" cy="531.94" r="0.95"/><circle cx="103.00" cy="531.84" r="0.95"/><circle cx="255.01" cy="542.04" r="0.95"/><circle cx="252.62" cy="541.45" r="0.95"/><circle cx="250.23" cy="540.81" r="0.95"/><circle cx="247.84" cy="540.15" r="0.95"/><circle cx="245.45" cy="539.46" r="0.95"/><circle cx="243.06" cy="538.71" r="0.95"/><circle cx="240.67" cy="537.82" r="0.95"/><circle cx="238.28" cy="536.80" r="0.95"/><circle cx="235.89" cy="535.81" r="0.95"/><circle cx="233.50" cy="535.00" r="0.95"/><circle cx="231.11" cy="534.36" r="0.95"/><circle cx="228.72" cy="533.80" r="0.95"/><circle cx="226.33" cy="533.26" r="0.95"/><circle cx="223.94" cy="532.66" r="0.95"/><circle cx="221.55" cy="532.38" r="0.95"/><circle cx="219.16" cy="532.25" r="0.95"/><circle cx="216.77" cy="532.15" r="0.95"/><circle cx="214.38" cy="532.05" r="0.95"/><circle cx="211.99" cy="531.94" r="0.95"/><circle cx="209.60" cy="531.84" r="0.95"/><circle cx="57.59" cy="548.23" r="0.95"/><circle cx="59.98" cy="548.25" r="0.95"/><circle cx="62.37" cy="548.17" r="0.95"/><circle cx="64.76" cy="547.99" r="0.95"/><circle cx="67.15" cy="547.76" r="0.95"/><circle cx="69.54" cy="547.47" r="0.95"/><circle cx="71.93" cy="547.11" r="0.95"/><circle cx="74.32" cy="546.70" r="0.95"/><circle cx="76.71" cy="546.18" r="0.95"/><circle cx="79.10" cy="545.49" r="0.95"/><circle cx="81.49" cy="544.65" r="0.95"/><circle cx="83.88" cy="543.69" r="0.95"/><circle cx="86.27" cy="542.55" r="0.95"/><circle cx="88.66" cy="540.31" r="0.95"/><circle cx="91.05" cy="539.09" r="0.95"/><circle cx="93.44" cy="538.77" r="0.95"/><circle cx="95.83" cy="538.64" r="0.95"/><circle cx="98.22" cy="538.51" r="0.95"/><circle cx="100.61" cy="538.34" r="0.95"/><circle cx="103.00" cy="538.19" r="0.95"/><circle cx="255.01" cy="548.23" r="0.95"/><circle cx="252.62" cy="548.25" r="0.95"/><circle cx="250.23" cy="548.17" r="0.95"/><circle cx="247.84" cy="547.99" r="0.95"/><circle cx="245.45" cy="547.76" r="0.95"/><circle cx="243.06" cy="547.47" r="0.95"/><circle cx="240.67" cy="547.11" r="0.95"/><circle cx="238.28" cy="546.70" r="0.95"/><circle cx="235.89" cy="546.18" r="0.95"/><circle cx="233.50" cy="545.49" r="0.95"/><circle cx="231.11" cy="544.65" r="0.95"/><circle cx="228.72" cy="543.69" r="0.95"/><circle cx="226.33" cy="542.55" r="0.95"/><circle cx="223.94" cy="540.31" r="0.95"/><circle cx="221.55" cy="539.09" r="0.95"/><circle cx="219.16" cy="538.77" r="0.95"/><circle cx="216.77" cy="538.64" r="0.95"/><circle cx="214.38" cy="538.51" r="0.95"/><circle cx="211.99" cy="538.34" r="0.95"/><circle cx="209.60" cy="538.19" r="0.95"/><circle cx="86.27" cy="523.56" r="0.95"/><circle cx="88.66" cy="523.15" r="0.95"/><circle cx="91.05" cy="523.03" r="0.95"/><circle cx="93.44" cy="522.86" r="0.95"/><circle cx="95.83" cy="522.69" r="0.95"/><circle cx="98.22" cy="522.58" r="0.95"/><circle cx="100.61" cy="522.58" r="0.95"/><circle cx="103.00" cy="522.81" r="0.95"/><circle cx="226.33" cy="523.56" r="0.95"/><circle cx="223.94" cy="523.15" r="0.95"/><circle cx="221.55" cy="523.03" r="0.95"/><circle cx="219.16" cy="522.86" r="0.95"/><circle cx="216.77" cy="522.69" r="0.95"/><circle cx="214.38" cy="522.58" r="0.95"/><circle cx="211.99" cy="522.58" r="0.95"/><circle cx="209.60" cy="522.81" r="0.95"/><circle cx="91.05" cy="541.39" r="0.95"/><circle cx="93.44" cy="542.80" r="0.95"/><circle cx="95.83" cy="544.61" r="0.95"/><circle cx="98.22" cy="546.52" r="0.95"/><circle cx="100.61" cy="547.67" r="0.95"/><circle cx="103.00" cy="548.35" r="0.95"/><circle cx="221.55" cy="541.39" r="0.95"/><circle cx="219.16" cy="542.80" r="0.95"/><circle cx="216.77" cy="544.61" r="0.95"/><circle cx="214.38" cy="546.52" r="0.95"/><circle cx="211.99" cy="547.67" r="0.95"/><circle cx="209.60" cy="548.35" r="0.95"/><circle cx="91.05" cy="554.67" r="0.95"/><circle cx="93.44" cy="554.43" r="0.95"/><circle cx="95.83" cy="554.19" r="0.95"/><circle cx="98.22" cy="553.95" r="0.95"/><circle cx="100.61" cy="553.71" r="0.95"/><circle cx="103.00" cy="553.48" r="0.95"/><circle cx="221.55" cy="554.67" r="0.95"/><circle cx="219.16" cy="554.43" r="0.95"/><circle cx="216.77" cy="554.19" r="0.95"/><circle cx="214.38" cy="553.95" r="0.95"/><circle cx="211.99" cy="553.71" r="0.95"/><circle cx="209.60" cy="553.48" r="0.95"/><circle cx="57.59" cy="556.85" r="0.95"/><circle cx="59.98" cy="557.34" r="0.95"/><circle cx="62.37" cy="557.59" r="0.95"/><circle cx="64.76" cy="557.55" r="0.95"/><circle cx="67.15" cy="557.38" r="0.95"/><circle cx="69.54" cy="557.20" r="0.95"/><circle cx="71.93" cy="557.06" r="0.95"/><circle cx="74.32" cy="556.91" r="0.95"/><circle cx="76.71" cy="556.79" r="0.95"/><circle cx="79.10" cy="556.78" r="0.95"/><circle cx="81.49" cy="556.89" r="0.95"/><circle cx="83.88" cy="557.05" r="0.95"/><circle cx="86.27" cy="557.17" r="0.95"/><circle cx="88.66" cy="557.21" r="0.95"/><circle cx="91.05" cy="557.21" r="0.95"/><circle cx="93.44" cy="557.19" r="0.95"/><circle cx="95.83" cy="557.12" r="0.95"/><circle cx="98.22" cy="556.98" r="0.95"/><circle cx="100.61" cy="556.85" r="0.95"/><circle cx="103.00" cy="556.75" r="0.95"/><circle cx="255.01" cy="556.85" r="0.95"/><circle cx="252.62" cy="557.34" r="0.95"/><circle cx="250.23" cy="557.59" r="0.95"/><circle cx="247.84" cy="557.55" r="0.95"/><circle cx="245.45" cy="557.38" r="0.95"/><circle cx="243.06" cy="557.20" r="0.95"/><circle cx="240.67" cy="557.06" r="0.95"/><circle cx="238.28" cy="556.91" r="0.95"/><circle cx="235.89" cy="556.79" r="0.95"/><circle cx="233.50" cy="556.78" r="0.95"/><circle cx="231.11" cy="556.89" r="0.95"/><circle cx="228.72" cy="557.05" r="0.95"/><circle cx="226.33" cy="557.17" r="0.95"/><circle cx="223.94" cy="557.21" r="0.95"/><circle cx="221.55" cy="557.21" r="0.95"/><circle cx="219.16" cy="557.19" r="0.95"/><circle cx="216.77" cy="557.12" r="0.95"/><circle cx="214.38" cy="556.98" r="0.95"/><circle cx="211.99" cy="556.85" r="0.95"/><circle cx="209.60" cy="556.75" r="0.95"/><circle cx="83.88" cy="561.10" r="0.95"/><circle cx="86.27" cy="560.11" r="0.95"/><circle cx="88.66" cy="559.42" r="0.95"/><circle cx="91.05" cy="559.05" r="0.95"/><circle cx="93.44" cy="558.84" r="0.95"/><circle cx="95.83" cy="558.73" r="0.95"/><circle cx="98.22" cy="558.76" r="0.95"/><circle cx="100.61" cy="558.78" r="0.95"/><circle cx="103.00" cy="558.80" r="0.95"/><circle cx="228.72" cy="561.10" r="0.95"/><circle cx="226.33" cy="560.11" r="0.95"/><circle cx="223.94" cy="559.42" r="0.95"/><circle cx="221.55" cy="559.05" r="0.95"/><circle cx="219.16" cy="558.84" r="0.95"/><circle cx="216.77" cy="558.73" r="0.95"/><circle cx="214.38" cy="558.76" r="0.95"/><circle cx="211.99" cy="558.78" r="0.95"/><circle cx="209.60" cy="558.80" r="0.95"/><circle cx="57.59" cy="560.11" r="0.95"/><circle cx="255.01" cy="560.11" r="0.95"/>
</g>
<path d="M140.00,323.60C141.00,323.27 144.17,322.08 146.00,321.60C147.83,321.12 149.28,320.90 151.00,320.70C152.72,320.50 154.53,320.40 156.30,320.40C158.07,320.40 159.88,320.50 161.60,320.70C163.32,320.90 164.77,321.12 166.60,321.60C168.43,322.08 171.60,323.27 172.60,323.60" fill="none" stroke="#dadaff" stroke-width="1.0"/>
<rect x="55.20" y="307.50" width="202.20" height="246.80" fill="none" stroke="#262626" stroke-width="1"/>
<line x1="50.60" y1="554.30" x2="55.20" y2="554.30" stroke="#262626" stroke-width="1"/>
<line x1="52.60" y1="538.88" x2="55.20" y2="538.88" stroke="#262626" stroke-width="1"/>
<line x1="50.60" y1="523.45" x2="55.20" y2="523.45" stroke="#262626" stroke-width="1"/>
<line x1="52.60" y1="508.02" x2="55.20" y2="508.02" stroke="#262626" stroke-width="1"/>
<line x1="50.60" y1="492.60" x2="55.20" y2="492.60" stroke="#262626" stroke-width="1"/>
<line x1="52.60" y1="477.17" x2="55.20" y2="477.17" stroke="#262626" stroke-width="1"/>
<line x1="50.60" y1="461.75" x2="55.20" y2="461.75" stroke="#262626" stroke-width="1"/>
<line x1="52.60" y1="446.32" x2="55.20" y2="446.32" stroke="#262626" stroke-width="1"/>
<line x1="50.60" y1="430.90" x2="55.20" y2="430.90" stroke="#262626" stroke-width="1"/>
<line x1="52.60" y1="415.47" x2="55.20" y2="415.47" stroke="#262626" stroke-width="1"/>
<line x1="50.60" y1="400.05" x2="55.20" y2="400.05" stroke="#262626" stroke-width="1"/>
<line x1="52.60" y1="384.62" x2="55.20" y2="384.62" stroke="#262626" stroke-width="1"/>
<line x1="50.60" y1="369.20" x2="55.20" y2="369.20" stroke="#262626" stroke-width="1"/>
<line x1="52.60" y1="353.77" x2="55.20" y2="353.77" stroke="#262626" stroke-width="1"/>
<line x1="50.60" y1="338.35" x2="55.20" y2="338.35" stroke="#262626" stroke-width="1"/>
<line x1="52.60" y1="322.93" x2="55.20" y2="322.93" stroke="#262626" stroke-width="1"/>
<line x1="50.60" y1="307.50" x2="55.20" y2="307.50" stroke="#262626" stroke-width="1"/>
<text x="47.00" y="558.30" font-size="11.5" text-anchor="end" stroke="#0a0a0a" stroke-width="0.22" >-4</text>
<text x="47.00" y="527.45" font-size="11.5" text-anchor="end" stroke="#0a0a0a" stroke-width="0.22" >-3</text>
<text x="47.00" y="496.60" font-size="11.5" text-anchor="end" stroke="#0a0a0a" stroke-width="0.22" >-2</text>
<text x="47.00" y="465.75" font-size="11.5" text-anchor="end" stroke="#0a0a0a" stroke-width="0.22" >-1</text>
<text x="47.00" y="434.90" font-size="11.5" text-anchor="end" stroke="#0a0a0a" stroke-width="0.22" >0</text>
<text x="47.00" y="404.05" font-size="11.5" text-anchor="end" stroke="#0a0a0a" stroke-width="0.22" >1</text>
<text x="47.00" y="373.20" font-size="11.5" text-anchor="end" stroke="#0a0a0a" stroke-width="0.22" >2</text>
<text x="47.00" y="342.35" font-size="11.5" text-anchor="end" stroke="#0a0a0a" stroke-width="0.22" >3</text>
<text x="47.00" y="311.50" font-size="11.5" text-anchor="end" stroke="#0a0a0a" stroke-width="0.22" >4</text>
<line x1="55.20" y1="554.30" x2="55.20" y2="558.60" stroke="#262626" stroke-width="1"/>
<line x1="103.00" y1="554.30" x2="103.00" y2="558.60" stroke="#262626" stroke-width="1"/>
<line x1="139.00" y1="554.30" x2="139.00" y2="558.60" stroke="#262626" stroke-width="1"/>
<line x1="156.30" y1="554.30" x2="156.30" y2="558.60" stroke="#262626" stroke-width="1"/>
<line x1="173.50" y1="554.30" x2="173.50" y2="558.60" stroke="#262626" stroke-width="1"/>
<line x1="209.50" y1="554.30" x2="209.50" y2="558.60" stroke="#262626" stroke-width="1"/>
<line x1="257.40" y1="554.30" x2="257.40" y2="558.60" stroke="#262626" stroke-width="1"/>
<text x="55.20" y="570.70" font-size="11.3" text-anchor="middle" stroke="#0a0a0a" stroke-width="0.22" >Γ</text>
<text x="103.00" y="570.70" font-size="11.3" text-anchor="middle" stroke="#0a0a0a" stroke-width="0.22" >X</text>
<text x="138.70" y="570.70" font-size="11.3" text-anchor="middle" stroke="#0a0a0a" stroke-width="0.22" >H</text>
<text x="144.60" y="573.40" font-size="8.2" text-anchor="middle" stroke="#0a0a0a" stroke-width="0.22" >1</text>
<text x="156.30" y="570.70" font-size="11.3" text-anchor="middle" stroke="#0a0a0a" stroke-width="0.22" >C</text>
<text x="173.50" y="570.70" font-size="11.3" text-anchor="middle" stroke="#0a0a0a" stroke-width="0.22" >H</text>
<text x="209.50" y="570.70" font-size="11.3" text-anchor="middle" stroke="#0a0a0a" stroke-width="0.22" >Y</text>
<text x="257.40" y="570.70" font-size="11.3" text-anchor="middle" stroke="#0a0a0a" stroke-width="0.22" >Γ</text>
<text x="155.50" y="590.10" font-size="12.6" text-anchor="middle" stroke="#0a0a0a" stroke-width="0.22" >Band Structure</text>
<rect x="275.00" y="307.50" width="111.30" height="246.80" fill="none" stroke="#262626" stroke-width="1"/>
<line x1="270.40" y1="554.30" x2="275.00" y2="554.30" stroke="#262626" stroke-width="1"/>
<line x1="270.40" y1="523.45" x2="275.00" y2="523.45" stroke="#262626" stroke-width="1"/>
<line x1="270.40" y1="492.60" x2="275.00" y2="492.60" stroke="#262626" stroke-width="1"/>
<line x1="270.40" y1="461.75" x2="275.00" y2="461.75" stroke="#262626" stroke-width="1"/>
<line x1="270.40" y1="430.90" x2="275.00" y2="430.90" stroke="#262626" stroke-width="1"/>
<line x1="270.40" y1="400.05" x2="275.00" y2="400.05" stroke="#262626" stroke-width="1"/>
<line x1="270.40" y1="369.20" x2="275.00" y2="369.20" stroke="#262626" stroke-width="1"/>
<line x1="270.40" y1="338.35" x2="275.00" y2="338.35" stroke="#262626" stroke-width="1"/>
<line x1="270.40" y1="307.50" x2="275.00" y2="307.50" stroke="#262626" stroke-width="1"/>
<line x1="275.00" y1="554.30" x2="275.00" y2="558.60" stroke="#262626" stroke-width="1"/>
<text x="275.00" y="573.20" font-size="13.5" text-anchor="middle" stroke="#0a0a0a" stroke-width="0.22" >0</text>
<line x1="302.82" y1="554.30" x2="302.82" y2="558.60" stroke="#262626" stroke-width="1"/>
<text x="302.82" y="573.20" font-size="13.5" text-anchor="middle" stroke="#0a0a0a" stroke-width="0.22" >5</text>
<line x1="330.65" y1="554.30" x2="330.65" y2="558.60" stroke="#262626" stroke-width="1"/>
<text x="330.65" y="573.20" font-size="13.5" text-anchor="middle" stroke="#0a0a0a" stroke-width="0.22" >10</text>
<line x1="358.48" y1="554.30" x2="358.48" y2="558.60" stroke="#262626" stroke-width="1"/>
<text x="358.48" y="573.20" font-size="13.5" text-anchor="middle" stroke="#0a0a0a" stroke-width="0.22" >15</text>
<line x1="386.30" y1="554.30" x2="386.30" y2="558.60" stroke="#262626" stroke-width="1"/>
<text x="386.30" y="573.20" font-size="13.5" text-anchor="middle" stroke="#0a0a0a" stroke-width="0.22" >20</text>
<line x1="288.91" y1="554.30" x2="288.91" y2="556.70" stroke="#262626" stroke-width="1"/>
<line x1="316.74" y1="554.30" x2="316.74" y2="556.70" stroke="#262626" stroke-width="1"/>
<line x1="344.56" y1="554.30" x2="344.56" y2="556.70" stroke="#262626" stroke-width="1"/>
<line x1="372.39" y1="554.30" x2="372.39" y2="556.70" stroke="#262626" stroke-width="1"/>
<text x="330.80" y="595.60" font-size="13.8" text-anchor="middle" stroke="#0a0a0a" stroke-width="0.22" >TDOS</text>
<rect x="404.20" y="307.50" width="112.30" height="246.80" fill="none" stroke="#262626" stroke-width="1"/>
<line x1="399.60" y1="554.30" x2="404.20" y2="554.30" stroke="#262626" stroke-width="1"/>
<line x1="401.60" y1="538.88" x2="404.20" y2="538.88" stroke="#262626" stroke-width="1"/>
<line x1="399.60" y1="523.45" x2="404.20" y2="523.45" stroke="#262626" stroke-width="1"/>
<line x1="401.60" y1="508.02" x2="404.20" y2="508.02" stroke="#262626" stroke-width="1"/>
<line x1="399.60" y1="492.60" x2="404.20" y2="492.60" stroke="#262626" stroke-width="1"/>
<line x1="401.60" y1="477.17" x2="404.20" y2="477.17" stroke="#262626" stroke-width="1"/>
<line x1="399.60" y1="461.75" x2="404.20" y2="461.75" stroke="#262626" stroke-width="1"/>
<line x1="401.60" y1="446.32" x2="404.20" y2="446.32" stroke="#262626" stroke-width="1"/>
<line x1="399.60" y1="430.90" x2="404.20" y2="430.90" stroke="#262626" stroke-width="1"/>
<line x1="401.60" y1="415.47" x2="404.20" y2="415.47" stroke="#262626" stroke-width="1"/>
<line x1="399.60" y1="400.05" x2="404.20" y2="400.05" stroke="#262626" stroke-width="1"/>
<line x1="401.60" y1="384.62" x2="404.20" y2="384.62" stroke="#262626" stroke-width="1"/>
<line x1="399.60" y1="369.20" x2="404.20" y2="369.20" stroke="#262626" stroke-width="1"/>
<line x1="401.60" y1="353.77" x2="404.20" y2="353.77" stroke="#262626" stroke-width="1"/>
<line x1="399.60" y1="338.35" x2="404.20" y2="338.35" stroke="#262626" stroke-width="1"/>
<line x1="401.60" y1="322.93" x2="404.20" y2="322.93" stroke="#262626" stroke-width="1"/>
<line x1="399.60" y1="307.50" x2="404.20" y2="307.50" stroke="#262626" stroke-width="1"/>
<line x1="404.20" y1="554.30" x2="404.20" y2="558.60" stroke="#262626" stroke-width="1"/>
<text x="404.20" y="573.20" font-size="13.5" text-anchor="middle" stroke="#0a0a0a" stroke-width="0.22" >0</text>
<line x1="432.27" y1="554.30" x2="432.27" y2="558.60" stroke="#262626" stroke-width="1"/>
<text x="432.27" y="573.20" font-size="13.5" text-anchor="middle" stroke="#0a0a0a" stroke-width="0.22" >5</text>
<line x1="460.35" y1="554.30" x2="460.35" y2="558.60" stroke="#262626" stroke-width="1"/>
<text x="460.35" y="573.20" font-size="13.5" text-anchor="middle" stroke="#0a0a0a" stroke-width="0.22" >10</text>
<line x1="488.43" y1="554.30" x2="488.43" y2="558.60" stroke="#262626" stroke-width="1"/>
<text x="488.43" y="573.20" font-size="13.5" text-anchor="middle" stroke="#0a0a0a" stroke-width="0.22" >15</text>
<line x1="516.50" y1="554.30" x2="516.50" y2="558.60" stroke="#262626" stroke-width="1"/>
<text x="516.50" y="573.20" font-size="13.5" text-anchor="middle" stroke="#0a0a0a" stroke-width="0.22" >20</text>
<line x1="418.24" y1="554.30" x2="418.24" y2="556.70" stroke="#262626" stroke-width="1"/>
<line x1="446.31" y1="554.30" x2="446.31" y2="556.70" stroke="#262626" stroke-width="1"/>
<line x1="474.39" y1="554.30" x2="474.39" y2="556.70" stroke="#262626" stroke-width="1"/>
<line x1="502.46" y1="554.30" x2="502.46" y2="556.70" stroke="#262626" stroke-width="1"/>
<text x="459.70" y="596.10" font-size="14.0" text-anchor="middle" stroke="#0a0a0a" stroke-width="0.22" >PDOS</text>
<text x="0" y="0" font-size="12.7" text-anchor="middle" stroke="#0a0a0a" stroke-width="0.22" transform="translate(24.0,427.00) rotate(-90)">Energy (eV)</text>
<defs><clipPath id="cta"><rect x="272.9" y="6.0" width="110.70000000000005" height="244.6"/></clipPath><clipPath id="cpa"><rect x="404.5" y="6.0" width="110.70000000000005" height="244.6"/></clipPath></defs>
<defs><clipPath id="ctb"><rect x="275.0" y="307.5" width="111.30000000000001" height="246.79999999999995"/></clipPath><clipPath id="cpb"><rect x="404.2" y="307.5" width="112.30000000000001" height="246.79999999999995"/></clipPath></defs>
<path d="M284.00,6.40 L282.70,8.00 L285.30,9.30 L282.70,8.00 L292.00,8.70 L285.30,9.40 L285.30,10.00 L288.00,12.00 L292.00,13.30 L296.00,14.00 L296.81,14.60 L306.70,15.30 L298.70,16.00 L298.70,16.00 L290.70,16.70 L291.84,16.60 L301.30,17.30 L289.30,18.00 L289.30,18.00 L289.46,18.60 L293.30,19.30 L289.82,20.00 L290.00,20.70 L290.70,22.70 L292.00,25.30 L290.00,27.30 L297.30,28.70 L296.78,28.60 L315.30,29.30 L296.00,30.00 L296.00,30.00 L292.00,31.30 L296.70,34.00 L295.29,34.60 L304.00,35.30 L292.00,36.00 L292.00,36.00 L292.89,36.60 L297.30,37.30 L294.96,38.00 L296.00,38.70 L295.85,38.60 L317.30,39.30 L297.30,40.00 L297.30,40.00 L308.00,41.30 L310.70,44.00 L309.21,44.60 L336.00,45.30 L305.74,46.00 L304.00,46.70 L300.87,48.00 L316.00,48.70 L296.25,49.40 L298.70,48.90 L293.30,50.00 L290.00,51.30 L289.18,52.00 L292.00,52.70 L287.53,53.40 L285.30,55.30 L283.30,56.70 L286.70,58.00 L286.70,58.00 L296.00,58.70 L287.88,59.40 L288.00,59.30 L284.70,62.00 L284.42,63.30 L286.70,64.00 L284.13,64.70 L284.00,65.30 L283.50,66.60 L286.70,67.30 L282.97,68.00 L282.70,68.70 L281.30,71.30 L280.00,74.00 L280.00,74.00 L282.70,74.70 L279.09,75.40 L278.70,76.00 L278.00,79.00 L277.50,83.00 L278.00,86.00 L276.00,88.00 L274.00,91.00 L273.20,94.00 L273.20,97.60 L274.00,99.00 L276.50,100.00 L276.00,102.00 L276.50,106.00 L277.50,111.00 L279.00,116.00 L281.00,119.00 L280.91,119.30 L283.50,120.00 L280.61,120.70 L280.50,120.60 L282.00,122.00 L280.00,123.00 L281.50,124.00 L281.00,126.00 L281.00,128.00 L280.06,130.00 L283.50,130.70 L279.44,131.40 L279.50,131.20 L279.00,133.00 L279.30,134.00 L280.70,136.00 L286.00,138.00 L285.60,138.40 L305.30,139.10 L284.08,139.80 L284.70,139.30 L278.00,144.70 L279.20,145.30 L300.70,146.00 L282.00,146.70 L282.00,146.70 L283.30,148.70 L287.30,150.00 L287.30,150.00 L291.30,150.70 L286.10,151.40 L286.00,151.30 L288.70,154.00 L288.70,154.00 L300.70,154.70 L293.80,155.40 L294.00,155.30 L292.60,156.00 L300.70,156.70 L289.34,157.40 L290.00,157.30 L280.70,158.70 L284.70,160.70 L291.30,162.00 L300.70,163.30 L302.02,163.70 L311.30,164.40 L306.64,165.10 L307.30,165.30 L304.50,166.00 L310.00,166.70 L299.91,167.40 L299.30,167.30 L306.00,168.40 L298.68,169.30 L332.70,170.00 L287.30,170.70 L287.30,170.70 L287.30,172.00 L296.70,172.70 L302.00,174.00 L298.55,176.60 L311.30,177.30 L296.70,178.00 L296.70,178.00 L296.15,179.30 L304.70,180.00 L295.55,180.70 L295.30,181.30 L304.70,183.30 L303.30,184.00 L312.70,184.70 L300.50,185.40 L299.30,186.00 L290.00,187.30 L285.40,190.00 L295.70,191.70 L290.95,194.10 L314.60,194.80 L288.17,195.50 L285.40,196.90 L295.70,199.40 L292.93,201.30 L300.90,202.00 L290.89,202.70 L290.60,202.90 L292.30,205.40 L291.81,206.40 L300.90,207.10 L291.13,207.80 L290.60,208.90 L290.27,209.90 L300.90,210.60 L289.80,211.30 L288.90,214.00 L288.99,215.30 L294.90,216.00 L289.09,216.70 L289.10,216.90 L290.10,220.70 L290.19,221.00 L301.50,221.70 L290.63,222.40 L291.00,223.60 L296.80,225.50 L296.80,225.70 L302.50,226.40 L296.80,227.10 L296.80,227.40 L302.05,229.50 L315.80,230.20 L305.55,230.90 L306.30,231.20 L310.10,233.10 L315.80,235.00 L321.50,237.50 L320.82,237.20 L334.90,237.90 L315.14,238.60 L308.20,239.80 L319.60,241.70 L311.43,242.90 L357.70,243.60 L301.90,244.30 L291.00,245.90 L306.30,246.40 L317.24,248.20 L338.70,248.90 L325.75,249.60 L330.00,250.30" fill="none" stroke="#12dc12" stroke-width="1.25" stroke-linejoin="round" clip-path="url(#cta)"/>
<path d="M273.60,6.00 L273.90,20.00 L273.50,30.00 L274.20,40.00 L273.60,55.00 L273.50,80.00 L273.50,110.00 L274.30,116.00 L275.50,120.00 L274.20,123.00 L273.60,130.00 L273.50,160.00 L273.90,200.00 L273.90,215.00 L273.90,226.40 L275.80,232.10 L276.52,234.30 L278.70,235.00 L276.98,235.70 L277.70,237.90 L277.70,238.10 L280.60,238.80 L277.70,239.50 L277.70,240.70 L277.29,242.90 L284.40,243.60 L277.03,244.30 L276.80,245.50 L275.80,247.40 L277.70,248.90 L276.00,250.30" fill="none" stroke="#ff1010" stroke-width="1.25" stroke-linejoin="round" clip-path="url(#cta)"/>
<path d="M419.30,6.40 L417.57,8.00 L421.03,9.30 L417.57,8.00 L429.97,8.70 L421.03,9.40 L421.03,10.00 L424.63,12.00 L429.97,13.30 L435.30,14.00 L436.38,14.60 L449.57,15.30 L438.90,16.00 L438.90,16.00 L428.23,16.70 L429.76,16.60 L442.37,17.30 L426.37,18.00 L426.37,18.00 L426.57,18.60 L431.70,19.30 L427.06,20.00 L427.30,20.70 L428.23,22.70 L427.85,24.60 L429.97,25.30 L427.56,26.00 L427.30,27.30 L437.03,28.70 L436.34,28.60 L461.03,29.30 L435.30,30.00 L435.30,30.00 L429.97,31.30 L436.23,34.00 L434.35,34.60 L445.97,35.30 L429.97,36.00 L429.97,36.00 L431.15,36.60 L437.03,37.30 L433.92,38.00 L435.30,38.70 L435.10,38.60 L463.70,39.30 L437.03,40.00 L437.03,40.00 L451.30,41.30 L454.90,44.00 L452.91,44.60 L488.63,45.30 L448.28,46.00 L445.97,46.70 L441.79,48.00 L461.97,48.70 L435.63,49.40 L438.90,48.90 L431.70,50.00 L427.30,51.30 L426.20,52.00 L429.97,52.70 L424.01,53.40 L421.03,55.30 L418.37,56.70 L422.90,58.00 L422.90,58.00 L435.30,58.70 L424.47,59.40 L424.63,59.30 L420.23,62.00 L419.87,63.30 L422.90,64.00 L419.47,64.70 L419.30,65.30 L418.64,66.60 L422.90,67.30 L417.92,68.00 L417.57,68.70 L415.70,71.30 L413.97,74.00 L413.97,74.00 L417.57,74.70 L412.75,75.40 L412.23,76.00 L411.30,79.00 L410.63,83.00 L409.71,85.30 L411.30,86.00 L409.15,86.70 L408.63,88.00 L405.97,91.00 L404.90,94.00 L404.90,97.60 L405.97,99.00 L406.23,99.30 L409.30,100.00 L407.48,100.70 L408.63,102.00 L409.30,106.00 L410.63,111.00 L412.63,116.00 L415.30,119.00 L415.18,119.30 L418.63,120.00 L414.61,120.70 L414.63,120.60 L414.44,121.30 L416.63,122.00 L414.05,122.70 L413.97,123.00 L415.97,124.00 L415.30,126.00 L415.30,128.00 L414.05,130.00 L418.63,130.70 L413.23,131.40 L413.30,131.20 L412.63,133.00 L413.03,134.00 L414.90,136.00 L421.97,138.00 L421.43,138.40 L447.70,139.10 L419.41,139.80 L420.23,139.30 L411.30,144.70 L412.90,145.30 L441.57,146.00 L416.63,146.70 L416.63,146.70 L418.37,148.70 L423.70,150.00 L423.70,150.00 L429.03,150.70 L422.10,151.40 L421.97,151.30 L425.57,154.00 L425.57,154.00 L441.57,154.70 L432.37,155.40 L432.63,155.30 L430.77,156.00 L441.57,156.70 L426.41,157.40 L427.30,157.30 L414.90,158.70 L420.23,160.70 L429.03,162.00 L441.57,163.30 L443.33,163.70 L455.70,164.40 L449.49,165.10 L450.37,165.30 L446.63,166.00 L453.97,166.70 L440.51,167.40 L439.70,167.30 L448.63,168.40 L438.88,169.30 L484.23,170.00 L423.70,170.70 L423.70,170.70 L423.70,172.00 L436.23,172.70 L443.30,174.00 L438.71,176.60 L455.70,177.30 L436.23,178.00 L436.23,178.00 L434.30,180.00 L429.78,183.10 L457.10,183.80 L427.74,184.50 L419.00,190.50 L430.50,192.40 L426.10,194.20 L459.00,194.90 L422.67,195.60 L419.00,197.10 L422.68,200.30 L441.90,201.00 L424.29,201.70 L426.70,203.80 L426.70,206.00 L438.10,206.70 L426.70,207.40 L426.70,208.60 L426.21,209.80 L441.90,210.50 L425.65,211.20 L424.80,213.30 L425.53,215.50 L434.30,216.20 L426.00,216.90 L426.70,219.00 L426.70,220.80 L441.90,221.50 L426.70,222.20 L426.70,223.80 L425.83,226.00 L441.90,226.70 L425.28,227.40 L424.80,228.60 L417.10,231.40 L419.00,235.20 L419.92,237.40 L432.40,238.10 L420.50,238.80 L421.00,240.00 L420.23,242.20 L451.40,242.90 L419.74,243.60 L419.00,245.70 L429.04,247.90 L455.20,248.60 L435.43,249.30 L440.00,250.30" fill="none" stroke="#12dc12" stroke-width="1.25" stroke-linejoin="round" clip-path="url(#cpa)"/>
<path d="M404.80,6.00 L405.00,60.00 L404.90,150.00 L405.00,215.00 L403.80,224.80 L405.70,228.60 L424.80,229.50 L438.10,230.50 L440.00,235.20 L436.52,237.40 L457.10,238.10 L434.30,238.80 L432.40,240.00 L430.33,243.10 L478.10,243.80 L429.40,244.50 L428.60,245.70 L419.00,247.60 L415.20,249.50 L412.00,250.30" fill="none" stroke="#f2c06e" stroke-width="1.25" stroke-linejoin="round" clip-path="url(#cpa)"/>
<path d="M404.80,224.00 L404.80,228.60 L409.50,235.20 L409.50,237.40 L414.30,238.10 L409.50,238.80 L409.50,240.00 L408.47,243.10 L419.00,243.80 L408.00,244.50 L407.60,245.70 L406.81,246.90 L411.40,247.60 L405.90,248.30 L405.70,248.60 L405.50,250.30" fill="none" stroke="#ff18ff" stroke-width="1.25" stroke-linejoin="round" clip-path="url(#cpa)"/>
<path d="M405.20,6.00 L405.60,15.00 L405.00,25.00 L405.80,35.00 L405.20,50.00 L405.00,90.00 L405.40,120.00 L406.20,122.00 L405.20,125.00 L405.00,160.00 L405.40,200.00 L405.20,240.00 L405.60,250.30" fill="none" stroke="#ff1010" stroke-width="1.25" stroke-linejoin="round" clip-path="url(#cpa)"/>
<path d="M288.80,308.20 L288.61,308.50 L295.50,309.20 L287.72,309.90 L287.40,310.40 L287.24,311.00 L292.10,311.70 L286.86,312.40 L286.70,313.00 L286.75,312.80 L301.70,313.50 L287.00,314.20 L287.00,314.20 L281.40,315.00 L281.65,315.20 L330.30,315.90 L283.40,316.60 L283.40,316.60 L292.10,317.40 L292.10,317.40 L293.40,318.10 L284.97,318.80 L285.40,318.60 L280.00,321.10 L283.40,322.40 L286.70,324.40 L288.80,326.40 L287.40,327.10 L287.15,327.90 L348.60,328.60 L286.70,329.30 L286.10,331.20 L286.34,331.80 L304.00,332.50 L286.89,333.20 L287.40,334.50 L286.10,337.10 L288.80,339.20 L293.40,341.20 L297.10,343.90 L296.39,345.00 L308.60,345.70 L295.48,346.40 L294.90,347.30 L293.30,348.90 L301.70,349.60 L291.90,350.30 L290.30,351.90 L294.90,354.10 L306.30,355.70 L314.54,356.90 L363.40,357.60 L324.15,358.30 L326.90,358.70 L306.30,359.00 L297.10,360.70 L295.55,361.70 L306.30,362.40 L293.38,363.10 L292.60,363.60 L293.08,364.60 L309.70,365.30 L293.64,366.00 L293.70,365.90 L292.60,367.60 L289.10,370.40 L288.68,371.40 L294.90,372.10 L288.08,372.80 L286.90,375.60 L285.70,379.00 L283.40,381.30 L281.10,385.90 L281.20,385.70 L284.60,386.40 L280.50,387.10 L280.00,388.10 L278.90,392.70 L279.40,398.40 L278.09,399.40 L280.00,400.10 L276.26,400.80 L275.60,401.30 L275.30,403.00 L275.30,411.00 L275.80,411.50 L276.66,414.60 L278.90,415.30 L277.05,416.00 L277.30,416.90 L278.90,422.20 L280.40,428.30 L281.10,432.90 L281.05,432.60 L311.60,433.30 L281.69,434.00 L281.90,434.40 L282.70,439.00 L281.88,441.30 L285.70,442.00 L281.38,442.70 L281.10,443.50 L282.70,448.10 L287.20,449.90 L286.70,449.70 L302.50,450.40 L285.40,451.10 L284.20,451.90 L281.10,454.20 L284.20,455.70 L283.68,456.50 L287.20,457.20 L282.77,457.90 L282.70,458.00 L284.20,461.80 L289.10,466.00 L287.94,467.90 L290.90,468.60 L287.09,469.30 L284.90,472.90 L285.70,475.40 L294.30,478.00 L294.56,478.20 L320.00,478.90 L296.39,479.60 L297.70,480.60 L301.10,482.30 L300.64,483.00 L362.00,483.70 L299.73,484.40 L299.40,484.90 L313.10,486.60 L326.90,488.30 L344.00,489.10 L331.69,490.20 L359.40,490.90 L316.02,491.60 L314.90,491.70 L321.70,493.40 L321.10,493.60 L337.10,494.30 L316.90,495.00 L316.60,495.10 L312.05,497.00 L335.40,497.70 L308.70,498.40 L306.30,499.40 L301.75,501.30 L321.70,502.00 L298.40,502.70 L296.00,503.70 L298.65,504.70 L309.70,505.40 L302.37,506.10 L302.90,506.30 L302.97,506.40 L313.10,507.10 L303.88,507.80 L304.60,508.90 L308.00,511.40 L316.60,512.60 L305.09,514.20 L349.10,514.90 L295.02,515.60 L294.30,515.70 L293.65,516.70 L304.60,517.40 L292.73,518.10 L292.60,518.30 L297.70,522.60 L313.10,524.90 L310.10,525.90 L323.40,526.60 L305.90,527.30 L302.90,528.30 L303.82,529.00 L352.60,529.70 L305.65,530.40 L306.30,530.90 L308.00,531.70 L305.22,533.30 L386.00,534.00 L302.78,534.70 L296.00,538.60 L298.47,539.20 L326.90,539.90 L304.24,540.60 L306.30,541.10 L314.90,542.00 L312.06,542.70 L354.30,543.40 L307.36,544.10 L308.00,543.70 L306.40,544.70 L321.70,545.40 L304.15,546.10 L301.10,548.00 L323.40,548.90 L322.72,549.40 L344.00,550.10 L320.82,550.80 L320.00,551.40 L323.40,552.30 L325.97,553.00 L349.10,553.70 L288.80,554.40 L330.00,554.10" fill="none" stroke="#12dc12" stroke-width="1.25" stroke-linejoin="round" clip-path="url(#ctb)"/>
<path d="M275.60,308.00 L276.20,312.00 L275.50,318.00 L276.00,330.00 L275.50,345.00 L275.60,360.00 L275.50,380.00 L275.40,420.00 L275.60,431.00 L275.69,432.50 L280.40,433.20 L275.78,433.90 L275.80,434.20 L276.30,440.00 L275.50,447.00 L276.60,452.00 L275.60,458.00 L275.40,470.00 L275.40,483.10 L278.90,484.00 L279.70,486.60 L279.80,486.70 L284.00,487.40 L281.26,488.10 L282.30,489.10 L282.30,490.20 L288.30,490.90 L282.30,491.60 L282.30,491.70 L281.65,492.70 L284.90,493.40 L280.73,494.10 L280.60,494.30 L280.20,495.30 L282.30,496.00 L279.65,496.70 L278.90,498.60 L276.30,501.10 L275.40,502.90 L278.00,506.30 L278.10,506.40 L282.30,507.10 L279.50,507.80 L280.60,508.90 L283.10,510.60 L284.00,513.10 L282.56,514.20 L292.60,514.90 L280.73,515.60 L280.60,515.70 L277.10,517.40 L275.40,520.90 L276.30,520.60 L276.58,522.40 L278.90,523.10 L276.80,523.80 L277.10,525.70 L277.10,528.40 L282.30,529.10 L277.10,529.80 L277.10,530.90 L277.62,534.40 L282.30,535.10 L277.84,535.80 L278.00,536.90 L278.90,540.30 L277.95,543.00 L280.60,543.70 L277.45,544.40 L277.10,545.40 L279.70,548.90 L282.30,551.40 L283.10,554.00" fill="none" stroke="#ff1010" stroke-width="1.25" stroke-linejoin="round" clip-path="url(#ctb)"/>
<path d="M278.00,308.00 L278.00,309.40 L277.40,311.70 L276.85,313.00 L279.40,313.70 L276.25,314.40 L276.00,315.00 L276.58,316.00 L282.70,316.70 L277.40,317.40 L277.40,317.40 L276.00,318.40 L277.40,320.40 L276.00,322.40 L277.40,324.40 L275.70,327.10 L275.86,329.10 L279.40,329.80 L275.98,330.50 L276.00,330.80 L275.40,333.10 L275.40,345.00 L276.00,356.10 L275.40,360.70 L276.60,363.00 L276.60,364.00 L280.60,364.70 L276.60,365.40 L276.60,366.40 L275.40,367.60 L275.20,415.00 L275.20,554.00" fill="none" stroke="#1414ff" stroke-width="1.25" stroke-linejoin="round" clip-path="url(#ctb)"/>
<path d="M404.70,308.00 L405.30,330.00 L404.80,360.00 L404.89,363.30 L408.00,364.00 L404.93,364.70 L405.00,367.00 L404.60,400.00 L404.60,554.00" fill="none" stroke="#1414ff" stroke-width="1.25" stroke-linejoin="round" clip-path="url(#cpb)"/>
<path d="M418.12,308.20 L417.93,308.50 L424.88,309.20 L417.03,309.90 L416.71,310.40 L416.55,311.00 L421.45,311.70 L416.17,312.40 L416.01,313.00 L416.06,312.80 L431.14,313.50 L416.31,314.20 L416.31,314.20 L410.66,315.00 L410.91,315.20 L460.00,315.90 L412.68,316.60 L412.68,316.60 L421.45,317.40 L421.45,317.40 L422.77,318.10 L414.26,318.80 L414.69,318.60 L409.24,321.10 L412.68,322.40 L416.01,324.40 L418.12,326.40 L416.71,327.10 L416.46,327.90 L478.46,328.60 L416.01,329.30 L415.40,331.20 L415.64,331.80 L433.46,332.50 L416.19,333.20 L416.71,334.50 L415.40,337.10 L418.12,339.20 L422.77,341.20 L426.50,343.90 L425.78,345.00 L438.10,345.70 L424.87,346.40 L424.28,347.30 L422.66,348.90 L431.14,349.60 L421.25,350.30 L419.64,351.90 L424.28,354.10 L435.78,355.70 L444.10,356.90 L493.39,357.60 L453.79,358.30 L456.57,358.70 L435.78,359.00 L426.50,360.70 L424.93,361.70 L435.78,362.40 L422.74,363.10 L421.96,363.60 L422.44,364.60 L439.21,365.30 L423.00,366.00 L423.07,365.90 L421.96,367.60 L418.43,370.40 L418.00,371.40 L424.28,372.10 L417.40,372.80 L416.21,375.60 L415.00,379.00 L412.68,381.30 L410.35,385.90 L410.46,385.70 L413.89,386.40 L409.75,387.10 L409.24,388.10 L408.14,392.70 L408.64,398.40 L407.32,399.40 L409.24,400.10 L405.47,400.80 L404.81,401.30 L404.50,403.00 L404.50,411.00 L405.01,411.50 L405.88,414.60 L408.14,415.30 L406.27,416.00 L406.52,416.90 L408.14,422.20 L409.65,428.30 L410.35,432.90 L410.31,432.60 L441.13,433.30 L410.95,434.00 L411.16,434.40 L411.97,439.00 L411.14,441.30 L415.00,442.00 L410.64,442.70 L410.35,443.50 L411.97,448.10 L416.51,449.90 L416.01,449.70 L431.95,450.40 L414.69,451.10 L413.48,451.90 L410.35,454.20 L413.48,455.70 L412.96,456.50 L416.51,457.20 L412.03,457.90 L411.97,458.00 L413.48,461.80 L418.43,466.00 L420.24,468.60 L419.42,469.30 L421.00,470.00 L417.78,470.70 L415.20,472.90 L419.00,475.70 L424.80,478.60 L424.40,478.40 L449.50,479.10 L427.20,479.80 L428.60,480.50 L430.50,482.40 L428.07,483.20 L495.20,483.90 L423.81,484.60 L422.90,484.90 L424.80,487.10 L424.22,488.30 L432.40,489.00 L423.53,489.70 L422.90,491.00 L421.67,492.20 L434.30,492.90 L420.23,493.60 L419.00,494.80 L419.00,496.00 L436.20,496.70 L419.00,497.40 L419.00,499.50 L420.83,500.70 L441.90,501.40 L422.97,502.10 L424.80,503.30 L422.97,504.50 L430.50,505.20 L420.83,505.90 L419.00,507.10 L421.00,510.00 L421.95,512.40 L440.00,513.10 L422.50,513.80 L422.90,514.80 L419.00,517.60 L418.12,520.70 L421.00,521.40 L417.72,522.10 L417.10,524.30 L417.95,526.40 L428.60,527.10 L418.51,527.80 L419.00,529.00 L413.97,534.10 L449.50,534.80 L412.58,535.50 L411.40,536.70 L409.50,538.60 L411.30,539.80 L424.80,540.50 L413.40,541.20 L415.20,542.40 L414.50,544.50 L436.20,545.20 L414.03,545.90 L413.30,548.10 L412.57,550.30 L419.00,551.00 L412.10,551.70 L411.40,553.80" fill="none" stroke="#12dc12" stroke-width="1.25" stroke-linejoin="round" clip-path="url(#cpb)"/>
<path d="M404.60,400.00 L404.80,480.00 L405.70,484.30 L424.80,487.10 L425.75,488.30 L451.40,489.00 L426.86,489.70 L428.60,491.90 L428.00,493.10 L441.90,493.80 L427.30,494.50 L426.70,495.70 L423.38,496.90 L441.90,497.60 L419.52,498.30 L405.70,503.30 L407.60,505.20 L407.30,505.50 L430.50,506.20 L405.90,506.90 L405.70,507.10 L405.70,515.70 L411.40,520.50 L415.20,522.40 L420.42,525.50 L434.30,526.20 L422.78,526.90 L424.80,528.10 L425.75,529.30 L451.40,530.00 L426.86,530.70 L428.60,532.90 L426.97,534.10 L486.70,534.80 L425.07,535.50 L424.80,535.70 L422.90,538.60 L423.90,542.60 L459.00,543.30 L424.25,544.00 L424.80,546.20 L457.10,551.00 L459.00,553.80" fill="none" stroke="#f2c06e" stroke-width="1.25" stroke-linejoin="round" clip-path="url(#cpb)"/>
<path d="M404.60,480.00 L405.70,484.00 L407.60,486.20 L408.30,488.30 L413.30,489.00 L408.77,489.70 L409.50,491.90 L409.02,493.10 L415.20,493.80 L408.47,494.50 L407.60,496.70 L406.57,499.80 L411.40,500.50 L406.10,501.20 L405.70,502.40 L405.70,507.10 L413.30,510.00 L408.65,514.10 L419.00,514.80 L407.06,515.50 L405.70,516.70 L405.70,523.30 L405.70,526.40 L409.50,527.10 L405.70,527.80 L405.70,531.00 L407.60,534.80 L405.70,538.60 L407.60,542.40 L405.70,546.20 L406.47,549.30 L409.50,550.00 L406.83,550.70 L407.60,553.80" fill="none" stroke="#ff18ff" stroke-width="1.25" stroke-linejoin="round" clip-path="url(#cpb)"/>
<path d="M404.80,308.00 L405.50,312.00 L405.37,313.80 L409.00,314.50 L405.26,315.20 L405.20,316.00 L405.00,330.00 L406.50,335.00 L405.00,337.00 L405.00,350.00 L404.90,400.00 L405.00,430.00 L405.12,432.60 L410.00,433.30 L405.18,434.00 L405.20,434.50 L405.80,445.00 L406.60,452.00 L405.20,458.00 L405.00,480.00 L405.30,500.00 L405.00,554.00" fill="none" stroke="#ff1010" stroke-width="1.25" stroke-linejoin="round" clip-path="url(#cpb)"/>
<rect x="225.50" y="79.40" width="30.10" height="29.30" fill="#fff" stroke="#8a8a8a" stroke-width="0.9"/>
<rect x="228.40" y="84.00" width="6.6" height="6.4" fill="#ff0000"/>
<text x="241.90" y="90.80" font-size="10.5" text-anchor="start" stroke="#0a0a0a" stroke-width="0.22" >B</text>
<rect x="228.40" y="98.90" width="6.6" height="6.4" fill="#00a651"/>
<text x="241.90" y="105.70" font-size="10.5" text-anchor="start" stroke="#0a0a0a" stroke-width="0.22" >C</text>
<rect x="347.40" y="59.40" width="36.20" height="27.10" fill="#fff" stroke="#8a8a8a" stroke-width="0.9"/>
<line x1="348.60" y1="66.60" x2="372.70" y2="66.60" stroke="#ff1010" stroke-width="1.3"/>
<text x="375.20" y="70.00" font-size="10.5" text-anchor="start" stroke="#0a0a0a" stroke-width="0.22" >B</text>
<line x1="348.60" y1="79.50" x2="372.70" y2="79.50" stroke="#10dd10" stroke-width="1.3"/>
<text x="375.20" y="82.90" font-size="10.5" text-anchor="start" stroke="#0a0a0a" stroke-width="0.22" >C</text>
<rect x="447.80" y="57.30" width="67.40" height="52.30" fill="#fff" stroke="#8a8a8a" stroke-width="0.9"/>
<line x1="448.90" y1="64.60" x2="472.40" y2="64.60" stroke="#ff10ff" stroke-width="1.3"/>
<text x="474.90" y="68.00" font-size="10.5" text-anchor="start" stroke="#0a0a0a" stroke-width="0.22" >B-px+py</text>
<line x1="448.90" y1="77.20" x2="472.40" y2="77.20" stroke="#ff1010" stroke-width="1.3"/>
<text x="474.90" y="80.60" font-size="10.5" text-anchor="start" stroke="#0a0a0a" stroke-width="0.22" >B-pz</text>
<line x1="448.90" y1="89.70" x2="472.40" y2="89.70" stroke="#f5c47a" stroke-width="1.3"/>
<text x="474.90" y="93.10" font-size="10.5" text-anchor="start" stroke="#0a0a0a" stroke-width="0.22" >C-px+py</text>
<line x1="448.90" y1="102.30" x2="472.40" y2="102.30" stroke="#10dd10" stroke-width="1.3"/>
<text x="474.90" y="105.70" font-size="10.5" text-anchor="start" stroke="#0a0a0a" stroke-width="0.22" >C-pz</text>
<rect x="225.50" y="386.40" width="31.90" height="42.90" fill="#fff" stroke="#8a8a8a" stroke-width="0.9"/>
<rect x="227.80" y="390.80" width="6.6" height="6.4" fill="#ff0000"/>
<text x="240.20" y="397.60" font-size="10.5" text-anchor="start" stroke="#0a0a0a" stroke-width="0.22" >B</text>
<rect x="227.80" y="404.80" width="6.6" height="6.4" fill="#00a651"/>
<text x="240.20" y="411.60" font-size="10.5" text-anchor="start" stroke="#0a0a0a" stroke-width="0.22" >C</text>
<rect x="227.80" y="419.90" width="6.6" height="6.4" fill="#0066ff"/>
<text x="240.20" y="426.70" font-size="10.5" text-anchor="start" stroke="#0a0a0a" stroke-width="0.22" >K</text>
<rect x="349.90" y="367.40" width="36.40" height="39.50" fill="#fff" stroke="#8a8a8a" stroke-width="0.9"/>
<line x1="351.00" y1="374.50" x2="375.00" y2="374.50" stroke="#ff1010" stroke-width="1.3"/>
<text x="377.80" y="377.90" font-size="10.5" text-anchor="start" stroke="#0a0a0a" stroke-width="0.22" >B</text>
<line x1="351.00" y1="387.40" x2="375.00" y2="387.40" stroke="#10dd10" stroke-width="1.3"/>
<text x="377.80" y="390.80" font-size="10.5" text-anchor="start" stroke="#0a0a0a" stroke-width="0.22" >C</text>
<line x1="351.00" y1="400.20" x2="375.00" y2="400.20" stroke="#1010ff" stroke-width="1.3"/>
<text x="377.80" y="403.60" font-size="10.5" text-anchor="start" stroke="#0a0a0a" stroke-width="0.22" >K</text>
<rect x="448.40" y="363.10" width="68.10" height="91.70" fill="#fff" stroke="#8a8a8a" stroke-width="0.9"/>
<line x1="449.70" y1="370.90" x2="473.70" y2="370.90" stroke="#ff10ff" stroke-width="1.3"/>
<text x="476.00" y="374.30" font-size="10.5" text-anchor="start" stroke="#0a0a0a" stroke-width="0.22" >B-px+py</text>
<line x1="449.70" y1="383.80" x2="473.70" y2="383.80" stroke="#ff1010" stroke-width="1.3"/>
<text x="476.00" y="387.20" font-size="10.5" text-anchor="start" stroke="#0a0a0a" stroke-width="0.22" >B-pz</text>
<line x1="449.70" y1="396.80" x2="473.70" y2="396.80" stroke="#f5c47a" stroke-width="1.3"/>
<text x="476.00" y="400.20" font-size="10.5" text-anchor="start" stroke="#0a0a0a" stroke-width="0.22" >C-px+py</text>
<line x1="449.70" y1="409.70" x2="473.70" y2="409.70" stroke="#10dd10" stroke-width="1.3"/>
<text x="476.00" y="413.10" font-size="10.5" text-anchor="start" stroke="#0a0a0a" stroke-width="0.22" >C-pz</text>
<line x1="449.70" y1="422.70" x2="473.70" y2="422.70" stroke="#1010ff" stroke-width="1.3"/>
<text x="476.00" y="426.10" font-size="10.5" text-anchor="start" stroke="#0a0a0a" stroke-width="0.22" >K-s</text>
<line x1="449.70" y1="435.10" x2="473.70" y2="435.10" stroke="#b46cff" stroke-width="1.3"/>
<text x="476.00" y="438.50" font-size="10.5" text-anchor="start" stroke="#0a0a0a" stroke-width="0.22" >K-px+py</text>
<line x1="449.70" y1="448.80" x2="473.70" y2="448.80" stroke="#111111" stroke-width="1.3"/>
<text x="476.00" y="452.20" font-size="10.5" text-anchor="start" stroke="#0a0a0a" stroke-width="0.22" >K-pz</text>
<rect x="55.30" y="6.00" width="200.30" height="244.60" fill="none" stroke="#262626" stroke-width="1"/>
<rect x="272.90" y="6.00" width="110.70" height="244.60" fill="none" stroke="#262626" stroke-width="1"/>
<rect x="404.50" y="6.00" width="110.70" height="244.60" fill="none" stroke="#262626" stroke-width="1"/>
<rect x="55.20" y="307.50" width="202.20" height="246.80" fill="none" stroke="#262626" stroke-width="1"/>
<rect x="275.00" y="307.50" width="111.30" height="246.80" fill="none" stroke="#262626" stroke-width="1"/>
<rect x="404.20" y="307.50" width="112.30" height="246.80" fill="none" stroke="#262626" stroke-width="1"/>
<text x="0.00" y="15.00" font-size="20.3" text-anchor="start" stroke="#0a0a0a" stroke-width="0.22" >(a)</text>
<text x="-0.30" y="317.80" font-size="21" text-anchor="start" stroke="#0a0a0a" stroke-width="0.22" >(b)</text>
</g></svg>
</body></html>
